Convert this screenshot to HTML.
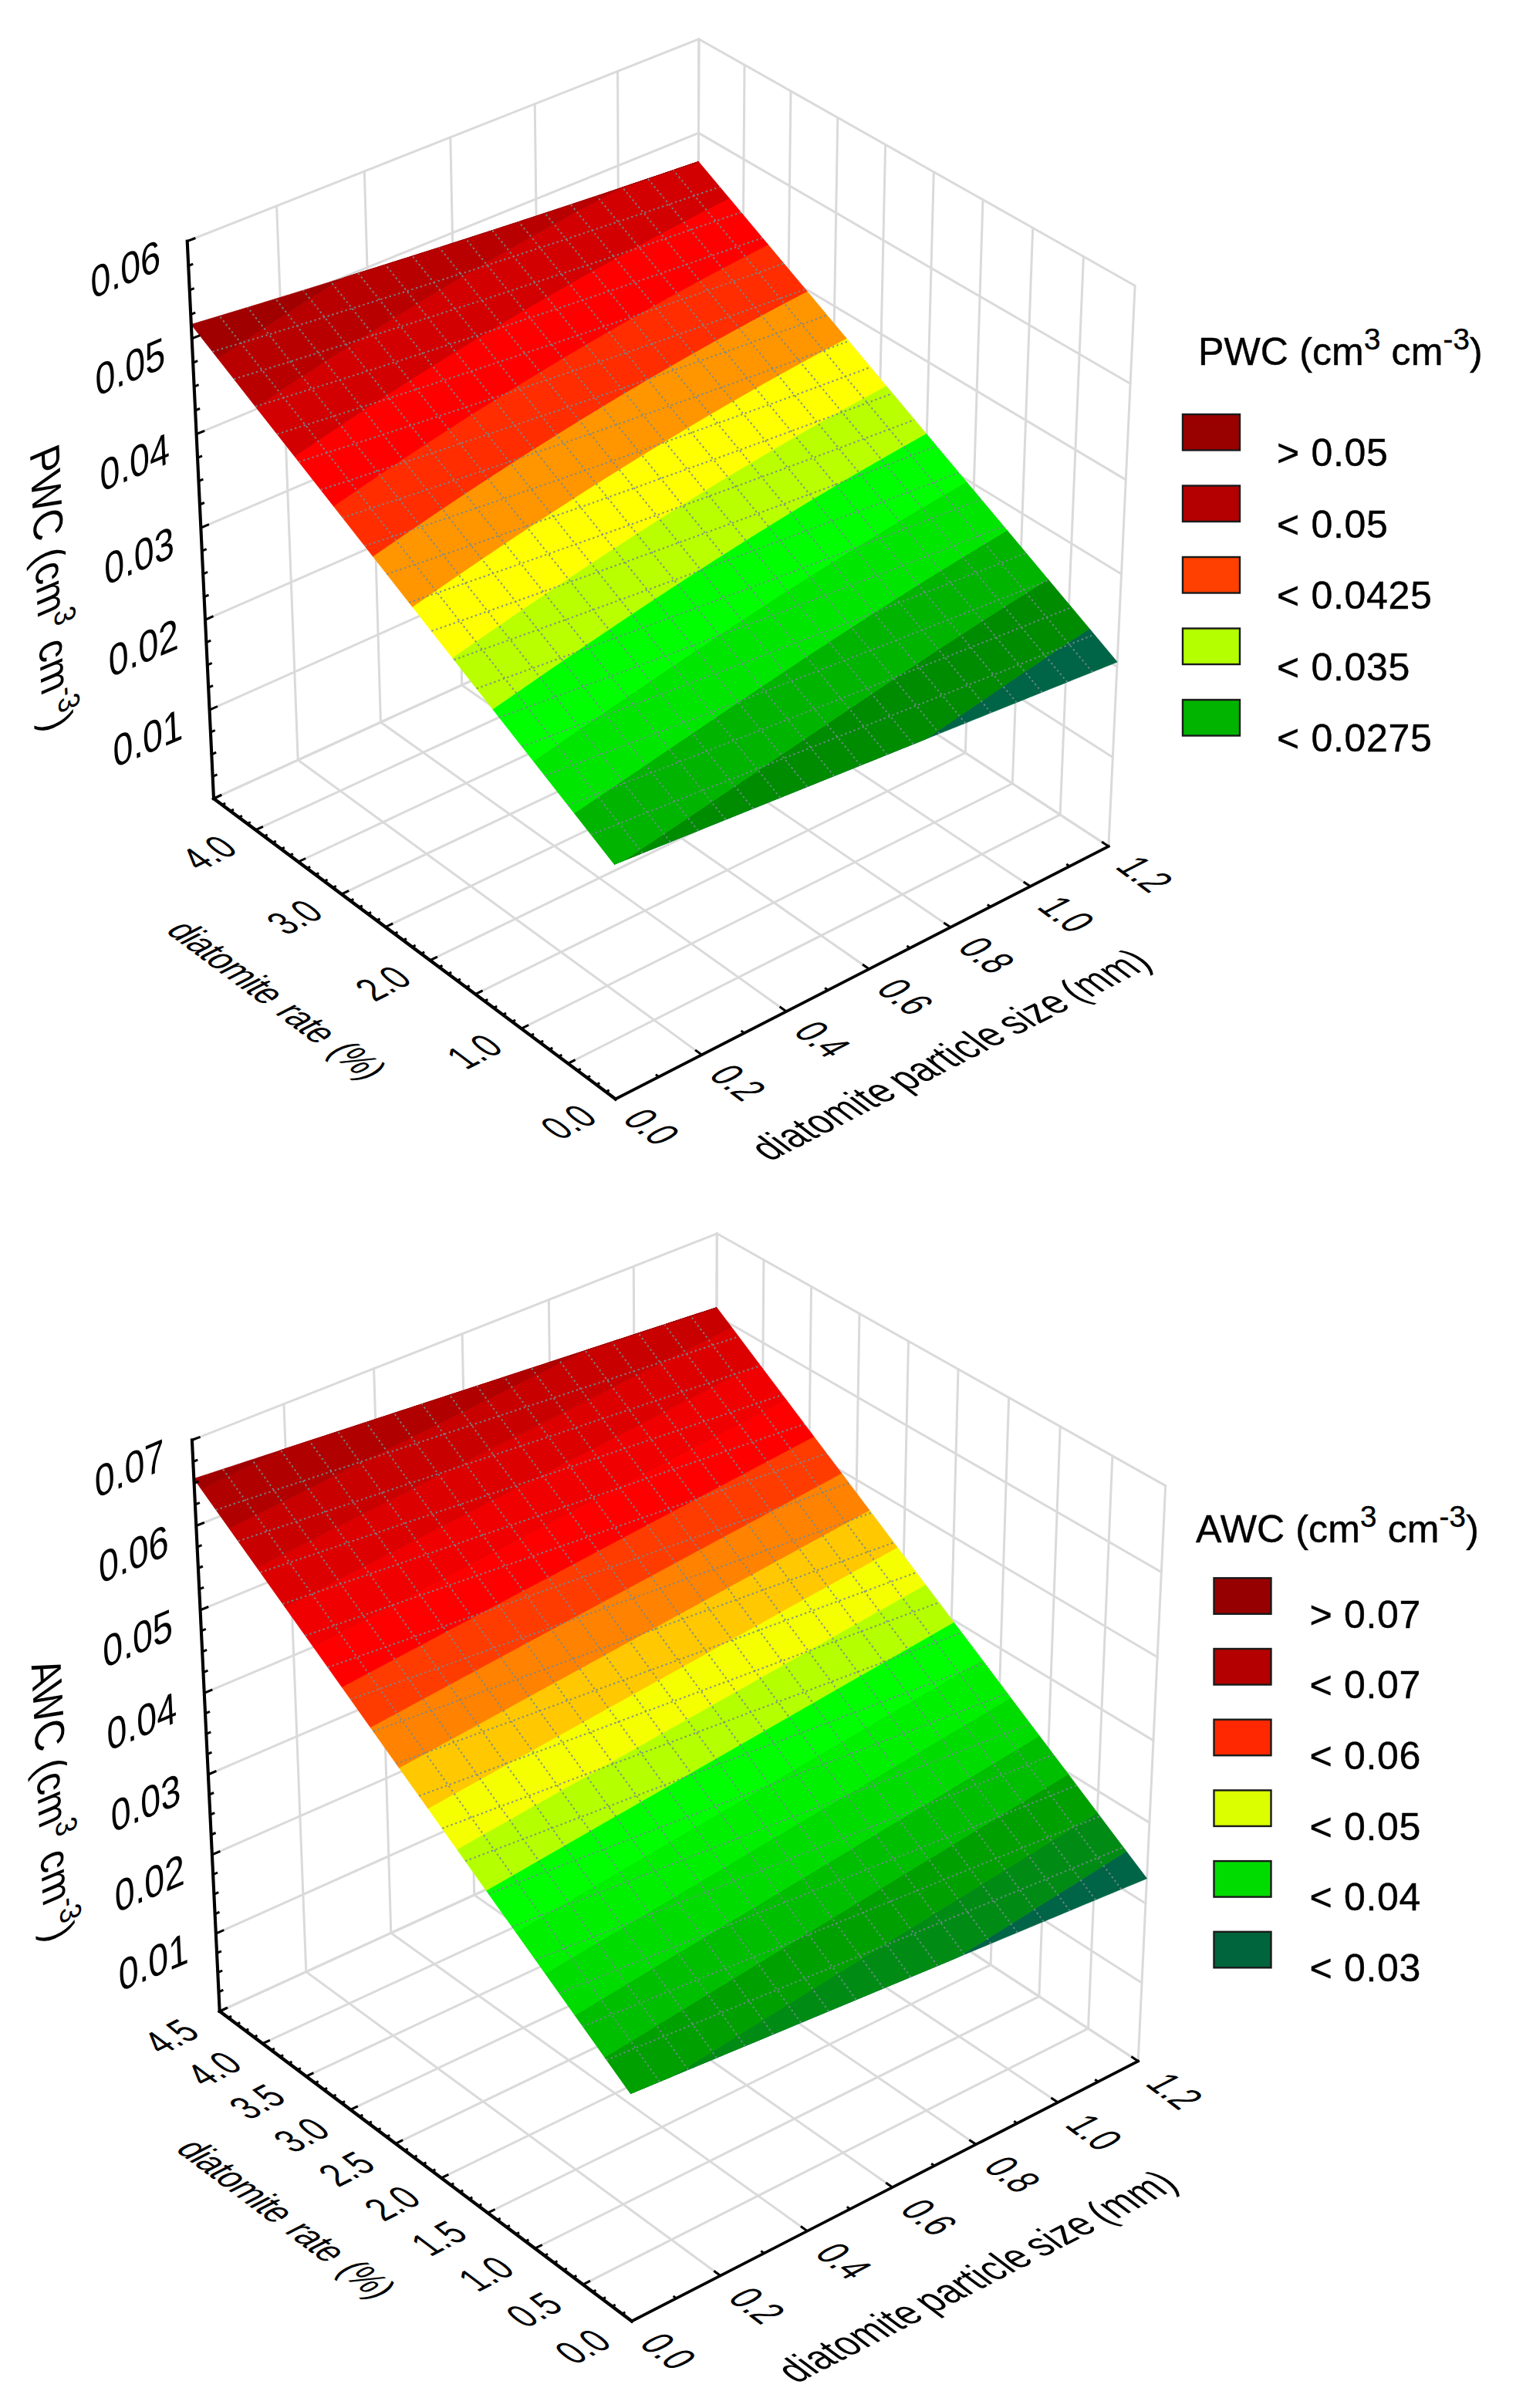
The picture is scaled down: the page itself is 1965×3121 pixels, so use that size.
<!DOCTYPE html>
<html><head><meta charset="utf-8"><title>Figure</title>
<style>html,body{margin:0;padding:0;background:#fff}svg{display:block}</style></head>
<body>
<svg width="1965" height="3121" viewBox="0 0 1965 3121" font-family="'Liberation Sans', sans-serif" fill="#000">
<g stroke-linecap="round">
<line x1="277" y1="1035" x2="242.7" y2="312.7" stroke="#dadada" stroke-width="3.0"/>
<line x1="797.8" y1="1424.4" x2="277" y2="1035" stroke="#dadada" stroke-width="3.0"/>
<line x1="386.2" y1="985" x2="358.6" y2="266.9" stroke="#dadada" stroke-width="3.0"/>
<line x1="909.6" y1="1367.1" x2="386.2" y2="985" stroke="#dadada" stroke-width="3.0"/>
<line x1="493.4" y1="936" x2="472.3" y2="222" stroke="#dadada" stroke-width="3.0"/>
<line x1="1019.2" y1="1310.9" x2="493.4" y2="936" stroke="#dadada" stroke-width="3.0"/>
<line x1="598.7" y1="887.9" x2="583.8" y2="178" stroke="#dadada" stroke-width="3.0"/>
<line x1="1126.6" y1="1255.9" x2="598.7" y2="887.9" stroke="#dadada" stroke-width="3.0"/>
<line x1="702.2" y1="840.6" x2="693.2" y2="134.7" stroke="#dadada" stroke-width="3.0"/>
<line x1="1232" y1="1201.8" x2="702.2" y2="840.6" stroke="#dadada" stroke-width="3.0"/>
<line x1="803.7" y1="794.2" x2="800.6" y2="92.3" stroke="#dadada" stroke-width="3.0"/>
<line x1="1335.4" y1="1148.8" x2="803.7" y2="794.2" stroke="#dadada" stroke-width="3.0"/>
<line x1="903.5" y1="748.6" x2="905.9" y2="50.7" stroke="#dadada" stroke-width="3.0"/>
<line x1="1436.9" y1="1096.9" x2="903.5" y2="748.6" stroke="#dadada" stroke-width="3.0"/>
<line x1="1436.9" y1="1096.9" x2="1471.1" y2="370.3" stroke="#dadada" stroke-width="3.0"/>
<line x1="797.8" y1="1424.4" x2="1436.9" y2="1096.9" stroke="#dadada" stroke-width="3.0"/>
<line x1="1374.1" y1="1055.9" x2="1404.4" y2="332.6" stroke="#dadada" stroke-width="3.0"/>
<line x1="736.3" y1="1378.4" x2="1374.1" y2="1055.9" stroke="#dadada" stroke-width="3.0"/>
<line x1="1312.3" y1="1015.5" x2="1338.7" y2="295.4" stroke="#dadada" stroke-width="3.0"/>
<line x1="675.8" y1="1333.1" x2="1312.3" y2="1015.5" stroke="#dadada" stroke-width="3.0"/>
<line x1="1251.3" y1="975.7" x2="1274" y2="258.9" stroke="#dadada" stroke-width="3.0"/>
<line x1="616.2" y1="1288.6" x2="1251.3" y2="975.7" stroke="#dadada" stroke-width="3.0"/>
<line x1="1191.3" y1="936.5" x2="1210.3" y2="222.8" stroke="#dadada" stroke-width="3.0"/>
<line x1="557.5" y1="1244.7" x2="1191.3" y2="936.5" stroke="#dadada" stroke-width="3.0"/>
<line x1="1132.1" y1="897.8" x2="1147.6" y2="187.4" stroke="#dadada" stroke-width="3.0"/>
<line x1="499.7" y1="1201.5" x2="1132.1" y2="897.8" stroke="#dadada" stroke-width="3.0"/>
<line x1="1073.7" y1="859.7" x2="1085.8" y2="152.4" stroke="#dadada" stroke-width="3.0"/>
<line x1="442.8" y1="1158.9" x2="1073.7" y2="859.7" stroke="#dadada" stroke-width="3.0"/>
<line x1="1016.2" y1="822.1" x2="1025" y2="118" stroke="#dadada" stroke-width="3.0"/>
<line x1="386.7" y1="1117" x2="1016.2" y2="822.1" stroke="#dadada" stroke-width="3.0"/>
<line x1="959.5" y1="785.1" x2="965" y2="84.1" stroke="#dadada" stroke-width="3.0"/>
<line x1="331.4" y1="1075.7" x2="959.5" y2="785.1" stroke="#dadada" stroke-width="3.0"/>
<line x1="903.5" y1="748.6" x2="905.9" y2="50.7" stroke="#dadada" stroke-width="3.0"/>
<line x1="277" y1="1035" x2="903.5" y2="748.6" stroke="#dadada" stroke-width="3.0"/>
<line x1="277" y1="1035" x2="903.5" y2="748.6" stroke="#dadada" stroke-width="3.0"/>
<line x1="903.5" y1="748.6" x2="1436.9" y2="1096.9" stroke="#dadada" stroke-width="3.0"/>
<line x1="271.5" y1="920.2" x2="903.9" y2="637.4" stroke="#dadada" stroke-width="3.0"/>
<line x1="903.9" y1="637.4" x2="1442.3" y2="981.5" stroke="#dadada" stroke-width="3.0"/>
<line x1="266" y1="803.3" x2="904.3" y2="524.2" stroke="#dadada" stroke-width="3.0"/>
<line x1="904.3" y1="524.2" x2="1447.8" y2="863.9" stroke="#dadada" stroke-width="3.0"/>
<line x1="260.3" y1="684.2" x2="904.7" y2="409.1" stroke="#dadada" stroke-width="3.0"/>
<line x1="904.7" y1="409.1" x2="1453.5" y2="744" stroke="#dadada" stroke-width="3.0"/>
<line x1="254.5" y1="562.7" x2="905.1" y2="291.8" stroke="#dadada" stroke-width="3.0"/>
<line x1="905.1" y1="291.8" x2="1459.3" y2="621.9" stroke="#dadada" stroke-width="3.0"/>
<line x1="248.7" y1="438.9" x2="905.5" y2="172.4" stroke="#dadada" stroke-width="3.0"/>
<line x1="905.5" y1="172.4" x2="1465.1" y2="497.3" stroke="#dadada" stroke-width="3.0"/>
<line x1="242.7" y1="312.7" x2="905.9" y2="50.7" stroke="#dadada" stroke-width="3.0"/>
<line x1="905.9" y1="50.7" x2="1471.1" y2="370.3" stroke="#dadada" stroke-width="3.0"/>
</g>
<g stroke-linejoin="round">
<polygon points="796.2,1120.2 802,1117.8 807.8,1115.5 813.6,1113.2 819.3,1110.9 825.1,1108.6 830.8,1106.2 836.6,1103.9 842.3,1101.6 848.1,1099.3 853.8,1097 859.5,1094.7 865.3,1092.4 871,1090.1 876.7,1087.8 882.4,1085.5 888.1,1083.2 893.8,1080.9 899.4,1078.7 905.1,1076.4 910.8,1074.1 916.4,1071.8 922.1,1069.5 927.7,1067.3 933.4,1065 939,1062.7 944.7,1060.5 950.3,1058.2 955.9,1055.9 961.5,1053.7 967.1,1051.4 972.7,1049.2 978.3,1046.9 983.9,1044.7 989.5,1042.4 995.1,1040.2 1000.6,1037.9 1006.2,1035.7 1011.8,1033.5 1017.3,1031.2 1022.9,1029 1028.4,1026.8 1034,1024.5 1039.5,1022.3 1045,1020.1 1050.5,1017.9 1056,1015.7 1061.5,1013.4 1067,1011.2 1072.5,1009 1078,1006.8 1083.5,1004.6 1089,1002.4 1094.5,1000.2 1099.9,998 1105.4,995.8 1110.8,993.6 1116.3,991.4 1121.7,989.2 1127.2,987.1 1132.6,984.9 1138,982.7 1143.4,980.5 1148.8,978.3 1154.2,976.2 1159.6,974 1165,971.8 1170.4,969.6 1175.8,967.5 1181.2,965.3 1186.6,963.2 1191.9,961 1197.3,958.8 1202.7,956.7 1208,954.5 1213.3,952.4 1218.7,950.2 1224,948.1 1229.3,946 1234.7,943.8 1240,941.7 1245.3,939.5 1250.6,937.4 1255.9,935.3 1261.2,933.1 1266.5,931 1271.8,928.9 1277,926.8 1282.3,924.6 1287.6,922.5 1292.8,920.4 1298.1,918.3 1303.3,916.2 1308.6,914.1 1313.8,912 1319.1,909.9 1324.3,907.8 1329.5,905.7 1334.7,903.6 1339.9,901.5 1345.1,899.4 1350.3,897.3 1355.5,895.2 1360.7,893.1 1365.9,891 1371.1,888.9 1376.3,886.9 1381.4,884.8 1386.6,882.7 1391.7,880.6 1396.9,878.6 1402,876.5 1407.2,874.4 1412.3,872.4 1417.5,870.3 1422.6,868.2 1427.7,866.2 1432.8,864.1 1437.9,862.1 1443,860 1448.1,858 1412,814.8 1407.6,817.7 1403.2,820.6 1398.8,823.5 1394.4,826.4 1390,829.3 1385.6,832.2 1381.2,835.1 1376.8,838.1 1372.4,841 1368,844 1363.5,846.9 1359.1,849.8 1354.7,852.8 1350.3,855.8 1345.8,858.7 1341.4,861.7 1337,864.7 1332.5,867.7 1328.1,870.7 1323.7,873.7 1319.2,876.7 1314.8,879.7 1310.3,882.7 1305.9,885.7 1301.4,888.7 1296.9,891.7 1292.5,894.8 1288,897.8 1283.5,900.9 1279.1,903.9 1274.6,907 1270.1,910 1265.6,913.1 1261.1,916.1 1256.6,919.2 1252.2,922.3 1247.7,925.4 1243.1,928.4 1238.6,931.5 1234.1,934.6 1229.6,937.7 1225.1,940.8 1220.6,943.9 1216,947 1211.5,950.2 1207,953.3 1202.4,956.4 1197.3,958.8 1191.9,961 1186.6,963.2 1181.2,965.3 1175.8,967.5 1170.4,969.6 1165,971.8 1159.6,974 1154.2,976.2 1148.8,978.3 1143.4,980.5 1138,982.7 1132.6,984.9 1127.2,987.1 1121.7,989.2 1116.3,991.4 1110.8,993.6 1105.4,995.8 1099.9,998 1094.5,1000.2 1089,1002.4 1083.5,1004.6 1078,1006.8 1072.5,1009 1067,1011.2 1061.5,1013.4 1056,1015.7 1050.5,1017.9 1045,1020.1 1039.5,1022.3 1034,1024.5 1028.4,1026.8 1022.9,1029 1017.3,1031.2 1011.8,1033.5 1006.2,1035.7 1000.6,1037.9 995.1,1040.2 989.5,1042.4 983.9,1044.7 978.3,1046.9 972.7,1049.2 967.1,1051.4 961.5,1053.7 955.9,1055.9 950.3,1058.2 944.7,1060.5 939,1062.7 933.4,1065 927.7,1067.3 922.1,1069.5 916.4,1071.8 910.8,1074.1 905.1,1076.4 899.4,1078.7 893.8,1080.9 888.1,1083.2 882.4,1085.5 876.7,1087.8 871,1090.1 865.3,1092.4 859.5,1094.7 853.8,1097 848.1,1099.3 842.3,1101.6 836.6,1103.9 830.8,1106.2 825.1,1108.6 819.3,1110.9 813.6,1113.2 807.8,1115.5 802,1117.8 796.2,1120.2" fill="#006446" stroke="#006446" stroke-width="0.8"/>
<polygon points="796.2,1120.2 802,1117.8 807.8,1115.5 813.6,1113.2 819.3,1110.9 825.1,1108.6 830.8,1106.2 836.6,1103.9 842.3,1101.6 848.1,1099.3 853.8,1097 859.5,1094.7 865.3,1092.4 871,1090.1 876.7,1087.8 882.4,1085.5 888.1,1083.2 893.8,1080.9 899.4,1078.7 905.1,1076.4 910.8,1074.1 916.4,1071.8 922.1,1069.5 927.7,1067.3 933.4,1065 939,1062.7 944.7,1060.5 950.3,1058.2 955.9,1055.9 961.5,1053.7 967.1,1051.4 972.7,1049.2 978.3,1046.9 983.9,1044.7 989.5,1042.4 995.1,1040.2 1000.6,1037.9 1006.2,1035.7 1011.8,1033.5 1017.3,1031.2 1022.9,1029 1028.4,1026.8 1034,1024.5 1039.5,1022.3 1045,1020.1 1050.5,1017.9 1056,1015.7 1061.5,1013.4 1067,1011.2 1072.5,1009 1078,1006.8 1083.5,1004.6 1089,1002.4 1094.5,1000.2 1099.9,998 1105.4,995.8 1110.8,993.6 1116.3,991.4 1121.7,989.2 1127.2,987.1 1132.6,984.9 1138,982.7 1143.4,980.5 1148.8,978.3 1154.2,976.2 1159.6,974 1165,971.8 1170.4,969.6 1175.8,967.5 1181.2,965.3 1186.6,963.2 1191.9,961 1197.3,958.8 1202.4,956.4 1207,953.3 1211.5,950.2 1216,947 1220.6,943.9 1225.1,940.8 1229.6,937.7 1234.1,934.6 1238.6,931.5 1243.1,928.4 1247.7,925.4 1252.2,922.3 1256.6,919.2 1261.1,916.1 1265.6,913.1 1270.1,910 1274.6,907 1279.1,903.9 1283.5,900.9 1288,897.8 1292.5,894.8 1296.9,891.7 1301.4,888.7 1305.9,885.7 1310.3,882.7 1314.8,879.7 1319.2,876.7 1323.7,873.7 1328.1,870.7 1332.5,867.7 1337,864.7 1341.4,861.7 1345.8,858.7 1350.3,855.8 1354.7,852.8 1359.1,849.8 1363.5,846.9 1368,844 1372.4,841 1376.8,838.1 1381.2,835.1 1385.6,832.2 1390,829.3 1394.4,826.4 1398.8,823.5 1403.2,820.6 1407.6,817.7 1412,814.8 1358.4,750.8 1354,753.6 1349.5,756.4 1345,759.2 1340.5,762 1336.1,764.8 1331.6,767.6 1327.1,770.5 1322.6,773.3 1318.1,776.1 1313.6,779 1309.1,781.8 1304.6,784.7 1300.2,787.5 1295.7,790.4 1291.2,793.3 1286.7,796.2 1282.2,799.1 1277.7,801.9 1273.2,804.8 1268.7,807.7 1264.1,810.7 1259.6,813.6 1255.1,816.5 1250.6,819.4 1246.1,822.4 1241.6,825.3 1237,828.2 1232.5,831.2 1228,834.1 1223.5,837.1 1218.9,840.1 1214.4,843.1 1209.9,846 1205.3,849 1200.8,852 1196.2,855 1191.7,858 1187.2,861 1182.6,864 1178,867 1173.5,870.1 1168.9,873.1 1164.4,876.1 1159.8,879.2 1155.2,882.2 1150.6,885.3 1146.1,888.3 1141.5,891.4 1136.9,894.5 1132.3,897.5 1127.7,900.6 1123.1,903.7 1118.5,906.8 1113.9,909.9 1109.3,913 1104.7,916.1 1100.1,919.2 1095.5,922.3 1090.9,925.4 1086.2,928.5 1081.6,931.6 1077,934.8 1072.3,937.9 1067.7,941 1063,944.2 1058.4,947.3 1053.7,950.5 1049,953.6 1044.4,956.8 1039.7,960 1035,963.1 1030.3,966.3 1025.6,969.5 1021,972.6 1016.3,975.8 1011.5,979 1006.8,982.2 1002.1,985.4 997.4,988.6 992.7,991.8 987.9,995 983.2,998.2 978.4,1001.4 973.7,1004.7 968.9,1007.9 964.2,1011.1 959.4,1014.3 954.6,1017.6 949.8,1020.8 945,1024 940.2,1027.3 935.4,1030.5 930.6,1033.8 925.8,1037 921,1040.3 916.2,1043.5 911.3,1046.8 906.5,1050 901.6,1053.3 896.8,1056.5 891.9,1059.8 887,1063.1 882.1,1066.3 877.2,1069.6 872.3,1072.9 867.4,1076.2 862.5,1079.5 857.6,1082.7 852.6,1086 847.7,1089.3 842.8,1092.6 837.8,1095.9 832.8,1099.2 827.9,1102.5 822.9,1105.7 817.9,1109 812.9,1112.3 807.8,1115.5 802,1117.8 796.2,1120.2" fill="#008c00" stroke="#008c00" stroke-width="0.8"/>
<polygon points="796.2,1120.2 802,1117.8 807.8,1115.5 812.9,1112.3 817.9,1109 822.9,1105.7 827.9,1102.5 832.8,1099.2 837.8,1095.9 842.8,1092.6 847.7,1089.3 852.6,1086 857.6,1082.7 862.5,1079.5 867.4,1076.2 872.3,1072.9 877.2,1069.6 882.1,1066.3 887,1063.1 891.9,1059.8 896.8,1056.5 901.6,1053.3 906.5,1050 911.3,1046.8 916.2,1043.5 921,1040.3 925.8,1037 930.6,1033.8 935.4,1030.5 940.2,1027.3 945,1024 949.8,1020.8 954.6,1017.6 959.4,1014.3 964.2,1011.1 968.9,1007.9 973.7,1004.7 978.4,1001.4 983.2,998.2 987.9,995 992.7,991.8 997.4,988.6 1002.1,985.4 1006.8,982.2 1011.5,979 1016.3,975.8 1021,972.6 1025.6,969.5 1030.3,966.3 1035,963.1 1039.7,960 1044.4,956.8 1049,953.6 1053.7,950.5 1058.4,947.3 1063,944.2 1067.7,941 1072.3,937.9 1077,934.8 1081.6,931.6 1086.2,928.5 1090.9,925.4 1095.5,922.3 1100.1,919.2 1104.7,916.1 1109.3,913 1113.9,909.9 1118.5,906.8 1123.1,903.7 1127.7,900.6 1132.3,897.5 1136.9,894.5 1141.5,891.4 1146.1,888.3 1150.6,885.3 1155.2,882.2 1159.8,879.2 1164.4,876.1 1168.9,873.1 1173.5,870.1 1178,867 1182.6,864 1187.2,861 1191.7,858 1196.2,855 1200.8,852 1205.3,849 1209.9,846 1214.4,843.1 1218.9,840.1 1223.5,837.1 1228,834.1 1232.5,831.2 1237,828.2 1241.6,825.3 1246.1,822.4 1250.6,819.4 1255.1,816.5 1259.6,813.6 1264.1,810.7 1268.7,807.7 1273.2,804.8 1277.7,801.9 1282.2,799.1 1286.7,796.2 1291.2,793.3 1295.7,790.4 1300.2,787.5 1304.6,784.7 1309.1,781.8 1313.6,779 1318.1,776.1 1322.6,773.3 1327.1,770.5 1331.6,767.6 1336.1,764.8 1340.5,762 1345,759.2 1349.5,756.4 1354,753.6 1358.4,750.8 1305.3,687.3 1300.8,690.1 1296.3,692.8 1291.7,695.5 1287.2,698.2 1282.6,700.9 1278.1,703.7 1273.5,706.4 1269,709.1 1264.5,711.9 1259.9,714.7 1255.4,717.4 1250.8,720.2 1246.3,723 1241.7,725.8 1237.2,728.6 1232.6,731.4 1228.1,734.2 1223.5,737 1218.9,739.8 1214.4,742.6 1209.8,745.5 1205.3,748.3 1200.7,751.1 1196.1,754 1191.6,756.9 1187,759.7 1182.5,762.6 1177.9,765.5 1173.3,768.3 1168.7,771.2 1164.2,774.1 1159.6,777 1155,779.9 1150.4,782.9 1145.9,785.8 1141.3,788.7 1136.7,791.6 1132.1,794.6 1127.5,797.5 1122.9,800.5 1118.3,803.4 1113.7,806.4 1109.2,809.4 1104.6,812.3 1100,815.3 1095.4,818.3 1090.7,821.3 1086.1,824.3 1081.5,827.3 1076.9,830.3 1072.3,833.3 1067.7,836.4 1063.1,839.4 1058.4,842.4 1053.8,845.5 1049.2,848.5 1044.6,851.6 1039.9,854.6 1035.3,857.7 1030.7,860.8 1026,863.9 1021.4,866.9 1016.7,870 1012.1,873.1 1007.4,876.2 1002.8,879.3 998.1,882.4 993.4,885.5 988.8,888.7 984.1,891.8 979.4,894.9 974.7,898.1 970,901.2 965.4,904.3 960.7,907.5 956,910.7 951.3,913.8 946.6,917 941.9,920.2 937.2,923.3 932.4,926.5 927.7,929.7 923,932.9 918.3,936.1 913.5,939.3 908.8,942.5 904,945.7 899.3,948.9 894.5,952.2 889.8,955.4 885,958.6 880.2,961.8 875.5,965.1 870.7,968.3 865.9,971.6 861.1,974.8 856.3,978.1 851.5,981.3 846.7,984.6 841.9,987.9 837.1,991.1 832.2,994.4 827.4,997.7 822.6,1001 817.7,1004.2 812.9,1007.5 808,1010.8 803.2,1014.1 798.3,1017.4 793.4,1020.7 788.5,1024 783.6,1027.3 778.8,1030.6 773.9,1034 768.9,1037.3 764,1040.6 759.1,1043.9 754.2,1047.3 749.2,1050.6 744.3,1053.9" fill="#00b400" stroke="#00b400" stroke-width="0.8"/>
<polygon points="744.3,1053.9 749.2,1050.6 754.2,1047.3 759.1,1043.9 764,1040.6 768.9,1037.3 773.9,1034 778.8,1030.6 783.6,1027.3 788.5,1024 793.4,1020.7 798.3,1017.4 803.2,1014.1 808,1010.8 812.9,1007.5 817.7,1004.2 822.6,1001 827.4,997.7 832.2,994.4 837.1,991.1 841.9,987.9 846.7,984.6 851.5,981.3 856.3,978.1 861.1,974.8 865.9,971.6 870.7,968.3 875.5,965.1 880.2,961.8 885,958.6 889.8,955.4 894.5,952.2 899.3,948.9 904,945.7 908.8,942.5 913.5,939.3 918.3,936.1 923,932.9 927.7,929.7 932.4,926.5 937.2,923.3 941.9,920.2 946.6,917 951.3,913.8 956,910.7 960.7,907.5 965.4,904.3 970,901.2 974.7,898.1 979.4,894.9 984.1,891.8 988.8,888.7 993.4,885.5 998.1,882.4 1002.8,879.3 1007.4,876.2 1012.1,873.1 1016.7,870 1021.4,866.9 1026,863.9 1030.7,860.8 1035.3,857.7 1039.9,854.6 1044.6,851.6 1049.2,848.5 1053.8,845.5 1058.4,842.4 1063.1,839.4 1067.7,836.4 1072.3,833.3 1076.9,830.3 1081.5,827.3 1086.1,824.3 1090.7,821.3 1095.4,818.3 1100,815.3 1104.6,812.3 1109.2,809.4 1113.7,806.4 1118.3,803.4 1122.9,800.5 1127.5,797.5 1132.1,794.6 1136.7,791.6 1141.3,788.7 1145.9,785.8 1150.4,782.9 1155,779.9 1159.6,777 1164.2,774.1 1168.7,771.2 1173.3,768.3 1177.9,765.5 1182.5,762.6 1187,759.7 1191.6,756.9 1196.1,754 1200.7,751.1 1205.3,748.3 1209.8,745.5 1214.4,742.6 1218.9,739.8 1223.5,737 1228.1,734.2 1232.6,731.4 1237.2,728.6 1241.7,725.8 1246.3,723 1250.8,720.2 1255.4,717.4 1259.9,714.7 1264.5,711.9 1269,709.1 1273.5,706.4 1278.1,703.7 1282.6,700.9 1287.2,698.2 1291.7,695.5 1296.3,692.8 1300.8,690.1 1305.3,687.3 1252.6,624.4 1248.1,627 1243.5,629.7 1238.9,632.3 1234.3,635 1229.7,637.6 1225.1,640.3 1220.5,642.9 1215.9,645.6 1211.3,648.3 1206.8,651 1202.2,653.7 1197.6,656.4 1193,659.1 1188.4,661.8 1183.8,664.5 1179.2,667.3 1174.6,670 1170,672.8 1165.4,675.5 1160.8,678.3 1156.2,681 1151.6,683.8 1147,686.6 1142.4,689.4 1137.8,692.2 1133.2,694.9 1128.6,697.8 1124,700.6 1119.4,703.4 1114.8,706.2 1110.2,709 1105.6,711.9 1101,714.7 1096.4,717.6 1091.8,720.4 1087.2,723.3 1082.6,726.2 1077.9,729.1 1073.3,731.9 1068.7,734.8 1064.1,737.7 1059.5,740.6 1054.9,743.5 1050.2,746.5 1045.6,749.4 1041,752.3 1036.4,755.3 1031.7,758.2 1027.1,761.2 1022.5,764.1 1017.8,767.1 1013.2,770.1 1008.6,773 1003.9,776 999.3,779 994.7,782 990,785 985.4,788 980.7,791 976.1,794.1 971.4,797.1 966.8,800.1 962.1,803.2 957.4,806.2 952.8,809.3 948.1,812.3 943.5,815.4 938.8,818.5 934.1,821.6 929.4,824.7 924.8,827.8 920.1,830.9 915.4,834 910.7,837.1 906,840.2 901.4,843.3 896.7,846.4 892,849.6 887.3,852.7 882.6,855.9 877.9,859 873.2,862.2 868.4,865.3 863.7,868.5 859,871.7 854.3,874.9 849.6,878.1 844.8,881.3 840.1,884.5 835.4,887.7 830.6,890.9 825.9,894.1 821.1,897.3 816.4,900.5 811.6,903.8 806.9,907 802.1,910.3 797.3,913.5 792.6,916.8 787.8,920 783,923.3 778.2,926.5 773.4,929.8 768.6,933.1 763.8,936.4 759,939.7 754.2,943 749.4,946.3 744.6,949.6 739.8,952.9 734.9,956.2 730.1,959.5 725.2,962.8 720.4,966.2 715.5,969.5 710.7,972.8 705.8,976.2 701,979.5 696.1,982.9 691.2,986.2" fill="#00e600" stroke="#00e600" stroke-width="0.8"/>
<polygon points="691.2,986.2 696.1,982.9 701,979.5 705.8,976.2 710.7,972.8 715.5,969.5 720.4,966.2 725.2,962.8 730.1,959.5 734.9,956.2 739.8,952.9 744.6,949.6 749.4,946.3 754.2,943 759,939.7 763.8,936.4 768.6,933.1 773.4,929.8 778.2,926.5 783,923.3 787.8,920 792.6,916.8 797.3,913.5 802.1,910.3 806.9,907 811.6,903.8 816.4,900.5 821.1,897.3 825.9,894.1 830.6,890.9 835.4,887.7 840.1,884.5 844.8,881.3 849.6,878.1 854.3,874.9 859,871.7 863.7,868.5 868.4,865.3 873.2,862.2 877.9,859 882.6,855.9 887.3,852.7 892,849.6 896.7,846.4 901.4,843.3 906,840.2 910.7,837.1 915.4,834 920.1,830.9 924.8,827.8 929.4,824.7 934.1,821.6 938.8,818.5 943.5,815.4 948.1,812.3 952.8,809.3 957.4,806.2 962.1,803.2 966.8,800.1 971.4,797.1 976.1,794.1 980.7,791 985.4,788 990,785 994.7,782 999.3,779 1003.9,776 1008.6,773 1013.2,770.1 1017.8,767.1 1022.5,764.1 1027.1,761.2 1031.7,758.2 1036.4,755.3 1041,752.3 1045.6,749.4 1050.2,746.5 1054.9,743.5 1059.5,740.6 1064.1,737.7 1068.7,734.8 1073.3,731.9 1077.9,729.1 1082.6,726.2 1087.2,723.3 1091.8,720.4 1096.4,717.6 1101,714.7 1105.6,711.9 1110.2,709 1114.8,706.2 1119.4,703.4 1124,700.6 1128.6,697.8 1133.2,694.9 1137.8,692.2 1142.4,689.4 1147,686.6 1151.6,683.8 1156.2,681 1160.8,678.3 1165.4,675.5 1170,672.8 1174.6,670 1179.2,667.3 1183.8,664.5 1188.4,661.8 1193,659.1 1197.6,656.4 1202.2,653.7 1206.8,651 1211.3,648.3 1215.9,645.6 1220.5,642.9 1225.1,640.3 1229.7,637.6 1234.3,635 1238.9,632.3 1243.5,629.7 1248.1,627 1252.6,624.4 1200.4,562 1195.8,564.5 1191.1,567.1 1186.5,569.7 1181.9,572.3 1177.3,574.9 1172.6,577.5 1168,580.1 1163.4,582.7 1158.8,585.3 1154.2,587.9 1149.5,590.6 1144.9,593.2 1140.3,595.9 1135.7,598.5 1131,601.2 1126.4,603.9 1121.8,606.5 1117.2,609.2 1112.5,611.9 1107.9,614.6 1103.3,617.3 1098.7,620 1094,622.7 1089.4,625.5 1084.8,628.2 1080.1,630.9 1075.5,633.7 1070.9,636.4 1066.3,639.2 1061.6,642 1057,644.8 1052.4,647.5 1047.7,650.3 1043.1,653.1 1038.5,655.9 1033.8,658.7 1029.2,661.6 1024.6,664.4 1019.9,667.2 1015.3,670.1 1010.7,672.9 1006,675.7 1001.4,678.6 996.7,681.5 992.1,684.4 987.5,687.2 982.8,690.1 978.2,693 973.5,695.9 968.9,698.8 964.2,701.7 959.6,704.7 954.9,707.6 950.3,710.5 945.6,713.5 941,716.4 936.3,719.4 931.7,722.4 927,725.3 922.4,728.3 917.7,731.3 913,734.3 908.4,737.3 903.7,740.3 899,743.3 894.4,746.3 889.7,749.3 885,752.4 880.4,755.4 875.7,758.5 871,761.5 866.3,764.6 861.7,767.7 857,770.7 852.3,773.8 847.6,776.9 842.9,780 838.2,783.1 833.5,786.2 828.8,789.3 824.1,792.4 819.4,795.6 814.7,798.7 810,801.8 805.3,805 800.6,808.1 795.9,811.3 791.2,814.5 786.5,817.6 781.8,820.8 777,824 772.3,827.2 767.6,830.4 762.8,833.6 758.1,836.8 753.4,840 748.6,843.3 743.9,846.5 739.1,849.7 734.4,853 729.6,856.2 724.9,859.5 720.1,862.7 715.3,866 710.6,869.3 705.8,872.6 701,875.8 696.3,879.1 691.5,882.4 686.7,885.7 681.9,889 677.1,892.4 672.3,895.7 667.5,899 662.7,902.3 657.9,905.7 653,909 648.2,912.3 643.4,915.7 638.6,919.1" fill="#00ff00" stroke="#00ff00" stroke-width="0.8"/>
<polygon points="638.6,919.1 643.4,915.7 648.2,912.3 653,909 657.9,905.7 662.7,902.3 667.5,899 672.3,895.7 677.1,892.4 681.9,889 686.7,885.7 691.5,882.4 696.3,879.1 701,875.8 705.8,872.6 710.6,869.3 715.3,866 720.1,862.7 724.9,859.5 729.6,856.2 734.4,853 739.1,849.7 743.9,846.5 748.6,843.3 753.4,840 758.1,836.8 762.8,833.6 767.6,830.4 772.3,827.2 777,824 781.8,820.8 786.5,817.6 791.2,814.5 795.9,811.3 800.6,808.1 805.3,805 810,801.8 814.7,798.7 819.4,795.6 824.1,792.4 828.8,789.3 833.5,786.2 838.2,783.1 842.9,780 847.6,776.9 852.3,773.8 857,770.7 861.7,767.7 866.3,764.6 871,761.5 875.7,758.5 880.4,755.4 885,752.4 889.7,749.3 894.4,746.3 899,743.3 903.7,740.3 908.4,737.3 913,734.3 917.7,731.3 922.4,728.3 927,725.3 931.7,722.4 936.3,719.4 941,716.4 945.6,713.5 950.3,710.5 954.9,707.6 959.6,704.7 964.2,701.7 968.9,698.8 973.5,695.9 978.2,693 982.8,690.1 987.5,687.2 992.1,684.4 996.7,681.5 1001.4,678.6 1006,675.7 1010.7,672.9 1015.3,670.1 1019.9,667.2 1024.6,664.4 1029.2,661.6 1033.8,658.7 1038.5,655.9 1043.1,653.1 1047.7,650.3 1052.4,647.5 1057,644.8 1061.6,642 1066.3,639.2 1070.9,636.4 1075.5,633.7 1080.1,630.9 1084.8,628.2 1089.4,625.5 1094,622.7 1098.7,620 1103.3,617.3 1107.9,614.6 1112.5,611.9 1117.2,609.2 1121.8,606.5 1126.4,603.9 1131,601.2 1135.7,598.5 1140.3,595.9 1144.9,593.2 1149.5,590.6 1154.2,587.9 1158.8,585.3 1163.4,582.7 1168,580.1 1172.6,577.5 1177.3,574.9 1181.9,572.3 1186.5,569.7 1191.1,567.1 1195.8,564.5 1200.4,562 1148.5,500 1143.9,502.5 1139.2,505.1 1134.6,507.6 1129.9,510.1 1125.3,512.7 1120.7,515.2 1116,517.8 1111.4,520.3 1106.7,522.9 1102.1,525.5 1097.4,528.1 1092.8,530.6 1088.1,533.2 1083.5,535.8 1078.8,538.5 1074.2,541.1 1069.5,543.7 1064.9,546.3 1060.3,549 1055.6,551.6 1051,554.3 1046.3,556.9 1041.7,559.6 1037,562.3 1032.4,565 1027.7,567.7 1023.1,570.4 1018.4,573.1 1013.8,575.8 1009.1,578.5 1004.5,581.2 999.8,583.9 995.2,586.7 990.5,589.4 985.9,592.2 981.2,595 976.6,597.7 971.9,600.5 967.3,603.3 962.6,606.1 958,608.9 953.3,611.7 948.7,614.5 944,617.3 939.4,620.1 934.7,623 930,625.8 925.4,628.7 920.7,631.5 916.1,634.4 911.4,637.2 906.8,640.1 902.1,643 897.4,645.9 892.8,648.8 888.1,651.7 883.4,654.6 878.8,657.5 874.1,660.5 869.5,663.4 864.8,666.3 860.1,669.3 855.4,672.3 850.8,675.2 846.1,678.2 841.4,681.2 836.8,684.2 832.1,687.1 827.4,690.1 822.7,693.2 818.1,696.2 813.4,699.2 808.7,702.2 804,705.3 799.3,708.3 794.6,711.4 790,714.4 785.3,717.5 780.6,720.5 775.9,723.6 771.2,726.7 766.5,729.8 761.8,732.9 757.1,736 752.4,739.1 747.7,742.3 743,745.4 738.3,748.5 733.6,751.7 728.9,754.8 724.2,758 719.4,761.1 714.7,764.3 710,767.5 705.3,770.7 700.6,773.9 695.8,777.1 691.1,780.3 686.4,783.5 681.6,786.7 676.9,789.9 672.2,793.2 667.4,796.4 662.7,799.6 657.9,802.9 653.2,806.2 648.4,809.4 643.7,812.7 638.9,816 634.2,819.3 629.4,822.6 624.6,825.9 619.9,829.2 615.1,832.5 610.3,835.8 605.5,839.1 600.8,842.4 596,845.8 591.2,849.1 586.4,852.5" fill="#b9ff00" stroke="#b9ff00" stroke-width="0.8"/>
<polygon points="586.4,852.5 591.2,849.1 596,845.8 600.8,842.4 605.5,839.1 610.3,835.8 615.1,832.5 619.9,829.2 624.6,825.9 629.4,822.6 634.2,819.3 638.9,816 643.7,812.7 648.4,809.4 653.2,806.2 657.9,802.9 662.7,799.6 667.4,796.4 672.2,793.2 676.9,789.9 681.6,786.7 686.4,783.5 691.1,780.3 695.8,777.1 700.6,773.9 705.3,770.7 710,767.5 714.7,764.3 719.4,761.1 724.2,758 728.9,754.8 733.6,751.7 738.3,748.5 743,745.4 747.7,742.3 752.4,739.1 757.1,736 761.8,732.9 766.5,729.8 771.2,726.7 775.9,723.6 780.6,720.5 785.3,717.5 790,714.4 794.6,711.4 799.3,708.3 804,705.3 808.7,702.2 813.4,699.2 818.1,696.2 822.7,693.2 827.4,690.1 832.1,687.1 836.8,684.2 841.4,681.2 846.1,678.2 850.8,675.2 855.4,672.3 860.1,669.3 864.8,666.3 869.5,663.4 874.1,660.5 878.8,657.5 883.4,654.6 888.1,651.7 892.8,648.8 897.4,645.9 902.1,643 906.8,640.1 911.4,637.2 916.1,634.4 920.7,631.5 925.4,628.7 930,625.8 934.7,623 939.4,620.1 944,617.3 948.7,614.5 953.3,611.7 958,608.9 962.6,606.1 967.3,603.3 971.9,600.5 976.6,597.7 981.2,595 985.9,592.2 990.5,589.4 995.2,586.7 999.8,583.9 1004.5,581.2 1009.1,578.5 1013.8,575.8 1018.4,573.1 1023.1,570.4 1027.7,567.7 1032.4,565 1037,562.3 1041.7,559.6 1046.3,556.9 1051,554.3 1055.6,551.6 1060.3,549 1064.9,546.3 1069.5,543.7 1074.2,541.1 1078.8,538.5 1083.5,535.8 1088.1,533.2 1092.8,530.6 1097.4,528.1 1102.1,525.5 1106.7,522.9 1111.4,520.3 1116,517.8 1120.7,515.2 1125.3,512.7 1129.9,510.1 1134.6,507.6 1139.2,505.1 1143.9,502.5 1148.5,500 1097.1,438.6 1092.4,441 1087.8,443.5 1083.1,446 1078.5,448.5 1073.8,451 1069.1,453.5 1064.5,456 1059.8,458.5 1055.1,461 1050.5,463.6 1045.8,466.1 1041.2,468.7 1036.5,471.2 1031.8,473.8 1027.2,476.3 1022.5,478.9 1017.9,481.5 1013.2,484.1 1008.5,486.7 1003.9,489.3 999.2,491.9 994.5,494.5 989.9,497.1 985.2,499.8 980.6,502.4 975.9,505 971.2,507.7 966.6,510.4 961.9,513 957.3,515.7 952.6,518.4 947.9,521.1 943.3,523.8 938.6,526.5 933.9,529.2 929.3,531.9 924.6,534.6 920,537.3 915.3,540.1 910.6,542.8 906,545.6 901.3,548.3 896.6,551.1 892,553.9 887.3,556.7 882.6,559.5 878,562.3 873.3,565.1 868.6,567.9 864,570.7 859.3,573.5 854.6,576.4 850,579.2 845.3,582 840.6,584.9 836,587.8 831.3,590.6 826.6,593.5 822,596.4 817.3,599.3 812.6,602.2 807.9,605.1 803.3,608 798.6,610.9 793.9,613.9 789.2,616.8 784.5,619.8 779.9,622.7 775.2,625.7 770.5,628.6 765.8,631.6 761.1,634.6 756.5,637.6 751.8,640.6 747.1,643.6 742.4,646.6 737.7,649.6 733,652.7 728.3,655.7 723.7,658.7 719,661.8 714.3,664.8 709.6,667.9 704.9,671 700.2,674.1 695.5,677.1 690.8,680.2 686.1,683.3 681.4,686.4 676.7,689.6 672,692.7 667.3,695.8 662.5,699 657.8,702.1 653.1,705.3 648.4,708.4 643.7,711.6 639,714.8 634.3,717.9 629.5,721.1 624.8,724.3 620.1,727.5 615.4,730.8 610.6,734 605.9,737.2 601.2,740.4 596.4,743.7 591.7,746.9 586.9,750.2 582.2,753.4 577.5,756.7 572.7,760 568,763.3 563.2,766.6 558.4,769.9 553.7,773.2 548.9,776.5 544.2,779.8 539.4,783.1 534.6,786.5" fill="#ffff00" stroke="#ffff00" stroke-width="0.8"/>
<polygon points="534.6,786.5 539.4,783.1 544.2,779.8 548.9,776.5 553.7,773.2 558.4,769.9 563.2,766.6 568,763.3 572.7,760 577.5,756.7 582.2,753.4 586.9,750.2 591.7,746.9 596.4,743.7 601.2,740.4 605.9,737.2 610.6,734 615.4,730.8 620.1,727.5 624.8,724.3 629.5,721.1 634.3,717.9 639,714.8 643.7,711.6 648.4,708.4 653.1,705.3 657.8,702.1 662.5,699 667.3,695.8 672,692.7 676.7,689.6 681.4,686.4 686.1,683.3 690.8,680.2 695.5,677.1 700.2,674.1 704.9,671 709.6,667.9 714.3,664.8 719,661.8 723.7,658.7 728.3,655.7 733,652.7 737.7,649.6 742.4,646.6 747.1,643.6 751.8,640.6 756.5,637.6 761.1,634.6 765.8,631.6 770.5,628.6 775.2,625.7 779.9,622.7 784.5,619.8 789.2,616.8 793.9,613.9 798.6,610.9 803.3,608 807.9,605.1 812.6,602.2 817.3,599.3 822,596.4 826.6,593.5 831.3,590.6 836,587.8 840.6,584.9 845.3,582 850,579.2 854.6,576.4 859.3,573.5 864,570.7 868.6,567.9 873.3,565.1 878,562.3 882.6,559.5 887.3,556.7 892,553.9 896.6,551.1 901.3,548.3 906,545.6 910.6,542.8 915.3,540.1 920,537.3 924.6,534.6 929.3,531.9 933.9,529.2 938.6,526.5 943.3,523.8 947.9,521.1 952.6,518.4 957.3,515.7 961.9,513 966.6,510.4 971.2,507.7 975.9,505 980.6,502.4 985.2,499.8 989.9,497.1 994.5,494.5 999.2,491.9 1003.9,489.3 1008.5,486.7 1013.2,484.1 1017.9,481.5 1022.5,478.9 1027.2,476.3 1031.8,473.8 1036.5,471.2 1041.2,468.7 1045.8,466.1 1050.5,463.6 1055.1,461 1059.8,458.5 1064.5,456 1069.1,453.5 1073.8,451 1078.5,448.5 1083.1,446 1087.8,443.5 1092.4,441 1097.1,438.6 1046.1,377.6 1041.4,380 1036.7,382.5 1032.1,384.9 1027.4,387.4 1022.7,389.8 1018.1,392.3 1013.4,394.8 1008.7,397.2 1004,399.7 999.4,402.2 994.7,404.7 990,407.2 985.4,409.7 980.7,412.3 976,414.8 971.3,417.3 966.7,419.9 962,422.4 957.3,425 952.7,427.5 948,430.1 943.3,432.7 938.7,435.3 934,437.8 929.3,440.4 924.6,443 920,445.7 915.3,448.3 910.6,450.9 906,453.5 901.3,456.2 896.6,458.8 892,461.5 887.3,464.1 882.6,466.8 877.9,469.5 873.3,472.2 868.6,474.9 863.9,477.6 859.3,480.3 854.6,483 849.9,485.7 845.2,488.4 840.6,491.2 835.9,493.9 831.2,496.7 826.5,499.4 821.9,502.2 817.2,504.9 812.5,507.7 807.9,510.5 803.2,513.3 798.5,516.1 793.8,518.9 789.2,521.7 784.5,524.6 779.8,527.4 775.1,530.2 770.4,533.1 765.8,535.9 761.1,538.8 756.4,541.6 751.7,544.5 747,547.4 742.4,550.3 737.7,553.2 733,556.1 728.3,559 723.6,561.9 719,564.9 714.3,567.8 709.6,570.7 704.9,573.7 700.2,576.7 695.5,579.6 690.8,582.6 686.1,585.6 681.5,588.6 676.8,591.6 672.1,594.6 667.4,597.6 662.7,600.6 658,603.6 653.3,606.7 648.6,609.7 643.9,612.8 639.2,615.8 634.5,618.9 629.8,622 625.1,625 620.4,628.1 615.7,631.2 611,634.3 606.3,637.4 601.6,640.6 596.8,643.7 592.1,646.8 587.4,650 582.7,653.1 578,656.3 573.3,659.4 568.6,662.6 563.8,665.8 559.1,669 554.4,672.2 549.7,675.4 544.9,678.6 540.2,681.8 535.5,685 530.7,688.3 526,691.5 521.3,694.7 516.5,698 511.8,701.3 507.1,704.5 502.3,707.8 497.6,711.1 492.8,714.4 488.1,717.7 483.3,721" fill="#ff9600" stroke="#ff9600" stroke-width="0.8"/>
<polygon points="483.3,721 488.1,717.7 492.8,714.4 497.6,711.1 502.3,707.8 507.1,704.5 511.8,701.3 516.5,698 521.3,694.7 526,691.5 530.7,688.3 535.5,685 540.2,681.8 544.9,678.6 549.7,675.4 554.4,672.2 559.1,669 563.8,665.8 568.6,662.6 573.3,659.4 578,656.3 582.7,653.1 587.4,650 592.1,646.8 596.8,643.7 601.6,640.6 606.3,637.4 611,634.3 615.7,631.2 620.4,628.1 625.1,625 629.8,622 634.5,618.9 639.2,615.8 643.9,612.8 648.6,609.7 653.3,606.7 658,603.6 662.7,600.6 667.4,597.6 672.1,594.6 676.8,591.6 681.5,588.6 686.1,585.6 690.8,582.6 695.5,579.6 700.2,576.7 704.9,573.7 709.6,570.7 714.3,567.8 719,564.9 723.6,561.9 728.3,559 733,556.1 737.7,553.2 742.4,550.3 747,547.4 751.7,544.5 756.4,541.6 761.1,538.8 765.8,535.9 770.4,533.1 775.1,530.2 779.8,527.4 784.5,524.6 789.2,521.7 793.8,518.9 798.5,516.1 803.2,513.3 807.9,510.5 812.5,507.7 817.2,504.9 821.9,502.2 826.5,499.4 831.2,496.7 835.9,493.9 840.6,491.2 845.2,488.4 849.9,485.7 854.6,483 859.3,480.3 863.9,477.6 868.6,474.9 873.3,472.2 877.9,469.5 882.6,466.8 887.3,464.1 892,461.5 896.6,458.8 901.3,456.2 906,453.5 910.6,450.9 915.3,448.3 920,445.7 924.6,443 929.3,440.4 934,437.8 938.7,435.3 943.3,432.7 948,430.1 952.7,427.5 957.3,425 962,422.4 966.7,419.9 971.3,417.3 976,414.8 980.7,412.3 985.4,409.7 990,407.2 994.7,404.7 999.4,402.2 1004,399.7 1008.7,397.2 1013.4,394.8 1018.1,392.3 1022.7,389.8 1027.4,387.4 1032.1,384.9 1036.7,382.5 1041.4,380 1046.1,377.6 995.5,317.1 990.8,319.5 986.1,321.9 981.4,324.4 976.8,326.8 972.1,329.2 967.4,331.6 962.7,334.1 958.1,336.5 953.4,338.9 948.7,341.4 944,343.9 939.4,346.3 934.7,348.8 930,351.3 925.3,353.8 920.6,356.3 916,358.8 911.3,361.3 906.6,363.8 901.9,366.3 897.3,368.9 892.6,371.4 887.9,374 883.2,376.5 878.6,379.1 873.9,381.6 869.2,384.2 864.5,386.8 859.9,389.4 855.2,392 850.5,394.6 845.8,397.2 841.2,399.8 836.5,402.4 831.8,405.1 827.1,407.7 822.5,410.4 817.8,413 813.1,415.7 808.4,418.3 803.8,421 799.1,423.7 794.4,426.4 789.7,429.1 785.1,431.8 780.4,434.5 775.7,437.2 771,439.9 766.3,442.7 761.7,445.4 757,448.2 752.3,450.9 747.6,453.7 742.9,456.4 738.3,459.2 733.6,462 728.9,464.8 724.2,467.6 719.5,470.4 714.8,473.2 710.2,476 705.5,478.9 700.8,481.7 696.1,484.5 691.4,487.4 686.7,490.3 682.1,493.1 677.4,496 672.7,498.9 668,501.8 663.3,504.7 658.6,507.6 653.9,510.5 649.2,513.4 644.5,516.3 639.9,519.3 635.2,522.2 630.5,525.2 625.8,528.1 621.1,531.1 616.4,534.1 611.7,537 607,540 602.3,543 597.6,546 592.9,549 588.2,552.1 583.5,555.1 578.8,558.1 574.1,561.2 569.4,564.2 564.7,567.3 560,570.3 555.3,573.4 550.6,576.5 545.8,579.6 541.1,582.7 536.4,585.8 531.7,588.9 527,592 522.3,595.2 517.6,598.3 512.8,601.4 508.1,604.6 503.4,607.7 498.7,610.9 494,614.1 489.2,617.3 484.5,620.5 479.8,623.7 475.1,626.9 470.3,630.1 465.6,633.3 460.9,636.5 456.1,639.8 451.4,643 446.7,646.3 441.9,649.5 437.2,652.8 432.4,656.1" fill="#ff2d00" stroke="#ff2d00" stroke-width="0.8"/>
<polygon points="432.4,656.1 437.2,652.8 441.9,649.5 446.7,646.3 451.4,643 456.1,639.8 460.9,636.5 465.6,633.3 470.3,630.1 475.1,626.9 479.8,623.7 484.5,620.5 489.2,617.3 494,614.1 498.7,610.9 503.4,607.7 508.1,604.6 512.8,601.4 517.6,598.3 522.3,595.2 527,592 531.7,588.9 536.4,585.8 541.1,582.7 545.8,579.6 550.6,576.5 555.3,573.4 560,570.3 564.7,567.3 569.4,564.2 574.1,561.2 578.8,558.1 583.5,555.1 588.2,552.1 592.9,549 597.6,546 602.3,543 607,540 611.7,537 616.4,534.1 621.1,531.1 625.8,528.1 630.5,525.2 635.2,522.2 639.9,519.3 644.5,516.3 649.2,513.4 653.9,510.5 658.6,507.6 663.3,504.7 668,501.8 672.7,498.9 677.4,496 682.1,493.1 686.7,490.3 691.4,487.4 696.1,484.5 700.8,481.7 705.5,478.9 710.2,476 714.8,473.2 719.5,470.4 724.2,467.6 728.9,464.8 733.6,462 738.3,459.2 742.9,456.4 747.6,453.7 752.3,450.9 757,448.2 761.7,445.4 766.3,442.7 771,439.9 775.7,437.2 780.4,434.5 785.1,431.8 789.7,429.1 794.4,426.4 799.1,423.7 803.8,421 808.4,418.3 813.1,415.7 817.8,413 822.5,410.4 827.1,407.7 831.8,405.1 836.5,402.4 841.2,399.8 845.8,397.2 850.5,394.6 855.2,392 859.9,389.4 864.5,386.8 869.2,384.2 873.9,381.6 878.6,379.1 883.2,376.5 887.9,374 892.6,371.4 897.3,368.9 901.9,366.3 906.6,363.8 911.3,361.3 916,358.8 920.6,356.3 925.3,353.8 930,351.3 934.7,348.8 939.4,346.3 944,343.9 948.7,341.4 953.4,338.9 958.1,336.5 962.7,334.1 967.4,331.6 972.1,329.2 976.8,326.8 981.4,324.4 986.1,321.9 990.8,319.5 995.5,317.1 945.3,257.1 940.6,259.5 935.9,261.9 931.2,264.3 926.5,266.6 921.9,269 917.2,271.4 912.5,273.8 907.8,276.2 903.1,278.7 898.5,281.1 893.8,283.5 889.1,286 884.4,288.4 879.8,290.8 875.1,293.3 870.4,295.8 865.7,298.2 861,300.7 856.4,303.2 851.7,305.7 847,308.2 842.3,310.7 837.7,313.2 833,315.7 828.3,318.3 823.6,320.8 819,323.3 814.3,325.9 809.6,328.4 804.9,331 800.2,333.6 795.6,336.1 790.9,338.7 786.2,341.3 781.5,343.9 776.8,346.5 772.2,349.1 767.5,351.7 762.8,354.4 758.1,357 753.4,359.6 748.8,362.3 744.1,364.9 739.4,367.6 734.7,370.3 730,372.9 725.4,375.6 720.7,378.3 716,381 711.3,383.7 706.6,386.4 701.9,389.1 697.3,391.9 692.6,394.6 687.9,397.3 683.2,400.1 678.5,402.8 673.8,405.6 669.2,408.4 664.5,411.1 659.8,413.9 655.1,416.7 650.4,419.5 645.7,422.3 641,425.1 636.3,427.9 631.7,430.8 627,433.6 622.3,436.5 617.6,439.3 612.9,442.2 608.2,445 603.5,447.9 598.8,450.8 594.1,453.7 589.4,456.6 584.7,459.5 580,462.4 575.3,465.3 570.6,468.2 565.9,471.2 561.2,474.1 556.5,477.1 551.8,480 547.1,483 542.4,486 537.7,488.9 533,491.9 528.3,494.9 523.6,497.9 518.9,500.9 514.2,504 509.5,507 504.8,510 500.1,513.1 495.4,516.1 490.7,519.2 485.9,522.2 481.2,525.3 476.5,528.4 471.8,531.5 467.1,534.6 462.4,537.7 457.6,540.8 452.9,543.9 448.2,547.1 443.5,550.2 438.8,553.3 434,556.5 429.3,559.7 424.6,562.8 419.8,566 415.1,569.2 410.4,572.4 405.7,575.6 400.9,578.8 396.2,582 391.4,585.2 386.7,588.5 382,591.7" fill="#ff0000" stroke="#ff0000" stroke-width="0.8"/>
<polygon points="382,591.7 386.7,588.5 391.4,585.2 396.2,582 400.9,578.8 405.7,575.6 410.4,572.4 415.1,569.2 419.8,566 424.6,562.8 429.3,559.7 434,556.5 438.8,553.3 443.5,550.2 448.2,547.1 452.9,543.9 457.6,540.8 462.4,537.7 467.1,534.6 471.8,531.5 476.5,528.4 481.2,525.3 485.9,522.2 490.7,519.2 495.4,516.1 500.1,513.1 504.8,510 509.5,507 514.2,504 518.9,500.9 523.6,497.9 528.3,494.9 533,491.9 537.7,488.9 542.4,486 547.1,483 551.8,480 556.5,477.1 561.2,474.1 565.9,471.2 570.6,468.2 575.3,465.3 580,462.4 584.7,459.5 589.4,456.6 594.1,453.7 598.8,450.8 603.5,447.9 608.2,445 612.9,442.2 617.6,439.3 622.3,436.5 627,433.6 631.7,430.8 636.3,427.9 641,425.1 645.7,422.3 650.4,419.5 655.1,416.7 659.8,413.9 664.5,411.1 669.2,408.4 673.8,405.6 678.5,402.8 683.2,400.1 687.9,397.3 692.6,394.6 697.3,391.9 701.9,389.1 706.6,386.4 711.3,383.7 716,381 720.7,378.3 725.4,375.6 730,372.9 734.7,370.3 739.4,367.6 744.1,364.9 748.8,362.3 753.4,359.6 758.1,357 762.8,354.4 767.5,351.7 772.2,349.1 776.8,346.5 781.5,343.9 786.2,341.3 790.9,338.7 795.6,336.1 800.2,333.6 804.9,331 809.6,328.4 814.3,325.9 819,323.3 823.6,320.8 828.3,318.3 833,315.7 837.7,313.2 842.3,310.7 847,308.2 851.7,305.7 856.4,303.2 861,300.7 865.7,298.2 870.4,295.8 875.1,293.3 879.8,290.8 884.4,288.4 889.1,286 893.8,283.5 898.5,281.1 903.1,278.7 907.8,276.2 912.5,273.8 917.2,271.4 921.9,269 926.5,266.6 931.2,264.3 935.9,261.9 940.6,259.5 945.3,257.1 905.4,209.5 900.2,211.3 895,213 889.9,214.8 884.7,216.6 879.5,218.3 874.3,220.1 869.2,221.9 864,223.6 858.8,225.4 853.6,227.2 848.4,228.9 843.1,230.7 837.9,232.4 832.7,234.2 827.5,236 822.2,237.7 817,239.5 811.7,241.3 806.5,243.1 801.9,245.5 797.2,248 792.5,250.5 787.8,253 783.2,255.5 778.5,257.9 773.8,260.4 769.1,263 764.4,265.5 759.8,268 755.1,270.5 750.4,273.1 745.7,275.6 741,278.1 736.4,280.7 731.7,283.3 727,285.8 722.3,288.4 717.6,291 713,293.6 708.3,296.2 703.6,298.8 698.9,301.4 694.2,304 689.5,306.6 684.9,309.3 680.2,311.9 675.5,314.6 670.8,317.2 666.1,319.9 661.4,322.5 656.8,325.2 652.1,327.9 647.4,330.6 642.7,333.3 638,336 633.3,338.7 628.6,341.4 624,344.1 619.3,346.9 614.6,349.6 609.9,352.4 605.2,355.1 600.5,357.9 595.8,360.6 591.1,363.4 586.4,366.2 581.7,369 577,371.8 572.3,374.6 567.7,377.4 563,380.2 558.3,383.1 553.6,385.9 548.9,388.7 544.2,391.6 539.5,394.5 534.8,397.3 530.1,400.2 525.4,403.1 520.7,406 516,408.9 511.3,411.8 506.6,414.7 501.9,417.6 497.2,420.5 492.5,423.5 487.8,426.4 483,429.3 478.3,432.3 473.6,435.3 468.9,438.2 464.2,441.2 459.5,444.2 454.8,447.2 450.1,450.2 445.4,453.2 440.6,456.2 435.9,459.3 431.2,462.3 426.5,465.3 421.8,468.4 417.1,471.5 412.3,474.5 407.6,477.6 402.9,480.7 398.2,483.8 393.4,486.9 388.7,490 384,493.1 379.3,496.2 374.5,499.3 369.8,502.5 365.1,505.6 360.3,508.8 355.6,511.9 350.9,515.1 346.1,518.3 341.4,521.5 336.7,524.7 331.9,527.9" fill="#d20000" stroke="#d20000" stroke-width="0.8"/>
<polygon points="331.9,527.9 336.7,524.7 341.4,521.5 346.1,518.3 350.9,515.1 355.6,511.9 360.3,508.8 365.1,505.6 369.8,502.5 374.5,499.3 379.3,496.2 384,493.1 388.7,490 393.4,486.9 398.2,483.8 402.9,480.7 407.6,477.6 412.3,474.5 417.1,471.5 421.8,468.4 426.5,465.3 431.2,462.3 435.9,459.3 440.6,456.2 445.4,453.2 450.1,450.2 454.8,447.2 459.5,444.2 464.2,441.2 468.9,438.2 473.6,435.3 478.3,432.3 483,429.3 487.8,426.4 492.5,423.5 497.2,420.5 501.9,417.6 506.6,414.7 511.3,411.8 516,408.9 520.7,406 525.4,403.1 530.1,400.2 534.8,397.3 539.5,394.5 544.2,391.6 548.9,388.7 553.6,385.9 558.3,383.1 563,380.2 567.7,377.4 572.3,374.6 577,371.8 581.7,369 586.4,366.2 591.1,363.4 595.8,360.6 600.5,357.9 605.2,355.1 609.9,352.4 614.6,349.6 619.3,346.9 624,344.1 628.6,341.4 633.3,338.7 638,336 642.7,333.3 647.4,330.6 652.1,327.9 656.8,325.2 661.4,322.5 666.1,319.9 670.8,317.2 675.5,314.6 680.2,311.9 684.9,309.3 689.5,306.6 694.2,304 698.9,301.4 703.6,298.8 708.3,296.2 713,293.6 717.6,291 722.3,288.4 727,285.8 731.7,283.3 736.4,280.7 741,278.1 745.7,275.6 750.4,273.1 755.1,270.5 759.8,268 764.4,265.5 769.1,263 773.8,260.4 778.5,257.9 783.2,255.5 787.8,253 792.5,250.5 797.2,248 801.9,245.5 806.5,243.1 811.7,241.3 817,239.5 822.2,237.7 827.5,236 832.7,234.2 837.9,232.4 843.1,230.7 848.4,228.9 853.6,227.2 858.8,225.4 864,223.6 869.2,221.9 874.3,220.1 879.5,218.3 884.7,216.6 889.9,214.8 895,213 900.2,211.3 905.4,209.5 900.2,211.3 895,213 889.9,214.8 884.7,216.6 879.5,218.3 874.3,220.1 869.2,221.9 864,223.6 858.8,225.4 853.6,227.2 848.4,228.9 843.1,230.7 837.9,232.4 832.7,234.2 827.5,236 822.2,237.7 817,239.5 811.7,241.3 806.5,243 801.2,244.8 796,246.6 790.7,248.3 785.5,250.1 780.2,251.9 774.9,253.6 769.6,255.4 764.3,257.1 759,258.9 753.7,260.7 748.4,262.4 743.1,264.2 737.8,266 732.5,267.7 727.1,269.5 721.8,271.2 716.5,273 711.1,274.8 705.8,276.5 700.4,278.3 695.1,280 689.7,281.8 684.3,283.6 678.9,285.3 673.6,287.1 668.2,288.9 662.8,290.6 657.4,292.4 652,294.1 646.6,295.9 641.1,297.7 635.7,299.4 630.3,301.2 624.9,302.9 619.4,304.7 614,306.4 608.5,308.2 603.1,310 597.6,311.7 592.2,313.5 586.7,315.2 581.2,317 575.7,318.8 570.3,320.5 564.8,322.3 559.3,324 553.8,325.8 548.2,327.5 542.7,329.3 537.2,331.1 531.7,332.8 526.2,334.6 520.6,336.3 515.1,338.1 509.5,339.8 504,341.6 498.4,343.4 492.8,345.1 487.3,346.9 481.7,348.6 476.1,350.4 470.5,352.1 464.9,353.9 459.3,355.7 453.7,357.4 448.1,359.2 442.9,361.5 438.2,364.4 433.5,367.3 428.8,370.2 424.1,373.2 419.4,376.1 414.7,379 410,382 405.2,384.9 400.5,387.9 395.8,390.9 391.1,393.9 386.4,396.8 381.6,399.8 376.9,402.8 372.2,405.9 367.5,408.9 362.8,411.9 358,414.9 353.3,418 348.6,421 343.9,424.1 339.1,427.1 334.4,430.2 329.7,433.3 324.9,436.4 320.2,439.5 315.5,442.6 310.7,445.7 306,448.8 301.3,452 296.5,455.1 291.8,458.2 287,461.4 282.3,464.6" fill="#b90000" stroke="#b90000" stroke-width="0.8"/>
<polygon points="282.3,464.6 287,461.4 291.8,458.2 296.5,455.1 301.3,452 306,448.8 310.7,445.7 315.5,442.6 320.2,439.5 324.9,436.4 329.7,433.3 334.4,430.2 339.1,427.1 343.9,424.1 348.6,421 353.3,418 358,414.9 362.8,411.9 367.5,408.9 372.2,405.9 376.9,402.8 381.6,399.8 386.4,396.8 391.1,393.9 395.8,390.9 400.5,387.9 405.2,384.9 410,382 414.7,379 419.4,376.1 424.1,373.2 428.8,370.2 433.5,367.3 438.2,364.4 442.9,361.5 448.1,359.2 453.7,357.4 459.3,355.7 464.9,353.9 470.5,352.1 476.1,350.4 481.7,348.6 487.3,346.9 492.8,345.1 498.4,343.4 504,341.6 509.5,339.8 515.1,338.1 520.6,336.3 526.2,334.6 531.7,332.8 537.2,331.1 542.7,329.3 548.2,327.5 553.8,325.8 559.3,324 564.8,322.3 570.3,320.5 575.7,318.8 581.2,317 586.7,315.2 592.2,313.5 597.6,311.7 603.1,310 608.5,308.2 614,306.4 619.4,304.7 624.9,302.9 630.3,301.2 635.7,299.4 641.1,297.7 646.6,295.9 652,294.1 657.4,292.4 662.8,290.6 668.2,288.9 673.6,287.1 678.9,285.3 684.3,283.6 689.7,281.8 695.1,280 700.4,278.3 705.8,276.5 711.1,274.8 716.5,273 721.8,271.2 727.1,269.5 732.5,267.7 737.8,266 743.1,264.2 748.4,262.4 753.7,260.7 759,258.9 764.3,257.1 769.6,255.4 774.9,253.6 780.2,251.9 785.5,250.1 790.7,248.3 796,246.6 801.2,244.8 806.5,243 811.7,241.3 817,239.5 822.2,237.7 827.5,236 832.7,234.2 837.9,232.4 843.1,230.7 848.4,228.9 853.6,227.2 858.8,225.4 864,223.6 869.2,221.9 874.3,220.1 879.5,218.3 884.7,216.6 889.9,214.8 895,213 900.2,211.3 905.4,209.5 900.2,211.3 895,213 889.9,214.8 884.7,216.6 879.5,218.3 874.3,220.1 869.2,221.9 864,223.6 858.8,225.4 853.6,227.2 848.4,228.9 843.1,230.7 837.9,232.4 832.7,234.2 827.5,236 822.2,237.7 817,239.5 811.7,241.3 806.5,243 801.2,244.8 796,246.6 790.7,248.3 785.5,250.1 780.2,251.9 774.9,253.6 769.6,255.4 764.3,257.1 759,258.9 753.7,260.7 748.4,262.4 743.1,264.2 737.8,266 732.5,267.7 727.1,269.5 721.8,271.2 716.5,273 711.1,274.8 705.8,276.5 700.4,278.3 695.1,280 689.7,281.8 684.3,283.6 678.9,285.3 673.6,287.1 668.2,288.9 662.8,290.6 657.4,292.4 652,294.1 646.6,295.9 641.1,297.7 635.7,299.4 630.3,301.2 624.9,302.9 619.4,304.7 614,306.4 608.5,308.2 603.1,310 597.6,311.7 592.2,313.5 586.7,315.2 581.2,317 575.7,318.8 570.3,320.5 564.8,322.3 559.3,324 553.8,325.8 548.2,327.5 542.7,329.3 537.2,331.1 531.7,332.8 526.2,334.6 520.6,336.3 515.1,338.1 509.5,339.8 504,341.6 498.4,343.4 492.8,345.1 487.3,346.9 481.7,348.6 476.1,350.4 470.5,352.1 464.9,353.9 459.3,355.7 453.7,357.4 448.1,359.2 442.5,360.9 436.8,362.7 431.2,364.4 425.6,366.2 419.9,367.9 414.3,369.7 408.6,371.4 403,373.2 397.3,375 391.6,376.7 385.9,378.5 380.3,380.2 374.6,382 368.9,383.7 363.2,385.5 357.5,387.2 351.7,389 346,390.7 340.3,392.5 334.6,394.3 328.8,396 323.1,397.8 317.3,399.5 311.6,401.3 305.8,403 300,404.8 294.2,406.5 288.5,408.3 282.7,410 276.9,411.8 271.1,413.5 265.3,415.3 259.4,417 253.6,418.8 247.8,420.5" fill="#a00000" stroke="#a00000" stroke-width="0.8"/>
</g>
<g stroke="#768a92" stroke-width="2" stroke-dasharray="2.4 3.6" fill="none" opacity="0.9">
<path d="M832.7,1105.5 L802.6,1067.4 L772.6,1029.4 L742.8,991.6 L713.1,953.9 L683.6,916.5 L654.2,879.2 L625,842 L595.9,805.1 L566.9,768.3 L538,731.7 L509.3,695.2 L480.8,658.9 L452.3,622.8 L424,586.8 L395.9,551 L367.8,515.4 L339.9,479.9 L312.2,444.6 L284.5,409.5"/>
<path d="M766.1,1081.7 L802.6,1067.4 L838.8,1053.1 L874.7,1038.8 L910.5,1024.7 L945.9,1010.7 L981.2,996.7 L1016.2,982.8 L1050.9,969 L1085.5,955.3 L1119.8,941.7 L1153.8,928.1 L1187.7,914.6 L1221.3,901.2 L1254.7,887.9 L1287.8,874.7 L1320.8,861.5 L1353.5,848.4 L1386.1,835.4 L1418.4,822.4"/>
<path d="M868.9,1090.9 L838.8,1053.1 L808.8,1015.3 L779,977.7 L749.4,940.3 L719.9,903.1 L690.5,866 L661.3,829.1 L632.2,792.3 L603.2,755.7 L574.4,719.2 L545.7,682.9 L517.2,646.8 L488.7,610.8 L460.5,575 L432.3,539.4 L404.3,503.9 L376.4,468.6 L348.6,433.4 L320.9,398.4"/>
<path d="M736.1,1043.5 L772.6,1029.4 L808.8,1015.3 L844.8,1001.3 L880.6,987.4 L916.1,973.6 L951.3,959.8 L986.3,946.1 L1021.1,932.5 L1055.6,918.9 L1090,905.5 L1124,892 L1157.9,878.7 L1191.5,865.4 L1225,852.2 L1258.2,839 L1291.1,826 L1323.9,812.9 L1356.5,800 L1388.8,787.1"/>
<path d="M904.8,1076.5 L874.7,1038.8 L844.8,1001.3 L815,964 L785.4,926.8 L755.9,889.7 L726.6,852.8 L697.3,816.1 L668.3,779.5 L639.3,743.1 L610.5,706.8 L581.8,670.7 L553.3,634.7 L524.9,598.9 L496.6,563.3 L468.5,527.8 L440.4,492.4 L412.5,457.2 L384.8,422.2 L357.2,387.3"/>
<path d="M706.3,1005.5 L742.8,991.6 L779,977.7 L815,964 L850.8,950.3 L886.3,936.6 L921.6,923.1 L956.6,909.6 L991.4,896.1 L1026,882.7 L1060.3,869.4 L1094.4,856.1 L1128.3,842.9 L1161.9,829.7 L1195.4,816.6 L1228.6,803.5 L1261.6,790.6 L1294.4,777.6 L1327,764.7 L1359.3,751.9"/>
<path d="M940.5,1062.1 L910.5,1024.7 L880.6,987.4 L850.8,950.3 L821.2,913.3 L791.7,876.4 L762.4,839.7 L733.2,803.2 L704.1,766.8 L675.2,730.5 L646.4,694.4 L617.7,658.4 L589.2,622.6 L560.8,587 L532.5,551.5 L504.4,516.1 L476.4,480.9 L448.5,445.9 L420.7,411 L393.1,376.3"/>
<path d="M676.6,967.6 L713.1,953.9 L749.4,940.3 L785.4,926.8 L821.2,913.3 L856.7,899.8 L892,886.5 L927,873.1 L961.8,859.8 L996.4,846.6 L1030.8,833.4 L1064.9,820.3 L1098.8,807.2 L1132.5,794.1 L1165.9,781.1 L1199.2,768.2 L1232.2,755.3 L1265,742.4 L1297.6,729.6 L1330,716.8"/>
<path d="M976,1047.9 L945.9,1010.7 L916.1,973.6 L886.3,936.6 L856.7,899.8 L827.2,863.2 L797.9,826.7 L768.7,790.3 L739.7,754 L710.8,718 L682,682 L653.3,646.2 L624.8,610.5 L596.4,575 L568.2,539.7 L540.1,504.5 L512.1,469.4 L484.2,434.5 L456.5,399.8 L428.8,365.2"/>
<path d="M647.1,929.9 L683.6,916.5 L719.9,903.1 L755.9,889.7 L791.7,876.4 L827.2,863.2 L862.5,850 L897.6,836.8 L932.4,823.7 L967,810.6 L1001.4,797.6 L1035.5,784.6 L1069.5,771.6 L1103.2,758.7 L1136.6,745.8 L1169.9,733 L1202.9,720.1 L1235.8,707.4 L1268.4,694.7 L1300.8,682"/>
<path d="M1011.2,1033.7 L981.2,996.7 L951.3,959.8 L921.6,923.1 L892,886.5 L862.5,850 L833.2,813.6 L804.1,777.4 L775,741.3 L746.1,705.4 L717.4,669.6 L688.7,634 L660.2,598.5 L631.9,563.1 L603.6,527.9 L575.5,492.8 L547.5,457.9 L519.7,423.2 L491.9,388.5 L464.3,354.1"/>
<path d="M617.7,892.4 L654.2,879.2 L690.5,866 L726.6,852.8 L762.4,839.7 L797.9,826.7 L833.2,813.6 L868.3,800.6 L903.2,787.7 L937.8,774.7 L972.2,761.8 L1006.3,749 L1040.3,736.1 L1074,723.4 L1107.5,710.6 L1140.7,697.9 L1173.8,685.2 L1206.7,672.5 L1239.3,659.8 L1271.8,647.2"/>
<path d="M1046.2,1019.6 L1016.2,982.8 L986.3,946.1 L956.6,909.6 L927,873.1 L897.6,836.8 L868.3,800.6 L839.2,764.6 L810.1,728.7 L781.3,692.9 L752.5,657.3 L723.9,621.8 L695.4,586.4 L667,551.2 L638.8,516.1 L610.7,481.2 L582.7,446.4 L554.9,411.8 L527.2,377.3 L499.6,343"/>
<path d="M588.4,855.1 L625,842 L661.3,829.1 L697.3,816.1 L733.2,803.2 L768.7,790.3 L804.1,777.4 L839.2,764.6 L874,751.8 L908.6,739 L943.1,726.2 L977.2,713.5 L1011.2,700.8 L1044.9,688.2 L1078.4,675.5 L1111.7,662.9 L1144.8,650.3 L1177.7,637.7 L1210.4,625.2 L1242.8,612.7"/>
<path d="M1080.9,1005.7 L1050.9,969 L1021.1,932.5 L991.4,896.1 L961.8,859.8 L932.4,823.7 L903.2,787.7 L874,751.8 L845,716 L816.1,680.4 L787.4,644.9 L758.8,609.6 L730.3,574.3 L702,539.3 L673.8,504.3 L645.7,469.6 L617.7,434.9 L589.9,400.4 L562.2,366.1 L534.6,331.9"/>
<path d="M559.3,817.9 L595.9,805.1 L632.2,792.3 L668.3,779.5 L704.1,766.8 L739.7,754 L775,741.3 L810.1,728.7 L845,716 L879.7,703.4 L914.1,690.8 L948.3,678.2 L982.2,665.6 L1016,653.1 L1049.5,640.6 L1082.8,628.1 L1115.9,615.6 L1148.8,603.1 L1181.5,590.7 L1214,578.2"/>
<path d="M1115.4,991.8 L1085.5,955.3 L1055.6,918.9 L1026,882.7 L996.4,846.6 L967,810.6 L937.8,774.7 L908.6,739 L879.7,703.4 L850.8,667.9 L822.1,632.6 L793.5,597.4 L765,562.3 L736.7,527.4 L708.5,492.6 L680.4,457.9 L652.5,423.4 L624.7,389.1 L597,354.9 L569.4,320.8"/>
<path d="M530.3,780.9 L566.9,768.3 L603.2,755.7 L639.3,743.1 L675.2,730.5 L710.8,718 L746.1,705.4 L781.3,692.9 L816.1,680.4 L850.8,667.9 L885.2,655.4 L919.4,643 L953.4,630.6 L987.2,618.2 L1020.8,605.8 L1054.1,593.4 L1087.2,581 L1120.1,568.6 L1152.8,556.3 L1185.3,544"/>
<path d="M1149.7,978 L1119.8,941.7 L1090,905.5 L1060.3,869.4 L1030.8,833.4 L1001.4,797.6 L972.2,761.8 L943.1,726.2 L914.1,690.8 L885.2,655.4 L856.5,620.2 L828,585.2 L799.5,550.2 L771.2,515.5 L743,480.8 L714.9,446.3 L687,411.9 L659.2,377.7 L631.5,343.6 L604,309.7"/>
<path d="M501.4,744.1 L538,731.7 L574.4,719.2 L610.5,706.8 L646.4,694.4 L682,682 L717.4,669.6 L752.5,657.3 L787.4,644.9 L822.1,632.6 L856.5,620.2 L890.8,607.9 L924.8,595.6 L958.5,583.3 L992.1,571.1 L1025.5,558.8 L1058.6,546.6 L1091.5,534.3 L1124.3,522.1 L1156.8,509.9"/>
<path d="M1183.7,964.3 L1153.8,928.1 L1124,892 L1094.4,856.1 L1064.9,820.3 L1035.5,784.6 L1006.3,749 L977.2,713.5 L948.3,678.2 L919.4,643 L890.8,607.9 L862.2,573 L833.8,538.2 L805.5,503.6 L777.3,469 L749.2,434.7 L721.3,400.4 L693.5,366.3 L665.8,332.4 L638.3,298.6"/>
<path d="M472.7,707.5 L509.3,695.2 L545.7,682.9 L581.8,670.7 L617.7,658.4 L653.3,646.2 L688.7,634 L723.9,621.8 L758.8,609.6 L793.5,597.4 L828,585.2 L862.2,573 L896.2,560.8 L930,548.7 L963.6,536.5 L997,524.4 L1030.1,512.3 L1063.1,500.1 L1095.8,488 L1128.3,475.9"/>
<path d="M1217.6,950.7 L1187.7,914.6 L1157.9,878.7 L1128.3,842.9 L1098.8,807.2 L1069.5,771.6 L1040.3,736.1 L1011.2,700.8 L982.2,665.6 L953.4,630.6 L924.8,595.6 L896.2,560.8 L867.8,526.2 L839.5,491.6 L811.4,457.3 L783.3,423 L755.4,388.9 L727.6,354.9 L700,321.1 L672.4,287.5"/>
<path d="M444.2,671 L480.8,658.9 L517.2,646.8 L553.3,634.7 L589.2,622.6 L624.8,610.5 L660.2,598.5 L695.4,586.4 L730.3,574.3 L765,562.3 L799.5,550.2 L833.8,538.2 L867.8,526.2 L901.6,514.1 L935.2,502.1 L968.6,490.1 L1001.8,478.1 L1034.7,466.1 L1067.5,454.1 L1100,442.1"/>
<path d="M1251.2,937.2 L1221.3,901.2 L1191.5,865.4 L1161.9,829.7 L1132.5,794.1 L1103.2,758.7 L1074,723.4 L1044.9,688.2 L1016,653.1 L987.2,618.2 L958.5,583.3 L930,548.7 L901.6,514.1 L873.3,479.8 L845.2,445.5 L817.2,411.4 L789.3,377.4 L761.5,343.6 L733.9,309.9 L706.3,276.3"/>
<path d="M415.7,634.8 L452.3,622.8 L488.7,610.8 L524.9,598.9 L560.8,587 L596.4,575 L631.9,563.1 L667,551.2 L702,539.3 L736.7,527.4 L771.2,515.5 L805.5,503.6 L839.5,491.6 L873.3,479.8 L907,467.9 L940.4,456 L973.5,444.1 L1006.5,432.2 L1039.3,420.3 L1071.9,408.4"/>
<path d="M1284.5,923.8 L1254.7,887.9 L1225,852.2 L1195.4,816.6 L1165.9,781.1 L1136.6,745.8 L1107.5,710.6 L1078.4,675.5 L1049.5,640.6 L1020.8,605.8 L992.1,571.1 L963.6,536.5 L935.2,502.1 L907,467.9 L878.8,433.7 L850.8,399.7 L822.9,365.9 L795.2,332.2 L767.5,298.6 L740,265.2"/>
<path d="M387.4,598.6 L424,586.8 L460.5,575 L496.6,563.3 L532.5,551.5 L568.2,539.7 L603.6,527.9 L638.8,516.1 L673.8,504.3 L708.5,492.6 L743,480.8 L777.3,469 L811.4,457.3 L845.2,445.5 L878.8,433.7 L912.2,422 L945.4,410.2 L978.4,398.4 L1011.2,386.7 L1043.8,374.9"/>
<path d="M1317.7,910.4 L1287.8,874.7 L1258.2,839 L1228.6,803.5 L1199.2,768.2 L1169.9,733 L1140.7,697.9 L1111.7,662.9 L1082.8,628.1 L1054.1,593.4 L1025.5,558.8 L997,524.4 L968.6,490.1 L940.4,456 L912.2,422 L884.2,388.1 L856.4,354.4 L828.6,320.8 L801,287.4 L773.5,254.1"/>
<path d="M359.2,562.7 L395.9,551 L432.3,539.4 L468.5,527.8 L504.4,516.1 L540.1,504.5 L575.5,492.8 L610.7,481.2 L645.7,469.6 L680.4,457.9 L714.9,446.3 L749.2,434.7 L783.3,423 L817.2,411.4 L850.8,399.7 L884.2,388.1 L917.5,376.5 L950.5,364.8 L983.3,353.2 L1015.9,341.5"/>
<path d="M1350.6,897.2 L1320.8,861.5 L1291.1,826 L1261.6,790.6 L1232.2,755.3 L1202.9,720.1 L1173.8,685.2 L1144.8,650.3 L1115.9,615.6 L1087.2,581 L1058.6,546.6 L1030.1,512.3 L1001.8,478.1 L973.5,444.1 L945.4,410.2 L917.5,376.5 L889.6,342.9 L861.9,309.4 L834.3,276.1 L806.8,242.9"/>
<path d="M331.2,526.9 L367.8,515.4 L404.3,503.9 L440.4,492.4 L476.4,480.9 L512.1,469.4 L547.5,457.9 L582.7,446.4 L617.7,434.9 L652.5,423.4 L687,411.9 L721.3,400.4 L755.4,388.9 L789.3,377.4 L822.9,365.9 L856.4,354.4 L889.6,342.9 L922.6,331.3 L955.5,319.8 L988.1,308.3"/>
<path d="M1383.3,884 L1353.5,848.4 L1323.9,812.9 L1294.4,777.6 L1265,742.4 L1235.8,707.4 L1206.7,672.5 L1177.7,637.7 L1148.8,603.1 L1120.1,568.6 L1091.5,534.3 L1063.1,500.1 L1034.7,466.1 L1006.5,432.2 L978.4,398.4 L950.5,364.8 L922.6,331.3 L894.9,298 L867.3,264.8 L839.8,231.8"/>
<path d="M303.2,491.3 L339.9,479.9 L376.4,468.6 L412.5,457.2 L448.5,445.9 L484.2,434.5 L519.7,423.2 L554.9,411.8 L589.9,400.4 L624.7,389.1 L659.2,377.7 L693.5,366.3 L727.6,354.9 L761.5,343.6 L795.2,332.2 L828.6,320.8 L861.9,309.4 L894.9,298 L927.7,286.6 L960.4,275.2"/>
<path d="M1415.8,870.9 L1386.1,835.4 L1356.5,800 L1327,764.7 L1297.6,729.6 L1268.4,694.7 L1239.3,659.8 L1210.4,625.2 L1181.5,590.7 L1152.8,556.3 L1124.3,522.1 L1095.8,488 L1067.5,454.1 L1039.3,420.3 L1011.2,386.7 L983.3,353.2 L955.5,319.8 L927.7,286.6 L900.2,253.6 L872.7,220.6"/>
<path d="M275.5,455.8 L312.2,444.6 L348.6,433.4 L384.8,422.2 L420.7,411 L456.5,399.8 L491.9,388.5 L527.2,377.3 L562.2,366.1 L597,354.9 L631.5,343.6 L665.8,332.4 L700,321.1 L733.9,309.9 L767.5,298.6 L801,287.4 L834.3,276.1 L867.3,264.8 L900.2,253.6 L932.8,242.3"/>
</g>
<g stroke="#000" stroke-linecap="square" fill="none">
<path d="M277,1035 L242.7,312.7" stroke-width="4.1"/>
<path d="M277,1035 L797.8,1424.4" stroke-width="4.3"/>
<path d="M797.8,1424.4 L1436.9,1096.9" stroke-width="3.7"/>
</g>
<g stroke="#000" stroke-width="3" stroke-linecap="butt" fill="none">
<path d="M277,1035 L287.4,1030.2"/>
<path d="M275.6,1006.5 L281.5,1003.8"/>
<path d="M274.3,977.9 L280.2,975.2"/>
<path d="M272.9,949.1 L278.8,946.5"/>
<path d="M271.5,920.2 L282,915.5"/>
<path d="M270.1,891.2 L276.1,888.6"/>
<path d="M268.8,862 L274.7,859.4"/>
<path d="M267.4,832.7 L273.3,830.1"/>
<path d="M266,803.3 L276.5,798.7"/>
<path d="M264.6,773.7 L270.5,771.1"/>
<path d="M263.2,744 L269.1,741.4"/>
<path d="M261.7,714.2 L267.7,711.6"/>
<path d="M260.3,684.2 L270.9,679.6"/>
<path d="M258.9,654 L264.9,651.5"/>
<path d="M257.4,623.7 L263.4,621.2"/>
<path d="M256,593.3 L262,590.8"/>
<path d="M254.5,562.7 L265.2,558.3"/>
<path d="M253.1,532 L259.1,529.5"/>
<path d="M251.6,501.1 L257.6,498.7"/>
<path d="M250.2,470.1 L256.2,467.7"/>
<path d="M248.7,438.9 L259.3,434.6"/>
<path d="M247.2,407.6 L253.2,405.2"/>
<path d="M245.7,376.1 L251.7,373.7"/>
<path d="M244.2,344.5 L250.2,342.1"/>
<path d="M242.7,312.7 L253.4,308.5"/>
<path d="M797.8,1424.4 L807.2,1419.6"/>
<path d="M785.4,1415.1 L789.7,1412.9"/>
<path d="M773.1,1405.9 L777.4,1403.7"/>
<path d="M760.8,1396.7 L765.1,1394.5"/>
<path d="M748.5,1387.5 L752.8,1385.4"/>
<path d="M736.3,1378.4 L745.7,1373.7"/>
<path d="M724.1,1369.3 L728.4,1367.1"/>
<path d="M712,1360.2 L716.3,1358.1"/>
<path d="M699.9,1351.2 L704.2,1349"/>
<path d="M687.8,1342.1 L692.1,1340"/>
<path d="M675.8,1333.1 L685.2,1328.5"/>
<path d="M663.8,1324.2 L668.1,1322"/>
<path d="M651.8,1315.2 L656.1,1313.1"/>
<path d="M639.9,1306.3 L644.2,1304.2"/>
<path d="M628,1297.4 L632.3,1295.3"/>
<path d="M616.2,1288.6 L625.6,1283.9"/>
<path d="M604.4,1279.8 L608.7,1277.6"/>
<path d="M592.6,1271 L596.9,1268.8"/>
<path d="M580.9,1262.2 L585.2,1260.1"/>
<path d="M569.2,1253.4 L573.5,1251.3"/>
<path d="M557.5,1244.7 L566.9,1240.1"/>
<path d="M545.9,1236 L550.2,1233.9"/>
<path d="M534.3,1227.3 L538.6,1225.2"/>
<path d="M522.7,1218.7 L527,1216.6"/>
<path d="M511.2,1210.1 L515.5,1208"/>
<path d="M499.7,1201.5 L509.2,1196.9"/>
<path d="M488.2,1192.9 L492.6,1190.9"/>
<path d="M476.8,1184.4 L481.1,1182.3"/>
<path d="M465.4,1175.9 L469.8,1173.8"/>
<path d="M454.1,1167.4 L458.4,1165.3"/>
<path d="M442.8,1158.9 L452.2,1154.4"/>
<path d="M431.5,1150.5 L435.8,1148.4"/>
<path d="M420.2,1142.1 L424.6,1140"/>
<path d="M409,1133.7 L413.3,1131.6"/>
<path d="M397.8,1125.3 L402.2,1123.3"/>
<path d="M386.7,1117 L396.2,1112.5"/>
<path d="M375.5,1108.7 L379.9,1106.7"/>
<path d="M364.5,1100.4 L368.8,1098.4"/>
<path d="M353.4,1092.1 L357.8,1090.1"/>
<path d="M342.4,1083.9 L346.7,1081.9"/>
<path d="M331.4,1075.7 L340.9,1071.3"/>
<path d="M320.5,1067.5 L324.8,1065.5"/>
<path d="M309.5,1059.3 L313.9,1057.3"/>
<path d="M298.6,1051.2 L303,1049.2"/>
<path d="M287.8,1043.1 L292.2,1041.1"/>
<path d="M277,1035 L286.5,1030.6"/>
<path d="M797.8,1424.4 L789.4,1418.1"/>
<path d="M854,1395.6 L849.9,1392.6"/>
<path d="M909.6,1367.1 L901.1,1360.9"/>
<path d="M964.6,1338.9 L960.6,1335.9"/>
<path d="M1019.2,1310.9 L1010.6,1304.8"/>
<path d="M1073.1,1283.3 L1069.1,1280.4"/>
<path d="M1126.6,1255.9 L1118,1249.9"/>
<path d="M1179.6,1228.7 L1175.4,1225.9"/>
<path d="M1232,1201.8 L1223.3,1195.9"/>
<path d="M1284,1175.2 L1279.8,1172.4"/>
<path d="M1335.4,1148.8 L1326.7,1143"/>
<path d="M1386.4,1122.7 L1382.2,1120"/>
<path d="M1436.9,1096.9 L1428.1,1091.1"/>
</g>
<g fill="#000">
<text transform="matrix(0.8921 -0.3809 0.0522 1.0988 192.5 976.2)" font-size="52" text-anchor="middle">0.01</text>
<text transform="matrix(0.8921 -0.3809 0.0522 1.0988 186.9 859.3)" font-size="52" text-anchor="middle">0.02</text>
<text transform="matrix(0.8921 -0.3809 0.0522 1.0988 181.3 740.1)" font-size="52" text-anchor="middle">0.03</text>
<text transform="matrix(0.8921 -0.3809 0.0522 1.0988 175.5 618.7)" font-size="52" text-anchor="middle">0.04</text>
<text transform="matrix(0.8921 -0.3809 0.0522 1.0988 169.6 494.9)" font-size="52" text-anchor="middle">0.05</text>
<text transform="matrix(0.8921 -0.3809 0.0522 1.0988 163.7 368.7)" font-size="52" text-anchor="middle">0.06</text>
<text transform="matrix(0.0425 0.8960 -0.9657 0.4123 47.6 770.3)" font-size="56" text-anchor="middle">PWC (cm<tspan dy="-22" font-size="40">3</tspan><tspan dy="22"> cm</tspan><tspan dy="-22" font-size="40">-3</tspan><tspan dy="22">)</tspan></text>
<text transform="matrix(0.7119 -0.3649 0.8250 0.6167 285.3 1116.7)" font-size="52" text-anchor="middle">4.0</text>
<text transform="matrix(0.7119 -0.3649 0.8250 0.6167 396.6 1199.9)" font-size="52" text-anchor="middle">3.0</text>
<text transform="matrix(0.7119 -0.3649 0.8250 0.6167 511.4 1285.7)" font-size="52" text-anchor="middle">2.0</text>
<text transform="matrix(0.7119 -0.3649 0.8250 0.6167 629.6 1374.1)" font-size="52" text-anchor="middle">1.0</text>
<text transform="matrix(0.7119 -0.3649 0.8250 0.6167 751.7 1465.3)" font-size="52" text-anchor="middle">0.0</text>
<text transform="matrix(0.5967 0.4461 -0.8187 0.4196 342.9 1303.9)" font-size="56" text-anchor="middle" letter-spacing="-1.3" word-spacing="8">diatomite rate (%)</text>
<text transform="matrix(0.6407 0.4790 -0.9344 0.4789 827.9 1469.1)" font-size="52" text-anchor="middle">0.0</text>
<text transform="matrix(0.6407 0.4790 -0.9344 0.4789 939.7 1411.8)" font-size="52" text-anchor="middle">0.2</text>
<text transform="matrix(0.6407 0.4790 -0.9344 0.4789 1049.3 1355.6)" font-size="52" text-anchor="middle">0.4</text>
<text transform="matrix(0.6407 0.4790 -0.9344 0.4789 1156.7 1300.6)" font-size="52" text-anchor="middle">0.6</text>
<text transform="matrix(0.6407 0.4790 -0.9344 0.4789 1262.1 1246.6)" font-size="52" text-anchor="middle">0.8</text>
<text transform="matrix(0.6407 0.4790 -0.9344 0.4789 1365.5 1193.6)" font-size="52" text-anchor="middle">1.0</text>
<text transform="matrix(0.6407 0.4790 -0.9344 0.4789 1467 1141.6)" font-size="52" text-anchor="middle">1.2</text>
<text transform="matrix(0.7404 -0.3795 0.8009 0.5988 1246.6 1378.5)" font-size="56" text-anchor="middle" word-spacing="-4">diatomite particle size (mm)</text>
</g>
<g stroke-linecap="round">
<line x1="284.7" y1="2606.8" x2="248.9" y2="1866.5" stroke="#dadada" stroke-width="3.0"/>
<line x1="818.9" y1="3008.5" x2="284.7" y2="2606.8" stroke="#dadada" stroke-width="3.0"/>
<line x1="396.8" y1="2555.6" x2="367.9" y2="1819.7" stroke="#dadada" stroke-width="3.0"/>
<line x1="933.8" y1="2949.5" x2="396.8" y2="2555.6" stroke="#dadada" stroke-width="3.0"/>
<line x1="506.8" y1="2505.3" x2="484.6" y2="1773.8" stroke="#dadada" stroke-width="3.0"/>
<line x1="1046.4" y1="2891.6" x2="506.8" y2="2505.3" stroke="#dadada" stroke-width="3.0"/>
<line x1="614.7" y1="2456" x2="599.1" y2="1728.8" stroke="#dadada" stroke-width="3.0"/>
<line x1="1156.8" y1="2834.9" x2="614.7" y2="2456" stroke="#dadada" stroke-width="3.0"/>
<line x1="720.7" y1="2407.6" x2="711.3" y2="1684.6" stroke="#dadada" stroke-width="3.0"/>
<line x1="1265" y1="2779.3" x2="720.7" y2="2407.6" stroke="#dadada" stroke-width="3.0"/>
<line x1="824.8" y1="2360" x2="821.3" y2="1641.3" stroke="#dadada" stroke-width="3.0"/>
<line x1="1371.1" y1="2724.8" x2="824.8" y2="2360" stroke="#dadada" stroke-width="3.0"/>
<line x1="927" y1="2313.3" x2="929.3" y2="1598.8" stroke="#dadada" stroke-width="3.0"/>
<line x1="1475.2" y1="2671.4" x2="927" y2="2313.3" stroke="#dadada" stroke-width="3.0"/>
<line x1="1475.2" y1="2671.4" x2="1510.7" y2="1925.6" stroke="#dadada" stroke-width="3.0"/>
<line x1="818.9" y1="3008.5" x2="1475.2" y2="2671.4" stroke="#dadada" stroke-width="3.0"/>
<line x1="1410.5" y1="2629.1" x2="1441.9" y2="1886.9" stroke="#dadada" stroke-width="3.0"/>
<line x1="755.6" y1="2961" x2="1410.5" y2="2629.1" stroke="#dadada" stroke-width="3.0"/>
<line x1="1346.9" y1="2587.6" x2="1374.2" y2="1848.8" stroke="#dadada" stroke-width="3.0"/>
<line x1="693.4" y1="2914.2" x2="1346.9" y2="2587.6" stroke="#dadada" stroke-width="3.0"/>
<line x1="1284.1" y1="2546.6" x2="1307.6" y2="1811.4" stroke="#dadada" stroke-width="3.0"/>
<line x1="632.2" y1="2868.2" x2="1284.1" y2="2546.6" stroke="#dadada" stroke-width="3.0"/>
<line x1="1222.4" y1="2506.3" x2="1242" y2="1774.6" stroke="#dadada" stroke-width="3.0"/>
<line x1="572" y1="2822.9" x2="1222.4" y2="2506.3" stroke="#dadada" stroke-width="3.0"/>
<line x1="1161.5" y1="2466.5" x2="1177.5" y2="1738.3" stroke="#dadada" stroke-width="3.0"/>
<line x1="512.7" y1="2778.3" x2="1161.5" y2="2466.5" stroke="#dadada" stroke-width="3.0"/>
<line x1="1101.6" y1="2427.4" x2="1114" y2="1702.6" stroke="#dadada" stroke-width="3.0"/>
<line x1="454.3" y1="2734.4" x2="1101.6" y2="2427.4" stroke="#dadada" stroke-width="3.0"/>
<line x1="1042.5" y1="2388.8" x2="1051.5" y2="1667.5" stroke="#dadada" stroke-width="3.0"/>
<line x1="396.9" y1="2691.2" x2="1042.5" y2="2388.8" stroke="#dadada" stroke-width="3.0"/>
<line x1="984.3" y1="2350.8" x2="989.9" y2="1632.9" stroke="#dadada" stroke-width="3.0"/>
<line x1="340.3" y1="2648.7" x2="984.3" y2="2350.8" stroke="#dadada" stroke-width="3.0"/>
<line x1="927" y1="2313.3" x2="929.3" y2="1598.8" stroke="#dadada" stroke-width="3.0"/>
<line x1="284.7" y1="2606.8" x2="927" y2="2313.3" stroke="#dadada" stroke-width="3.0"/>
<line x1="284.7" y1="2606.8" x2="927" y2="2313.3" stroke="#dadada" stroke-width="3.0"/>
<line x1="927" y1="2313.3" x2="1475.2" y2="2671.4" stroke="#dadada" stroke-width="3.0"/>
<line x1="279.8" y1="2506.2" x2="927.3" y2="2215.9" stroke="#dadada" stroke-width="3.0"/>
<line x1="927.3" y1="2215.9" x2="1480" y2="2570.1" stroke="#dadada" stroke-width="3.0"/>
<line x1="274.9" y1="2403.9" x2="927.6" y2="2117.1" stroke="#dadada" stroke-width="3.0"/>
<line x1="927.6" y1="2117.1" x2="1484.9" y2="2467.1" stroke="#dadada" stroke-width="3.0"/>
<line x1="269.8" y1="2300" x2="928" y2="2016.6" stroke="#dadada" stroke-width="3.0"/>
<line x1="928" y1="2016.6" x2="1489.9" y2="2362.4" stroke="#dadada" stroke-width="3.0"/>
<line x1="264.7" y1="2194.3" x2="928.3" y2="1914.6" stroke="#dadada" stroke-width="3.0"/>
<line x1="928.3" y1="1914.6" x2="1495" y2="2255.9" stroke="#dadada" stroke-width="3.0"/>
<line x1="259.5" y1="2086.9" x2="928.6" y2="1811" stroke="#dadada" stroke-width="3.0"/>
<line x1="928.6" y1="1811" x2="1500.2" y2="2147.7" stroke="#dadada" stroke-width="3.0"/>
<line x1="254.2" y1="1977.6" x2="929" y2="1705.8" stroke="#dadada" stroke-width="3.0"/>
<line x1="929" y1="1705.8" x2="1505.4" y2="2037.6" stroke="#dadada" stroke-width="3.0"/>
<line x1="248.9" y1="1866.5" x2="929.3" y2="1598.8" stroke="#dadada" stroke-width="3.0"/>
<line x1="929.3" y1="1598.8" x2="1510.7" y2="1925.6" stroke="#dadada" stroke-width="3.0"/>
</g>
<g stroke-linejoin="round">
<polygon points="817.2,2713.5 823.2,2711 829.1,2708.5 835,2706.1 841,2703.6 846.9,2701.1 852.8,2698.7 858.7,2696.2 864.6,2693.8 870.5,2691.3 876.4,2688.8 882.3,2686.4 888.1,2683.9 894,2681.5 899.9,2679.1 905.7,2676.6 911.6,2674.2 917.4,2671.8 923.3,2669.3 929.1,2666.9 934.9,2664.5 940.7,2662 946.5,2659.6 952.3,2657.2 958.1,2654.8 963.9,2652.4 969.7,2650 975.5,2647.6 981.3,2645.2 987,2642.8 992.8,2640.4 998.5,2638 1004.3,2635.6 1010,2633.2 1015.8,2630.8 1021.5,2628.4 1027.2,2626 1032.9,2623.6 1038.6,2621.3 1044.3,2618.9 1050,2616.5 1055.7,2614.1 1061.4,2611.8 1067.1,2609.4 1072.8,2607 1078.4,2604.7 1084.1,2602.3 1089.7,2600 1095.4,2597.6 1101,2595.3 1106.7,2592.9 1112.3,2590.6 1117.9,2588.2 1123.5,2585.9 1129.1,2583.6 1134.7,2581.2 1140.3,2578.9 1145.9,2576.6 1151.5,2574.2 1157.1,2571.9 1162.7,2569.6 1168.2,2567.3 1173.8,2565 1179.4,2562.6 1184.9,2560.3 1190.5,2558 1196,2555.7 1201.5,2553.4 1207.1,2551.1 1212.6,2548.8 1218.1,2546.5 1223.6,2544.2 1229.1,2541.9 1234.6,2539.6 1240.1,2537.3 1245.6,2535.1 1251.1,2532.8 1256.5,2530.5 1262,2528.2 1267.5,2525.9 1272.9,2523.7 1278.4,2521.4 1283.8,2519.1 1289.2,2516.9 1294.7,2514.6 1300.1,2512.3 1305.5,2510.1 1310.9,2507.8 1316.4,2505.6 1321.8,2503.3 1327.2,2501.1 1332.5,2498.8 1337.9,2496.6 1343.3,2494.3 1348.7,2492.1 1354.1,2489.9 1359.4,2487.6 1364.8,2485.4 1370.1,2483.2 1375.5,2480.9 1380.8,2478.7 1386.2,2476.5 1391.5,2474.3 1396.8,2472.1 1402.1,2469.8 1407.4,2467.6 1412.7,2465.4 1418.1,2463.2 1423.3,2461 1428.6,2458.8 1433.9,2456.6 1439.2,2454.4 1444.5,2452.2 1449.7,2450 1455,2447.8 1460.3,2445.6 1465.5,2443.4 1470.8,2441.3 1476,2439.1 1481.2,2436.9 1486.5,2434.7 1459.9,2399.5 1455.3,2402.4 1450.6,2405.3 1445.9,2408.2 1441.3,2411.2 1436.6,2414.1 1431.9,2417.1 1427.2,2420 1422.5,2423 1417.8,2425.9 1413.1,2428.9 1408.4,2431.8 1403.7,2434.8 1399,2437.8 1394.3,2440.7 1389.5,2443.7 1384.8,2446.7 1380.1,2449.7 1375.3,2452.6 1370.6,2455.6 1365.8,2458.6 1361.1,2461.6 1356.3,2464.6 1351.5,2467.6 1346.7,2470.6 1342,2473.6 1337.2,2476.6 1332.4,2479.7 1327.6,2482.7 1322.8,2485.7 1318,2488.7 1313.2,2491.8 1308.3,2494.8 1303.5,2497.8 1298.7,2500.9 1293.9,2503.9 1289,2507 1284.2,2510 1279.3,2513.1 1274.5,2516.1 1269.6,2519.2 1264.7,2522.2 1259.8,2525.3 1255,2528.4 1250.1,2531.5 1245.2,2534.5 1240.1,2537.3 1234.6,2539.6 1229.1,2541.9 1223.6,2544.2 1218.1,2546.5 1212.6,2548.8 1207.1,2551.1 1201.5,2553.4 1196,2555.7 1190.5,2558 1184.9,2560.3 1179.4,2562.6 1173.8,2565 1168.2,2567.3 1162.7,2569.6 1157.1,2571.9 1151.5,2574.2 1145.9,2576.6 1140.3,2578.9 1134.7,2581.2 1129.1,2583.6 1123.5,2585.9 1117.9,2588.2 1112.3,2590.6 1106.7,2592.9 1101,2595.3 1095.4,2597.6 1089.7,2600 1084.1,2602.3 1078.4,2604.7 1072.8,2607 1067.1,2609.4 1061.4,2611.8 1055.7,2614.1 1050,2616.5 1044.3,2618.9 1038.6,2621.3 1032.9,2623.6 1027.2,2626 1021.5,2628.4 1015.8,2630.8 1010,2633.2 1004.3,2635.6 998.5,2638 992.8,2640.4 987,2642.8 981.3,2645.2 975.5,2647.6 969.7,2650 963.9,2652.4 958.1,2654.8 952.3,2657.2 946.5,2659.6 940.7,2662 934.9,2664.5 929.1,2666.9 923.3,2669.3 917.4,2671.8 911.6,2674.2 905.7,2676.6 899.9,2679.1 894,2681.5 888.1,2683.9 882.3,2686.4 876.4,2688.8 870.5,2691.3 864.6,2693.8 858.7,2696.2 852.8,2698.7 846.9,2701.1 841,2703.6 835,2706.1 829.1,2708.5 823.2,2711 817.2,2713.5" fill="#006446" stroke="#006446" stroke-width="0.8"/>
<polygon points="817.2,2713.5 823.2,2711 829.1,2708.5 835,2706.1 841,2703.6 846.9,2701.1 852.8,2698.7 858.7,2696.2 864.6,2693.8 870.5,2691.3 876.4,2688.8 882.3,2686.4 888.1,2683.9 894,2681.5 899.9,2679.1 905.7,2676.6 911.6,2674.2 917.4,2671.8 923.3,2669.3 929.1,2666.9 934.9,2664.5 940.7,2662 946.5,2659.6 952.3,2657.2 958.1,2654.8 963.9,2652.4 969.7,2650 975.5,2647.6 981.3,2645.2 987,2642.8 992.8,2640.4 998.5,2638 1004.3,2635.6 1010,2633.2 1015.8,2630.8 1021.5,2628.4 1027.2,2626 1032.9,2623.6 1038.6,2621.3 1044.3,2618.9 1050,2616.5 1055.7,2614.1 1061.4,2611.8 1067.1,2609.4 1072.8,2607 1078.4,2604.7 1084.1,2602.3 1089.7,2600 1095.4,2597.6 1101,2595.3 1106.7,2592.9 1112.3,2590.6 1117.9,2588.2 1123.5,2585.9 1129.1,2583.6 1134.7,2581.2 1140.3,2578.9 1145.9,2576.6 1151.5,2574.2 1157.1,2571.9 1162.7,2569.6 1168.2,2567.3 1173.8,2565 1179.4,2562.6 1184.9,2560.3 1190.5,2558 1196,2555.7 1201.5,2553.4 1207.1,2551.1 1212.6,2548.8 1218.1,2546.5 1223.6,2544.2 1229.1,2541.9 1234.6,2539.6 1240.1,2537.3 1245.2,2534.5 1250.1,2531.5 1255,2528.4 1259.8,2525.3 1264.7,2522.2 1269.6,2519.2 1274.5,2516.1 1279.3,2513.1 1284.2,2510 1289,2507 1293.9,2503.9 1298.7,2500.9 1303.5,2497.8 1308.3,2494.8 1313.2,2491.8 1318,2488.7 1322.8,2485.7 1327.6,2482.7 1332.4,2479.7 1337.2,2476.6 1342,2473.6 1346.7,2470.6 1351.5,2467.6 1356.3,2464.6 1361.1,2461.6 1365.8,2458.6 1370.6,2455.6 1375.3,2452.6 1380.1,2449.7 1384.8,2446.7 1389.5,2443.7 1394.3,2440.7 1399,2437.8 1403.7,2434.8 1408.4,2431.8 1413.1,2428.9 1417.8,2425.9 1422.5,2423 1427.2,2420 1431.9,2417.1 1436.6,2414.1 1441.3,2411.2 1445.9,2408.2 1450.6,2405.3 1455.3,2402.4 1459.9,2399.5 1422.1,2349.3 1417.5,2352.2 1412.8,2355.1 1408.1,2358 1403.4,2360.9 1398.8,2363.8 1394.1,2366.7 1389.4,2369.6 1384.7,2372.5 1380,2375.4 1375.2,2378.4 1370.5,2381.3 1365.8,2384.2 1361.1,2387.1 1356.3,2390.1 1351.6,2393 1346.8,2395.9 1342.1,2398.9 1337.3,2401.8 1332.6,2404.8 1327.8,2407.7 1323,2410.7 1318.3,2413.6 1313.5,2416.6 1308.7,2419.6 1303.9,2422.5 1299.1,2425.5 1294.3,2428.5 1289.5,2431.5 1284.7,2434.4 1279.9,2437.4 1275,2440.4 1270.2,2443.4 1265.4,2446.4 1260.5,2449.4 1255.7,2452.4 1250.8,2455.4 1246,2458.4 1241.1,2461.4 1236.2,2464.5 1231.4,2467.5 1226.5,2470.5 1221.6,2473.5 1216.7,2476.6 1211.8,2479.6 1206.9,2482.6 1202,2485.7 1197.1,2488.7 1192.2,2491.8 1187.2,2494.8 1182.3,2497.9 1177.4,2500.9 1172.4,2504 1167.5,2507.1 1162.5,2510.1 1157.6,2513.2 1152.6,2516.3 1147.6,2519.4 1142.7,2522.5 1137.7,2525.6 1132.7,2528.7 1127.7,2531.7 1122.7,2534.8 1117.7,2538 1112.7,2541.1 1107.7,2544.2 1102.7,2547.3 1097.6,2550.4 1092.6,2553.5 1087.6,2556.7 1082.5,2559.8 1077.5,2562.9 1072.4,2566.1 1067.3,2569.2 1062.3,2572.3 1057.2,2575.5 1052.1,2578.6 1047,2581.8 1042,2585 1036.9,2588.1 1031.8,2591.3 1026.6,2594.5 1021.5,2597.6 1016.4,2600.8 1011.3,2604 1006.2,2607.2 1001,2610.4 995.9,2613.6 990.7,2616.8 985.6,2620 980.4,2623.2 975.2,2626.4 970.1,2629.6 964.9,2632.8 959.7,2636 954.5,2639.3 949.3,2642.5 944.1,2645.7 938.9,2649 933.7,2652.2 928.4,2655.5 923.2,2658.7 918,2662 912.7,2665.2 907.5,2668.5 902.2,2671.7 897,2675 891.7,2678.3 886.4,2681.6 881.2,2684.8 875.9,2688.1 870.5,2691.3 864.6,2693.8 858.7,2696.2 852.8,2698.7 846.9,2701.1 841,2703.6 835,2706.1 829.1,2708.5 823.2,2711 817.2,2713.5" fill="#008c14" stroke="#008c14" stroke-width="0.8"/>
<polygon points="817.2,2713.5 823.2,2711 829.1,2708.5 835,2706.1 841,2703.6 846.9,2701.1 852.8,2698.7 858.7,2696.2 864.6,2693.8 870.5,2691.3 875.9,2688.1 881.2,2684.8 886.4,2681.6 891.7,2678.3 897,2675 902.2,2671.7 907.5,2668.5 912.7,2665.2 918,2662 923.2,2658.7 928.4,2655.5 933.7,2652.2 938.9,2649 944.1,2645.7 949.3,2642.5 954.5,2639.3 959.7,2636 964.9,2632.8 970.1,2629.6 975.2,2626.4 980.4,2623.2 985.6,2620 990.7,2616.8 995.9,2613.6 1001,2610.4 1006.2,2607.2 1011.3,2604 1016.4,2600.8 1021.5,2597.6 1026.6,2594.5 1031.8,2591.3 1036.9,2588.1 1042,2585 1047,2581.8 1052.1,2578.6 1057.2,2575.5 1062.3,2572.3 1067.3,2569.2 1072.4,2566.1 1077.5,2562.9 1082.5,2559.8 1087.6,2556.7 1092.6,2553.5 1097.6,2550.4 1102.7,2547.3 1107.7,2544.2 1112.7,2541.1 1117.7,2538 1122.7,2534.8 1127.7,2531.7 1132.7,2528.7 1137.7,2525.6 1142.7,2522.5 1147.6,2519.4 1152.6,2516.3 1157.6,2513.2 1162.5,2510.1 1167.5,2507.1 1172.4,2504 1177.4,2500.9 1182.3,2497.9 1187.2,2494.8 1192.2,2491.8 1197.1,2488.7 1202,2485.7 1206.9,2482.6 1211.8,2479.6 1216.7,2476.6 1221.6,2473.5 1226.5,2470.5 1231.4,2467.5 1236.2,2464.5 1241.1,2461.4 1246,2458.4 1250.8,2455.4 1255.7,2452.4 1260.5,2449.4 1265.4,2446.4 1270.2,2443.4 1275,2440.4 1279.9,2437.4 1284.7,2434.4 1289.5,2431.5 1294.3,2428.5 1299.1,2425.5 1303.9,2422.5 1308.7,2419.6 1313.5,2416.6 1318.3,2413.6 1323,2410.7 1327.8,2407.7 1332.6,2404.8 1337.3,2401.8 1342.1,2398.9 1346.8,2395.9 1351.6,2393 1356.3,2390.1 1361.1,2387.1 1365.8,2384.2 1370.5,2381.3 1375.2,2378.4 1380,2375.4 1384.7,2372.5 1389.4,2369.6 1394.1,2366.7 1398.8,2363.8 1403.4,2360.9 1408.1,2358 1412.8,2355.1 1417.5,2352.2 1422.1,2349.3 1384.6,2299.4 1379.9,2302.3 1375.2,2305.1 1370.5,2308 1365.8,2310.9 1361.1,2313.7 1356.4,2316.6 1351.7,2319.5 1347,2322.3 1342.3,2325.2 1337.5,2328.1 1332.8,2331 1328.1,2333.9 1323.3,2336.8 1318.6,2339.6 1313.8,2342.5 1309.1,2345.4 1304.3,2348.3 1299.6,2351.3 1294.8,2354.2 1290,2357.1 1285.2,2360 1280.4,2362.9 1275.6,2365.8 1270.8,2368.8 1266,2371.7 1261.2,2374.6 1256.4,2377.6 1251.6,2380.5 1246.8,2383.4 1241.9,2386.4 1237.1,2389.3 1232.3,2392.3 1227.4,2395.3 1222.6,2398.2 1217.7,2401.2 1212.8,2404.1 1208,2407.1 1203.1,2410.1 1198.2,2413.1 1193.3,2416 1188.4,2419 1183.5,2422 1178.6,2425 1173.7,2428 1168.8,2431 1163.9,2434 1159,2437 1154,2440 1149.1,2443 1144.2,2446.1 1139.2,2449.1 1134.3,2452.1 1129.3,2455.1 1124.3,2458.2 1119.4,2461.2 1114.4,2464.2 1109.4,2467.3 1104.4,2470.3 1099.4,2473.4 1094.4,2476.4 1089.4,2479.5 1084.4,2482.5 1079.4,2485.6 1074.4,2488.7 1069.4,2491.7 1064.3,2494.8 1059.3,2497.9 1054.3,2501 1049.2,2504.1 1044.1,2507.1 1039.1,2510.2 1034,2513.3 1028.9,2516.4 1023.9,2519.5 1018.8,2522.6 1013.7,2525.7 1008.6,2528.9 1003.5,2532 998.4,2535.1 993.3,2538.2 988.2,2541.4 983,2544.5 977.9,2547.6 972.8,2550.8 967.6,2553.9 962.5,2557.1 957.3,2560.2 952.1,2563.4 947,2566.5 941.8,2569.7 936.6,2572.9 931.4,2576 926.3,2579.2 921.1,2582.4 915.9,2585.6 910.6,2588.7 905.4,2591.9 900.2,2595.1 895,2598.3 889.7,2601.5 884.5,2604.7 879.3,2607.9 874,2611.2 868.7,2614.4 863.5,2617.6 858.2,2620.8 852.9,2624 847.6,2627.3 842.4,2630.5 837.1,2633.8 831.8,2637 826.5,2640.3 821.1,2643.5 815.8,2646.8 810.5,2650 805.2,2653.3 799.8,2656.6 794.5,2659.8 789.1,2663.1 783.8,2666.4" fill="#00a000" stroke="#00a000" stroke-width="0.8"/>
<polygon points="783.8,2666.4 789.1,2663.1 794.5,2659.8 799.8,2656.6 805.2,2653.3 810.5,2650 815.8,2646.8 821.1,2643.5 826.5,2640.3 831.8,2637 837.1,2633.8 842.4,2630.5 847.6,2627.3 852.9,2624 858.2,2620.8 863.5,2617.6 868.7,2614.4 874,2611.2 879.3,2607.9 884.5,2604.7 889.7,2601.5 895,2598.3 900.2,2595.1 905.4,2591.9 910.6,2588.7 915.9,2585.6 921.1,2582.4 926.3,2579.2 931.4,2576 936.6,2572.9 941.8,2569.7 947,2566.5 952.1,2563.4 957.3,2560.2 962.5,2557.1 967.6,2553.9 972.8,2550.8 977.9,2547.6 983,2544.5 988.2,2541.4 993.3,2538.2 998.4,2535.1 1003.5,2532 1008.6,2528.9 1013.7,2525.7 1018.8,2522.6 1023.9,2519.5 1028.9,2516.4 1034,2513.3 1039.1,2510.2 1044.1,2507.1 1049.2,2504.1 1054.3,2501 1059.3,2497.9 1064.3,2494.8 1069.4,2491.7 1074.4,2488.7 1079.4,2485.6 1084.4,2482.5 1089.4,2479.5 1094.4,2476.4 1099.4,2473.4 1104.4,2470.3 1109.4,2467.3 1114.4,2464.2 1119.4,2461.2 1124.3,2458.2 1129.3,2455.1 1134.3,2452.1 1139.2,2449.1 1144.2,2446.1 1149.1,2443 1154,2440 1159,2437 1163.9,2434 1168.8,2431 1173.7,2428 1178.6,2425 1183.5,2422 1188.4,2419 1193.3,2416 1198.2,2413.1 1203.1,2410.1 1208,2407.1 1212.8,2404.1 1217.7,2401.2 1222.6,2398.2 1227.4,2395.3 1232.3,2392.3 1237.1,2389.3 1241.9,2386.4 1246.8,2383.4 1251.6,2380.5 1256.4,2377.6 1261.2,2374.6 1266,2371.7 1270.8,2368.8 1275.6,2365.8 1280.4,2362.9 1285.2,2360 1290,2357.1 1294.8,2354.2 1299.6,2351.3 1304.3,2348.3 1309.1,2345.4 1313.8,2342.5 1318.6,2339.6 1323.3,2336.8 1328.1,2333.9 1332.8,2331 1337.5,2328.1 1342.3,2325.2 1347,2322.3 1351.7,2319.5 1356.4,2316.6 1361.1,2313.7 1365.8,2310.9 1370.5,2308 1375.2,2305.1 1379.9,2302.3 1384.6,2299.4 1347.2,2249.8 1342.5,2252.6 1337.8,2255.5 1333.1,2258.3 1328.4,2261.1 1323.7,2263.9 1319,2266.7 1314.2,2269.6 1309.5,2272.4 1304.8,2275.3 1300.1,2278.1 1295.3,2280.9 1290.6,2283.8 1285.8,2286.6 1281.1,2289.5 1276.3,2292.4 1271.5,2295.2 1266.8,2298.1 1262,2301 1257.2,2303.8 1252.4,2306.7 1247.6,2309.6 1242.8,2312.5 1238,2315.3 1233.2,2318.2 1228.4,2321.1 1223.6,2324 1218.7,2326.9 1213.9,2329.8 1209.1,2332.7 1204.2,2335.6 1199.4,2338.5 1194.5,2341.5 1189.7,2344.4 1184.8,2347.3 1179.9,2350.2 1175.1,2353.1 1170.2,2356.1 1165.3,2359 1160.4,2362 1155.5,2364.9 1150.6,2367.8 1145.7,2370.8 1140.8,2373.7 1135.9,2376.7 1130.9,2379.7 1126,2382.6 1121.1,2385.6 1116.1,2388.6 1111.2,2391.5 1106.2,2394.5 1101.3,2397.5 1096.3,2400.5 1091.3,2403.5 1086.4,2406.4 1081.4,2409.4 1076.4,2412.4 1071.4,2415.4 1066.4,2418.4 1061.4,2421.5 1056.4,2424.5 1051.4,2427.5 1046.4,2430.5 1041.3,2433.5 1036.3,2436.5 1031.3,2439.6 1026.2,2442.6 1021.2,2445.6 1016.1,2448.7 1011.1,2451.7 1006,2454.8 1000.9,2457.8 995.8,2460.9 990.8,2463.9 985.7,2467 980.6,2470.1 975.5,2473.1 970.4,2476.2 965.2,2479.3 960.1,2482.4 955,2485.5 949.9,2488.5 944.7,2491.6 939.6,2494.7 934.4,2497.8 929.3,2500.9 924.1,2504 919,2507.1 913.8,2510.3 908.6,2513.4 903.4,2516.5 898.2,2519.6 893,2522.7 887.8,2525.9 882.6,2529 877.4,2532.2 872.2,2535.3 867,2538.4 861.7,2541.6 856.5,2544.7 851.3,2547.9 846,2551.1 840.7,2554.2 835.5,2557.4 830.2,2560.6 824.9,2563.8 819.7,2566.9 814.4,2570.1 809.1,2573.3 803.8,2576.5 798.5,2579.7 793.2,2582.9 787.8,2586.1 782.5,2589.3 777.2,2592.5 771.8,2595.7 766.5,2599 761.2,2602.2 755.8,2605.4 750.4,2608.6 745.1,2611.9" fill="#00be00" stroke="#00be00" stroke-width="0.8"/>
<polygon points="745.1,2611.9 750.4,2608.6 755.8,2605.4 761.2,2602.2 766.5,2599 771.8,2595.7 777.2,2592.5 782.5,2589.3 787.8,2586.1 793.2,2582.9 798.5,2579.7 803.8,2576.5 809.1,2573.3 814.4,2570.1 819.7,2566.9 824.9,2563.8 830.2,2560.6 835.5,2557.4 840.7,2554.2 846,2551.1 851.3,2547.9 856.5,2544.7 861.7,2541.6 867,2538.4 872.2,2535.3 877.4,2532.2 882.6,2529 887.8,2525.9 893,2522.7 898.2,2519.6 903.4,2516.5 908.6,2513.4 913.8,2510.3 919,2507.1 924.1,2504 929.3,2500.9 934.4,2497.8 939.6,2494.7 944.7,2491.6 949.9,2488.5 955,2485.5 960.1,2482.4 965.2,2479.3 970.4,2476.2 975.5,2473.1 980.6,2470.1 985.7,2467 990.8,2463.9 995.8,2460.9 1000.9,2457.8 1006,2454.8 1011.1,2451.7 1016.1,2448.7 1021.2,2445.6 1026.2,2442.6 1031.3,2439.6 1036.3,2436.5 1041.3,2433.5 1046.4,2430.5 1051.4,2427.5 1056.4,2424.5 1061.4,2421.5 1066.4,2418.4 1071.4,2415.4 1076.4,2412.4 1081.4,2409.4 1086.4,2406.4 1091.3,2403.5 1096.3,2400.5 1101.3,2397.5 1106.2,2394.5 1111.2,2391.5 1116.1,2388.6 1121.1,2385.6 1126,2382.6 1130.9,2379.7 1135.9,2376.7 1140.8,2373.7 1145.7,2370.8 1150.6,2367.8 1155.5,2364.9 1160.4,2362 1165.3,2359 1170.2,2356.1 1175.1,2353.1 1179.9,2350.2 1184.8,2347.3 1189.7,2344.4 1194.5,2341.5 1199.4,2338.5 1204.2,2335.6 1209.1,2332.7 1213.9,2329.8 1218.7,2326.9 1223.6,2324 1228.4,2321.1 1233.2,2318.2 1238,2315.3 1242.8,2312.5 1247.6,2309.6 1252.4,2306.7 1257.2,2303.8 1262,2301 1266.8,2298.1 1271.5,2295.2 1276.3,2292.4 1281.1,2289.5 1285.8,2286.6 1290.6,2283.8 1295.3,2280.9 1300.1,2278.1 1304.8,2275.3 1309.5,2272.4 1314.2,2269.6 1319,2266.7 1323.7,2263.9 1328.4,2261.1 1333.1,2258.3 1337.8,2255.5 1342.5,2252.6 1347.2,2249.8 1310,2200.5 1305.3,2203.2 1300.6,2206 1295.9,2208.8 1291.2,2211.6 1286.4,2214.4 1281.7,2217.2 1277,2220 1272.2,2222.8 1267.5,2225.6 1262.8,2228.4 1258,2231.2 1253.2,2234 1248.5,2236.8 1243.7,2239.6 1238.9,2242.4 1234.2,2245.3 1229.4,2248.1 1224.6,2250.9 1219.8,2253.7 1215,2256.6 1210.2,2259.4 1205.4,2262.3 1200.6,2265.1 1195.7,2268 1190.9,2270.8 1186.1,2273.7 1181.2,2276.5 1176.4,2279.4 1171.6,2282.3 1166.7,2285.1 1161.8,2288 1157,2290.9 1152.1,2293.8 1147.2,2296.6 1142.4,2299.5 1137.5,2302.4 1132.6,2305.3 1127.7,2308.2 1122.8,2311.1 1117.9,2314 1113,2316.9 1108,2319.8 1103.1,2322.7 1098.2,2325.7 1093.2,2328.6 1088.3,2331.5 1083.4,2334.4 1078.4,2337.4 1073.5,2340.3 1068.5,2343.2 1063.5,2346.2 1058.5,2349.1 1053.6,2352.1 1048.6,2355 1043.6,2358 1038.6,2360.9 1033.6,2363.9 1028.6,2366.8 1023.6,2369.8 1018.5,2372.8 1013.5,2375.8 1008.5,2378.7 1003.5,2381.7 998.4,2384.7 993.4,2387.7 988.3,2390.7 983.2,2393.7 978.2,2396.7 973.1,2399.7 968,2402.7 963,2405.7 957.9,2408.7 952.8,2411.7 947.7,2414.8 942.6,2417.8 937.4,2420.8 932.3,2423.8 927.2,2426.9 922.1,2429.9 916.9,2433 911.8,2436 906.7,2439.1 901.5,2442.1 896.3,2445.2 891.2,2448.2 886,2451.3 880.8,2454.4 875.6,2457.4 870.5,2460.5 865.3,2463.6 860.1,2466.7 854.9,2469.8 849.6,2472.8 844.4,2475.9 839.2,2479 834,2482.1 828.7,2485.2 823.5,2488.3 818.2,2491.5 813,2494.6 807.7,2497.7 802.5,2500.8 797.2,2503.9 791.9,2507.1 786.6,2510.2 781.3,2513.4 776,2516.5 770.7,2519.6 765.4,2522.8 760.1,2525.9 754.8,2529.1 749.4,2532.3 744.1,2535.4 738.8,2538.6 733.4,2541.8 728.1,2544.9 722.7,2548.1 717.3,2551.3 712,2554.5 706.6,2557.7" fill="#00dc00" stroke="#00dc00" stroke-width="0.8"/>
<polygon points="706.6,2557.7 712,2554.5 717.3,2551.3 722.7,2548.1 728.1,2544.9 733.4,2541.8 738.8,2538.6 744.1,2535.4 749.4,2532.3 754.8,2529.1 760.1,2525.9 765.4,2522.8 770.7,2519.6 776,2516.5 781.3,2513.4 786.6,2510.2 791.9,2507.1 797.2,2503.9 802.5,2500.8 807.7,2497.7 813,2494.6 818.2,2491.5 823.5,2488.3 828.7,2485.2 834,2482.1 839.2,2479 844.4,2475.9 849.6,2472.8 854.9,2469.8 860.1,2466.7 865.3,2463.6 870.5,2460.5 875.6,2457.4 880.8,2454.4 886,2451.3 891.2,2448.2 896.3,2445.2 901.5,2442.1 906.7,2439.1 911.8,2436 916.9,2433 922.1,2429.9 927.2,2426.9 932.3,2423.8 937.4,2420.8 942.6,2417.8 947.7,2414.8 952.8,2411.7 957.9,2408.7 963,2405.7 968,2402.7 973.1,2399.7 978.2,2396.7 983.2,2393.7 988.3,2390.7 993.4,2387.7 998.4,2384.7 1003.5,2381.7 1008.5,2378.7 1013.5,2375.8 1018.5,2372.8 1023.6,2369.8 1028.6,2366.8 1033.6,2363.9 1038.6,2360.9 1043.6,2358 1048.6,2355 1053.6,2352.1 1058.5,2349.1 1063.5,2346.2 1068.5,2343.2 1073.5,2340.3 1078.4,2337.4 1083.4,2334.4 1088.3,2331.5 1093.2,2328.6 1098.2,2325.7 1103.1,2322.7 1108,2319.8 1113,2316.9 1117.9,2314 1122.8,2311.1 1127.7,2308.2 1132.6,2305.3 1137.5,2302.4 1142.4,2299.5 1147.2,2296.6 1152.1,2293.8 1157,2290.9 1161.8,2288 1166.7,2285.1 1171.6,2282.3 1176.4,2279.4 1181.2,2276.5 1186.1,2273.7 1190.9,2270.8 1195.7,2268 1200.6,2265.1 1205.4,2262.3 1210.2,2259.4 1215,2256.6 1219.8,2253.7 1224.6,2250.9 1229.4,2248.1 1234.2,2245.3 1238.9,2242.4 1243.7,2239.6 1248.5,2236.8 1253.2,2234 1258,2231.2 1262.8,2228.4 1267.5,2225.6 1272.2,2222.8 1277,2220 1281.7,2217.2 1286.4,2214.4 1291.2,2211.6 1295.9,2208.8 1300.6,2206 1305.3,2203.2 1310,2200.5 1273,2151.3 1268.3,2154.1 1263.6,2156.8 1258.8,2159.6 1254.1,2162.3 1249.4,2165.1 1244.6,2167.8 1239.9,2170.6 1235.2,2173.3 1230.4,2176.1 1225.6,2178.9 1220.9,2181.7 1216.1,2184.4 1211.3,2187.2 1206.6,2190 1201.8,2192.8 1197,2195.6 1192.2,2198.3 1187.4,2201.1 1182.6,2203.9 1177.8,2206.7 1173,2209.5 1168.1,2212.3 1163.3,2215.1 1158.5,2218 1153.6,2220.8 1148.8,2223.6 1144,2226.4 1139.1,2229.2 1134.2,2232.1 1129.4,2234.9 1124.5,2237.7 1119.6,2240.6 1114.8,2243.4 1109.9,2246.3 1105,2249.1 1100.1,2252 1095.2,2254.8 1090.3,2257.7 1085.4,2260.5 1080.4,2263.4 1075.5,2266.3 1070.6,2269.1 1065.7,2272 1060.7,2274.9 1055.8,2277.8 1050.8,2280.7 1045.9,2283.5 1040.9,2286.4 1035.9,2289.3 1030.9,2292.2 1026,2295.1 1021,2298 1016,2300.9 1011,2303.8 1006,2306.8 1001,2309.7 996,2312.6 991,2315.5 985.9,2318.5 980.9,2321.4 975.9,2324.3 970.8,2327.3 965.8,2330.2 960.7,2333.2 955.7,2336.1 950.6,2339.1 945.5,2342 940.5,2345 935.4,2347.9 930.3,2350.9 925.2,2353.9 920.1,2356.8 915,2359.8 909.9,2362.8 904.8,2365.8 899.6,2368.8 894.5,2371.8 889.4,2374.8 884.2,2377.8 879.1,2380.8 873.9,2383.8 868.8,2386.8 863.6,2389.8 858.4,2392.8 853.3,2395.8 848.1,2398.8 842.9,2401.9 837.7,2404.9 832.5,2407.9 827.3,2411 822.1,2414 816.9,2417.1 811.7,2420.1 806.4,2423.2 801.2,2426.2 795.9,2429.3 790.7,2432.3 785.4,2435.4 780.2,2438.5 774.9,2441.5 769.6,2444.6 764.4,2447.7 759.1,2450.8 753.8,2453.9 748.5,2457 743.2,2460.1 737.9,2463.2 732.6,2466.3 727.3,2469.4 721.9,2472.5 716.6,2475.6 711.2,2478.7 705.9,2481.8 700.6,2485 695.2,2488.1 689.8,2491.2 684.5,2494.4 679.1,2497.5 673.7,2500.6 668.3,2503.8" fill="#00f000" stroke="#00f000" stroke-width="0.8"/>
<polygon points="668.3,2503.8 673.7,2500.6 679.1,2497.5 684.5,2494.4 689.8,2491.2 695.2,2488.1 700.6,2485 705.9,2481.8 711.2,2478.7 716.6,2475.6 721.9,2472.5 727.3,2469.4 732.6,2466.3 737.9,2463.2 743.2,2460.1 748.5,2457 753.8,2453.9 759.1,2450.8 764.4,2447.7 769.6,2444.6 774.9,2441.5 780.2,2438.5 785.4,2435.4 790.7,2432.3 795.9,2429.3 801.2,2426.2 806.4,2423.2 811.7,2420.1 816.9,2417.1 822.1,2414 827.3,2411 832.5,2407.9 837.7,2404.9 842.9,2401.9 848.1,2398.8 853.3,2395.8 858.4,2392.8 863.6,2389.8 868.8,2386.8 873.9,2383.8 879.1,2380.8 884.2,2377.8 889.4,2374.8 894.5,2371.8 899.6,2368.8 904.8,2365.8 909.9,2362.8 915,2359.8 920.1,2356.8 925.2,2353.9 930.3,2350.9 935.4,2347.9 940.5,2345 945.5,2342 950.6,2339.1 955.7,2336.1 960.7,2333.2 965.8,2330.2 970.8,2327.3 975.9,2324.3 980.9,2321.4 985.9,2318.5 991,2315.5 996,2312.6 1001,2309.7 1006,2306.8 1011,2303.8 1016,2300.9 1021,2298 1026,2295.1 1030.9,2292.2 1035.9,2289.3 1040.9,2286.4 1045.9,2283.5 1050.8,2280.7 1055.8,2277.8 1060.7,2274.9 1065.7,2272 1070.6,2269.1 1075.5,2266.3 1080.4,2263.4 1085.4,2260.5 1090.3,2257.7 1095.2,2254.8 1100.1,2252 1105,2249.1 1109.9,2246.3 1114.8,2243.4 1119.6,2240.6 1124.5,2237.7 1129.4,2234.9 1134.2,2232.1 1139.1,2229.2 1144,2226.4 1148.8,2223.6 1153.6,2220.8 1158.5,2218 1163.3,2215.1 1168.1,2212.3 1173,2209.5 1177.8,2206.7 1182.6,2203.9 1187.4,2201.1 1192.2,2198.3 1197,2195.6 1201.8,2192.8 1206.6,2190 1211.3,2187.2 1216.1,2184.4 1220.9,2181.7 1225.6,2178.9 1230.4,2176.1 1235.2,2173.3 1239.9,2170.6 1244.6,2167.8 1249.4,2165.1 1254.1,2162.3 1258.8,2159.6 1263.6,2156.8 1268.3,2154.1 1273,2151.3 1236.2,2102.5 1231.5,2105.2 1226.7,2107.9 1222,2110.6 1217.3,2113.3 1212.5,2116 1207.8,2118.8 1203,2121.5 1198.3,2124.2 1193.5,2126.9 1188.7,2129.7 1184,2132.4 1179.2,2135.1 1174.4,2137.9 1169.6,2140.6 1164.8,2143.4 1160,2146.1 1155.2,2148.9 1150.4,2151.6 1145.6,2154.4 1140.8,2157.1 1135.9,2159.9 1131.1,2162.7 1126.3,2165.4 1121.4,2168.2 1116.6,2171 1111.7,2173.8 1106.9,2176.6 1102,2179.3 1097.1,2182.1 1092.2,2184.9 1087.4,2187.7 1082.5,2190.5 1077.6,2193.3 1072.7,2196.1 1067.8,2198.9 1062.9,2201.8 1058,2204.6 1053.1,2207.4 1048.1,2210.2 1043.2,2213 1038.3,2215.9 1033.3,2218.7 1028.4,2221.5 1023.4,2224.4 1018.5,2227.2 1013.5,2230.1 1008.5,2232.9 1003.6,2235.8 998.6,2238.6 993.6,2241.5 988.6,2244.4 983.6,2247.2 978.6,2250.1 973.6,2253 968.6,2255.8 963.6,2258.7 958.6,2261.6 953.5,2264.5 948.5,2267.4 943.5,2270.3 938.4,2273.2 933.4,2276.1 928.3,2279 923.2,2281.9 918.2,2284.8 913.1,2287.7 908,2290.6 902.9,2293.5 897.8,2296.4 892.7,2299.4 887.6,2302.3 882.5,2305.2 877.4,2308.2 872.3,2311.1 867.2,2314.1 862,2317 856.9,2320 851.7,2322.9 846.6,2325.9 841.4,2328.8 836.3,2331.8 831.1,2334.8 825.9,2337.7 820.8,2340.7 815.6,2343.7 810.4,2346.7 805.2,2349.7 800,2352.6 794.8,2355.6 789.5,2358.6 784.3,2361.6 779.1,2364.6 773.9,2367.6 768.6,2370.7 763.4,2373.7 758.1,2376.7 752.9,2379.7 747.6,2382.7 742.3,2385.8 737.1,2388.8 731.8,2391.8 726.5,2394.9 721.2,2397.9 715.9,2401 710.6,2404 705.3,2407.1 700,2410.1 694.6,2413.2 689.3,2416.2 684,2419.3 678.6,2422.4 673.3,2425.5 667.9,2428.5 662.6,2431.6 657.2,2434.7 651.8,2437.8 646.4,2440.9 641,2444 635.6,2447.1 630.2,2450.2" fill="#00ff00" stroke="#00ff00" stroke-width="0.8"/>
<polygon points="630.2,2450.2 635.6,2447.1 641,2444 646.4,2440.9 651.8,2437.8 657.2,2434.7 662.6,2431.6 667.9,2428.5 673.3,2425.5 678.6,2422.4 684,2419.3 689.3,2416.2 694.6,2413.2 700,2410.1 705.3,2407.1 710.6,2404 715.9,2401 721.2,2397.9 726.5,2394.9 731.8,2391.8 737.1,2388.8 742.3,2385.8 747.6,2382.7 752.9,2379.7 758.1,2376.7 763.4,2373.7 768.6,2370.7 773.9,2367.6 779.1,2364.6 784.3,2361.6 789.5,2358.6 794.8,2355.6 800,2352.6 805.2,2349.7 810.4,2346.7 815.6,2343.7 820.8,2340.7 825.9,2337.7 831.1,2334.8 836.3,2331.8 841.4,2328.8 846.6,2325.9 851.7,2322.9 856.9,2320 862,2317 867.2,2314.1 872.3,2311.1 877.4,2308.2 882.5,2305.2 887.6,2302.3 892.7,2299.4 897.8,2296.4 902.9,2293.5 908,2290.6 913.1,2287.7 918.2,2284.8 923.2,2281.9 928.3,2279 933.4,2276.1 938.4,2273.2 943.5,2270.3 948.5,2267.4 953.5,2264.5 958.6,2261.6 963.6,2258.7 968.6,2255.8 973.6,2253 978.6,2250.1 983.6,2247.2 988.6,2244.4 993.6,2241.5 998.6,2238.6 1003.6,2235.8 1008.5,2232.9 1013.5,2230.1 1018.5,2227.2 1023.4,2224.4 1028.4,2221.5 1033.3,2218.7 1038.3,2215.9 1043.2,2213 1048.1,2210.2 1053.1,2207.4 1058,2204.6 1062.9,2201.8 1067.8,2198.9 1072.7,2196.1 1077.6,2193.3 1082.5,2190.5 1087.4,2187.7 1092.2,2184.9 1097.1,2182.1 1102,2179.3 1106.9,2176.6 1111.7,2173.8 1116.6,2171 1121.4,2168.2 1126.3,2165.4 1131.1,2162.7 1135.9,2159.9 1140.8,2157.1 1145.6,2154.4 1150.4,2151.6 1155.2,2148.9 1160,2146.1 1164.8,2143.4 1169.6,2140.6 1174.4,2137.9 1179.2,2135.1 1184,2132.4 1188.7,2129.7 1193.5,2126.9 1198.3,2124.2 1203,2121.5 1207.8,2118.8 1212.5,2116 1217.3,2113.3 1222,2110.6 1226.7,2107.9 1231.5,2105.2 1236.2,2102.5 1199.6,2053.9 1194.8,2056.5 1190.1,2059.2 1185.3,2061.9 1180.6,2064.6 1175.8,2067.2 1171.1,2069.9 1166.3,2072.6 1161.6,2075.3 1156.8,2078 1152,2080.7 1147.2,2083.4 1142.4,2086.1 1137.6,2088.8 1132.8,2091.5 1128,2094.2 1123.2,2096.9 1118.4,2099.6 1113.6,2102.4 1108.8,2105.1 1103.9,2107.8 1099.1,2110.5 1094.2,2113.3 1089.4,2116 1084.5,2118.7 1079.7,2121.5 1074.8,2124.2 1070,2127 1065.1,2129.7 1060.2,2132.5 1055.3,2135.2 1050.4,2138 1045.5,2140.7 1040.6,2143.5 1035.7,2146.3 1030.8,2149.1 1025.9,2151.8 1021,2154.6 1016,2157.4 1011.1,2160.2 1006.2,2163 1001.2,2165.8 996.3,2168.5 991.3,2171.3 986.4,2174.1 981.4,2177 976.4,2179.8 971.4,2182.6 966.5,2185.4 961.5,2188.2 956.5,2191 951.5,2193.8 946.5,2196.7 941.5,2199.5 936.4,2202.3 931.4,2205.2 926.4,2208 921.3,2210.9 916.3,2213.7 911.3,2216.6 906.2,2219.4 901.2,2222.3 896.1,2225.1 891,2228 886,2230.9 880.9,2233.7 875.8,2236.6 870.7,2239.5 865.6,2242.4 860.5,2245.2 855.4,2248.1 850.3,2251 845.2,2253.9 840,2256.8 834.9,2259.7 829.8,2262.6 824.6,2265.5 819.5,2268.4 814.3,2271.3 809.2,2274.3 804,2277.2 798.8,2280.1 793.6,2283 788.5,2286 783.3,2288.9 778.1,2291.8 772.9,2294.8 767.7,2297.7 762.4,2300.7 757.2,2303.6 752,2306.6 746.8,2309.5 741.5,2312.5 736.3,2315.5 731,2318.4 725.8,2321.4 720.5,2324.4 715.3,2327.4 710,2330.4 704.7,2333.3 699.4,2336.3 694.1,2339.3 688.8,2342.3 683.5,2345.3 678.2,2348.3 672.9,2351.3 667.6,2354.4 662.2,2357.4 656.9,2360.4 651.6,2363.4 646.2,2366.4 640.9,2369.5 635.5,2372.5 630.1,2375.5 624.8,2378.6 619.4,2381.6 614,2384.7 608.6,2387.7 603.2,2390.8 597.8,2393.8 592.4,2396.9" fill="#b4ff00" stroke="#b4ff00" stroke-width="0.8"/>
<polygon points="592.4,2396.9 597.8,2393.8 603.2,2390.8 608.6,2387.7 614,2384.7 619.4,2381.6 624.8,2378.6 630.1,2375.5 635.5,2372.5 640.9,2369.5 646.2,2366.4 651.6,2363.4 656.9,2360.4 662.2,2357.4 667.6,2354.4 672.9,2351.3 678.2,2348.3 683.5,2345.3 688.8,2342.3 694.1,2339.3 699.4,2336.3 704.7,2333.3 710,2330.4 715.3,2327.4 720.5,2324.4 725.8,2321.4 731,2318.4 736.3,2315.5 741.5,2312.5 746.8,2309.5 752,2306.6 757.2,2303.6 762.4,2300.7 767.7,2297.7 772.9,2294.8 778.1,2291.8 783.3,2288.9 788.5,2286 793.6,2283 798.8,2280.1 804,2277.2 809.2,2274.3 814.3,2271.3 819.5,2268.4 824.6,2265.5 829.8,2262.6 834.9,2259.7 840,2256.8 845.2,2253.9 850.3,2251 855.4,2248.1 860.5,2245.2 865.6,2242.4 870.7,2239.5 875.8,2236.6 880.9,2233.7 886,2230.9 891,2228 896.1,2225.1 901.2,2222.3 906.2,2219.4 911.3,2216.6 916.3,2213.7 921.3,2210.9 926.4,2208 931.4,2205.2 936.4,2202.3 941.5,2199.5 946.5,2196.7 951.5,2193.8 956.5,2191 961.5,2188.2 966.5,2185.4 971.4,2182.6 976.4,2179.8 981.4,2177 986.4,2174.1 991.3,2171.3 996.3,2168.5 1001.2,2165.8 1006.2,2163 1011.1,2160.2 1016,2157.4 1021,2154.6 1025.9,2151.8 1030.8,2149.1 1035.7,2146.3 1040.6,2143.5 1045.5,2140.7 1050.4,2138 1055.3,2135.2 1060.2,2132.5 1065.1,2129.7 1070,2127 1074.8,2124.2 1079.7,2121.5 1084.5,2118.7 1089.4,2116 1094.2,2113.3 1099.1,2110.5 1103.9,2107.8 1108.8,2105.1 1113.6,2102.4 1118.4,2099.6 1123.2,2096.9 1128,2094.2 1132.8,2091.5 1137.6,2088.8 1142.4,2086.1 1147.2,2083.4 1152,2080.7 1156.8,2078 1161.6,2075.3 1166.3,2072.6 1171.1,2069.9 1175.8,2067.2 1180.6,2064.6 1185.3,2061.9 1190.1,2059.2 1194.8,2056.5 1199.6,2053.9 1163.1,2005.5 1158.4,2008.1 1153.6,2010.8 1148.9,2013.4 1144.1,2016.1 1139.4,2018.7 1134.6,2021.3 1129.8,2024 1125,2026.6 1120.3,2029.3 1115.5,2032 1110.7,2034.6 1105.9,2037.3 1101.1,2040 1096.3,2042.6 1091.4,2045.3 1086.6,2048 1081.8,2050.7 1077,2053.3 1072.1,2056 1067.3,2058.7 1062.4,2061.4 1057.6,2064.1 1052.7,2066.8 1047.9,2069.5 1043,2072.2 1038.1,2074.9 1033.2,2077.6 1028.4,2080.3 1023.5,2083.1 1018.6,2085.8 1013.7,2088.5 1008.8,2091.2 1003.9,2094 998.9,2096.7 994,2099.4 989.1,2102.2 984.2,2104.9 979.2,2107.6 974.3,2110.4 969.3,2113.1 964.4,2115.9 959.4,2118.7 954.4,2121.4 949.5,2124.2 944.5,2126.9 939.5,2129.7 934.5,2132.5 929.5,2135.3 924.5,2138 919.5,2140.8 914.5,2143.6 909.5,2146.4 904.5,2149.2 899.4,2152 894.4,2154.8 889.4,2157.6 884.3,2160.4 879.3,2163.2 874.2,2166 869.2,2168.8 864.1,2171.6 859,2174.5 854,2177.3 848.9,2180.1 843.8,2183 838.7,2185.8 833.6,2188.6 828.5,2191.5 823.4,2194.3 818.2,2197.2 813.1,2200 808,2202.9 802.9,2205.7 797.7,2208.6 792.6,2211.4 787.4,2214.3 782.3,2217.2 777.1,2220.1 771.9,2222.9 766.7,2225.8 761.6,2228.7 756.4,2231.6 751.2,2234.5 746,2237.4 740.8,2240.3 735.6,2243.2 730.3,2246.1 725.1,2249 719.9,2251.9 714.7,2254.8 709.4,2257.7 704.2,2260.7 698.9,2263.6 693.7,2266.5 688.4,2269.4 683.1,2272.4 677.8,2275.3 672.6,2278.3 667.3,2281.2 662,2284.2 656.7,2287.1 651.4,2290.1 646,2293 640.7,2296 635.4,2299 630.1,2301.9 624.7,2304.9 619.4,2307.9 614,2310.9 608.7,2313.9 603.3,2316.8 597.9,2319.8 592.6,2322.8 587.2,2325.8 581.8,2328.8 576.4,2331.8 571,2334.9 565.6,2337.9 560.2,2340.9 554.8,2343.9" fill="#f5ff00" stroke="#f5ff00" stroke-width="0.8"/>
<polygon points="554.8,2343.9 560.2,2340.9 565.6,2337.9 571,2334.9 576.4,2331.8 581.8,2328.8 587.2,2325.8 592.6,2322.8 597.9,2319.8 603.3,2316.8 608.7,2313.9 614,2310.9 619.4,2307.9 624.7,2304.9 630.1,2301.9 635.4,2299 640.7,2296 646,2293 651.4,2290.1 656.7,2287.1 662,2284.2 667.3,2281.2 672.6,2278.3 677.8,2275.3 683.1,2272.4 688.4,2269.4 693.7,2266.5 698.9,2263.6 704.2,2260.7 709.4,2257.7 714.7,2254.8 719.9,2251.9 725.1,2249 730.3,2246.1 735.6,2243.2 740.8,2240.3 746,2237.4 751.2,2234.5 756.4,2231.6 761.6,2228.7 766.7,2225.8 771.9,2222.9 777.1,2220.1 782.3,2217.2 787.4,2214.3 792.6,2211.4 797.7,2208.6 802.9,2205.7 808,2202.9 813.1,2200 818.2,2197.2 823.4,2194.3 828.5,2191.5 833.6,2188.6 838.7,2185.8 843.8,2183 848.9,2180.1 854,2177.3 859,2174.5 864.1,2171.6 869.2,2168.8 874.2,2166 879.3,2163.2 884.3,2160.4 889.4,2157.6 894.4,2154.8 899.4,2152 904.5,2149.2 909.5,2146.4 914.5,2143.6 919.5,2140.8 924.5,2138 929.5,2135.3 934.5,2132.5 939.5,2129.7 944.5,2126.9 949.5,2124.2 954.4,2121.4 959.4,2118.7 964.4,2115.9 969.3,2113.1 974.3,2110.4 979.2,2107.6 984.2,2104.9 989.1,2102.2 994,2099.4 998.9,2096.7 1003.9,2094 1008.8,2091.2 1013.7,2088.5 1018.6,2085.8 1023.5,2083.1 1028.4,2080.3 1033.2,2077.6 1038.1,2074.9 1043,2072.2 1047.9,2069.5 1052.7,2066.8 1057.6,2064.1 1062.4,2061.4 1067.3,2058.7 1072.1,2056 1077,2053.3 1081.8,2050.7 1086.6,2048 1091.4,2045.3 1096.3,2042.6 1101.1,2040 1105.9,2037.3 1110.7,2034.6 1115.5,2032 1120.3,2029.3 1125,2026.6 1129.8,2024 1134.6,2021.3 1139.4,2018.7 1144.1,2016.1 1148.9,2013.4 1153.6,2010.8 1158.4,2008.1 1163.1,2005.5 1126.9,1957.4 1122.1,1960 1117.4,1962.6 1112.6,1965.2 1107.8,1967.8 1103.1,1970.4 1098.3,1973 1093.5,1975.6 1088.7,1978.2 1083.9,1980.9 1079.1,1983.5 1074.3,1986.1 1069.5,1988.7 1064.7,1991.4 1059.9,1994 1055,1996.7 1050.2,1999.3 1045.4,2001.9 1040.5,2004.6 1035.7,2007.2 1030.8,2009.9 1026,2012.5 1021.1,2015.2 1016.2,2017.9 1011.4,2020.5 1006.5,2023.2 1001.6,2025.9 996.7,2028.5 991.8,2031.2 986.9,2033.9 982,2036.6 977.1,2039.3 972.2,2042 967.3,2044.6 962.3,2047.3 957.4,2050 952.5,2052.7 947.5,2055.4 942.6,2058.2 937.6,2060.9 932.7,2063.6 927.7,2066.3 922.7,2069 917.8,2071.7 912.8,2074.5 907.8,2077.2 902.8,2079.9 897.8,2082.7 892.8,2085.4 887.8,2088.1 882.8,2090.9 877.8,2093.6 872.7,2096.4 867.7,2099.1 862.7,2101.9 857.6,2104.7 852.6,2107.4 847.5,2110.2 842.5,2113 837.4,2115.7 832.3,2118.5 827.2,2121.3 822.2,2124.1 817.1,2126.9 812,2129.6 806.9,2132.4 801.8,2135.2 796.7,2138 791.5,2140.8 786.4,2143.6 781.3,2146.5 776.2,2149.3 771,2152.1 765.9,2154.9 760.7,2157.7 755.6,2160.6 750.4,2163.4 745.2,2166.2 740.1,2169 734.9,2171.9 729.7,2174.7 724.5,2177.6 719.3,2180.4 714.1,2183.3 708.9,2186.1 703.7,2189 698.5,2191.8 693.2,2194.7 688,2197.6 682.8,2200.5 677.5,2203.3 672.3,2206.2 667,2209.1 661.7,2212 656.5,2214.9 651.2,2217.8 645.9,2220.7 640.6,2223.6 635.3,2226.5 630,2229.4 624.7,2232.3 619.4,2235.2 614.1,2238.1 608.8,2241 603.4,2243.9 598.1,2246.9 592.8,2249.8 587.4,2252.7 582.1,2255.7 576.7,2258.6 571.3,2261.6 566,2264.5 560.6,2267.5 555.2,2270.4 549.8,2273.4 544.4,2276.3 539,2279.3 533.6,2282.3 528.2,2285.2 522.8,2288.2 517.3,2291.2" fill="#ffc800" stroke="#ffc800" stroke-width="0.8"/>
<polygon points="517.3,2291.2 522.8,2288.2 528.2,2285.2 533.6,2282.3 539,2279.3 544.4,2276.3 549.8,2273.4 555.2,2270.4 560.6,2267.5 566,2264.5 571.3,2261.6 576.7,2258.6 582.1,2255.7 587.4,2252.7 592.8,2249.8 598.1,2246.9 603.4,2243.9 608.8,2241 614.1,2238.1 619.4,2235.2 624.7,2232.3 630,2229.4 635.3,2226.5 640.6,2223.6 645.9,2220.7 651.2,2217.8 656.5,2214.9 661.7,2212 667,2209.1 672.3,2206.2 677.5,2203.3 682.8,2200.5 688,2197.6 693.2,2194.7 698.5,2191.8 703.7,2189 708.9,2186.1 714.1,2183.3 719.3,2180.4 724.5,2177.6 729.7,2174.7 734.9,2171.9 740.1,2169 745.2,2166.2 750.4,2163.4 755.6,2160.6 760.7,2157.7 765.9,2154.9 771,2152.1 776.2,2149.3 781.3,2146.5 786.4,2143.6 791.5,2140.8 796.7,2138 801.8,2135.2 806.9,2132.4 812,2129.6 817.1,2126.9 822.2,2124.1 827.2,2121.3 832.3,2118.5 837.4,2115.7 842.5,2113 847.5,2110.2 852.6,2107.4 857.6,2104.7 862.7,2101.9 867.7,2099.1 872.7,2096.4 877.8,2093.6 882.8,2090.9 887.8,2088.1 892.8,2085.4 897.8,2082.7 902.8,2079.9 907.8,2077.2 912.8,2074.5 917.8,2071.7 922.7,2069 927.7,2066.3 932.7,2063.6 937.6,2060.9 942.6,2058.2 947.5,2055.4 952.5,2052.7 957.4,2050 962.3,2047.3 967.3,2044.6 972.2,2042 977.1,2039.3 982,2036.6 986.9,2033.9 991.8,2031.2 996.7,2028.5 1001.6,2025.9 1006.5,2023.2 1011.4,2020.5 1016.2,2017.9 1021.1,2015.2 1026,2012.5 1030.8,2009.9 1035.7,2007.2 1040.5,2004.6 1045.4,2001.9 1050.2,1999.3 1055,1996.7 1059.9,1994 1064.7,1991.4 1069.5,1988.7 1074.3,1986.1 1079.1,1983.5 1083.9,1980.9 1088.7,1978.2 1093.5,1975.6 1098.3,1973 1103.1,1970.4 1107.8,1967.8 1112.6,1965.2 1117.4,1962.6 1122.1,1960 1126.9,1957.4 1090.8,1909.5 1086,1912.1 1081.3,1914.6 1076.5,1917.2 1071.7,1919.8 1066.9,1922.4 1062.2,1924.9 1057.4,1927.5 1052.6,1930.1 1047.8,1932.7 1042.9,1935.3 1038.1,1937.9 1033.3,1940.5 1028.5,1943.1 1023.7,1945.6 1018.8,1948.3 1014,1950.9 1009.1,1953.5 1004.3,1956.1 999.4,1958.7 994.6,1961.3 989.7,1963.9 984.8,1966.6 980,1969.2 975.1,1971.8 970.2,1974.4 965.3,1977.1 960.4,1979.7 955.5,1982.4 950.6,1985 945.7,1987.6 940.7,1990.3 935.8,1992.9 930.9,1995.6 925.9,1998.3 921,2000.9 916.1,2003.6 911.1,2006.3 906.1,2008.9 901.2,2011.6 896.2,2014.3 891.2,2017 886.3,2019.6 881.3,2022.3 876.3,2025 871.3,2027.7 866.3,2030.4 861.3,2033.1 856.3,2035.8 851.2,2038.5 846.2,2041.2 841.2,2043.9 836.1,2046.6 831.1,2049.4 826.1,2052.1 821,2054.8 815.9,2057.5 810.9,2060.3 805.8,2063 800.7,2065.7 795.7,2068.5 790.6,2071.2 785.5,2073.9 780.4,2076.7 775.3,2079.4 770.2,2082.2 765.1,2085 759.9,2087.7 754.8,2090.5 749.7,2093.3 744.5,2096 739.4,2098.8 734.2,2101.6 729.1,2104.4 723.9,2107.1 718.8,2109.9 713.6,2112.7 708.4,2115.5 703.2,2118.3 698,2121.1 692.8,2123.9 687.6,2126.7 682.4,2129.5 677.2,2132.3 672,2135.2 666.8,2138 661.6,2140.8 656.3,2143.6 651.1,2146.5 645.8,2149.3 640.6,2152.1 635.3,2155 630,2157.8 624.8,2160.6 619.5,2163.5 614.2,2166.4 608.9,2169.2 603.6,2172.1 598.3,2174.9 593,2177.8 587.7,2180.7 582.4,2183.5 577,2186.4 571.7,2189.3 566.4,2192.2 561,2195.1 555.7,2198 550.3,2200.8 545,2203.7 539.6,2206.6 534.2,2209.5 528.8,2212.5 523.4,2215.4 518,2218.3 512.6,2221.2 507.2,2224.1 501.8,2227 496.4,2230 491,2232.9 485.5,2235.8 480.1,2238.8" fill="#ff8200" stroke="#ff8200" stroke-width="0.8"/>
<polygon points="480.1,2238.8 485.5,2235.8 491,2232.9 496.4,2230 501.8,2227 507.2,2224.1 512.6,2221.2 518,2218.3 523.4,2215.4 528.8,2212.5 534.2,2209.5 539.6,2206.6 545,2203.7 550.3,2200.8 555.7,2198 561,2195.1 566.4,2192.2 571.7,2189.3 577,2186.4 582.4,2183.5 587.7,2180.7 593,2177.8 598.3,2174.9 603.6,2172.1 608.9,2169.2 614.2,2166.4 619.5,2163.5 624.8,2160.6 630,2157.8 635.3,2155 640.6,2152.1 645.8,2149.3 651.1,2146.5 656.3,2143.6 661.6,2140.8 666.8,2138 672,2135.2 677.2,2132.3 682.4,2129.5 687.6,2126.7 692.8,2123.9 698,2121.1 703.2,2118.3 708.4,2115.5 713.6,2112.7 718.8,2109.9 723.9,2107.1 729.1,2104.4 734.2,2101.6 739.4,2098.8 744.5,2096 749.7,2093.3 754.8,2090.5 759.9,2087.7 765.1,2085 770.2,2082.2 775.3,2079.4 780.4,2076.7 785.5,2073.9 790.6,2071.2 795.7,2068.5 800.7,2065.7 805.8,2063 810.9,2060.3 815.9,2057.5 821,2054.8 826.1,2052.1 831.1,2049.4 836.1,2046.6 841.2,2043.9 846.2,2041.2 851.2,2038.5 856.3,2035.8 861.3,2033.1 866.3,2030.4 871.3,2027.7 876.3,2025 881.3,2022.3 886.3,2019.6 891.2,2017 896.2,2014.3 901.2,2011.6 906.1,2008.9 911.1,2006.3 916.1,2003.6 921,2000.9 925.9,1998.3 930.9,1995.6 935.8,1992.9 940.7,1990.3 945.7,1987.6 950.6,1985 955.5,1982.4 960.4,1979.7 965.3,1977.1 970.2,1974.4 975.1,1971.8 980,1969.2 984.8,1966.6 989.7,1963.9 994.6,1961.3 999.4,1958.7 1004.3,1956.1 1009.1,1953.5 1014,1950.9 1018.8,1948.3 1023.7,1945.6 1028.5,1943.1 1033.3,1940.5 1038.1,1937.9 1042.9,1935.3 1047.8,1932.7 1052.6,1930.1 1057.4,1927.5 1062.2,1924.9 1066.9,1922.4 1071.7,1919.8 1076.5,1917.2 1081.3,1914.6 1086,1912.1 1090.8,1909.5 1054.9,1861.9 1050.2,1864.4 1045.4,1866.9 1040.6,1869.5 1035.8,1872 1031,1874.6 1026.2,1877.1 1021.4,1879.6 1016.6,1882.2 1011.8,1884.7 1007,1887.3 1002.1,1889.8 997.3,1892.4 992.5,1895 987.6,1897.5 982.8,1900.1 977.9,1902.7 973.1,1905.2 968.2,1907.8 963.4,1910.4 958.5,1913 953.6,1915.6 948.7,1918.1 943.8,1920.7 939,1923.3 934.1,1925.9 929.1,1928.5 924.2,1931.1 919.3,1933.7 914.4,1936.3 909.5,1939 904.6,1941.6 899.6,1944.2 894.7,1946.8 889.7,1949.4 884.8,1952.1 879.8,1954.7 874.9,1957.3 869.9,1959.9 864.9,1962.6 859.9,1965.2 855,1967.9 850,1970.5 845,1973.2 840,1975.8 835,1978.5 829.9,1981.1 824.9,1983.8 819.9,1986.5 814.9,1989.1 809.8,1991.8 804.8,1994.5 799.8,1997.1 794.7,1999.8 789.7,2002.5 784.6,2005.2 779.5,2007.9 774.5,2010.6 769.4,2013.3 764.3,2016 759.2,2018.7 754.1,2021.4 749,2024.1 743.9,2026.8 738.8,2029.5 733.7,2032.2 728.5,2034.9 723.4,2037.7 718.3,2040.4 713.1,2043.1 708,2045.9 702.8,2048.6 697.7,2051.3 692.5,2054.1 687.3,2056.8 682.2,2059.6 677,2062.3 671.8,2065.1 666.6,2067.8 661.4,2070.6 656.2,2073.4 651,2076.1 645.8,2078.9 640.5,2081.7 635.3,2084.5 630.1,2087.2 624.8,2090 619.6,2092.8 614.3,2095.6 609.1,2098.4 603.8,2101.2 598.6,2104 593.3,2106.8 588,2109.6 582.7,2112.4 577.4,2115.2 572.1,2118 566.8,2120.9 561.5,2123.7 556.2,2126.5 550.9,2129.3 545.5,2132.2 540.2,2135 534.8,2137.8 529.5,2140.7 524.1,2143.5 518.8,2146.4 513.4,2149.2 508,2152.1 502.7,2155 497.3,2157.8 491.9,2160.7 486.5,2163.6 481.1,2166.4 475.7,2169.3 470.3,2172.2 464.8,2175.1 459.4,2178 454,2180.9 448.5,2183.7 443.1,2186.6" fill="#ff3c00" stroke="#ff3c00" stroke-width="0.8"/>
<polygon points="443.1,2186.6 448.5,2183.7 454,2180.9 459.4,2178 464.8,2175.1 470.3,2172.2 475.7,2169.3 481.1,2166.4 486.5,2163.6 491.9,2160.7 497.3,2157.8 502.7,2155 508,2152.1 513.4,2149.2 518.8,2146.4 524.1,2143.5 529.5,2140.7 534.8,2137.8 540.2,2135 545.5,2132.2 550.9,2129.3 556.2,2126.5 561.5,2123.7 566.8,2120.9 572.1,2118 577.4,2115.2 582.7,2112.4 588,2109.6 593.3,2106.8 598.6,2104 603.8,2101.2 609.1,2098.4 614.3,2095.6 619.6,2092.8 624.8,2090 630.1,2087.2 635.3,2084.5 640.5,2081.7 645.8,2078.9 651,2076.1 656.2,2073.4 661.4,2070.6 666.6,2067.8 671.8,2065.1 677,2062.3 682.2,2059.6 687.3,2056.8 692.5,2054.1 697.7,2051.3 702.8,2048.6 708,2045.9 713.1,2043.1 718.3,2040.4 723.4,2037.7 728.5,2034.9 733.7,2032.2 738.8,2029.5 743.9,2026.8 749,2024.1 754.1,2021.4 759.2,2018.7 764.3,2016 769.4,2013.3 774.5,2010.6 779.5,2007.9 784.6,2005.2 789.7,2002.5 794.7,1999.8 799.8,1997.1 804.8,1994.5 809.8,1991.8 814.9,1989.1 819.9,1986.5 824.9,1983.8 829.9,1981.1 835,1978.5 840,1975.8 845,1973.2 850,1970.5 855,1967.9 859.9,1965.2 864.9,1962.6 869.9,1959.9 874.9,1957.3 879.8,1954.7 884.8,1952.1 889.7,1949.4 894.7,1946.8 899.6,1944.2 904.6,1941.6 909.5,1939 914.4,1936.3 919.3,1933.7 924.2,1931.1 929.1,1928.5 934.1,1925.9 939,1923.3 943.8,1920.7 948.7,1918.1 953.6,1915.6 958.5,1913 963.4,1910.4 968.2,1907.8 973.1,1905.2 977.9,1902.7 982.8,1900.1 987.6,1897.5 992.5,1895 997.3,1892.4 1002.1,1889.8 1007,1887.3 1011.8,1884.7 1016.6,1882.2 1021.4,1879.6 1026.2,1877.1 1031,1874.6 1035.8,1872 1040.6,1869.5 1045.4,1866.9 1050.2,1864.4 1054.9,1861.9 1019.2,1814.5 1014.4,1817 1009.7,1819.5 1004.9,1822 1000.1,1824.5 995.3,1827 990.5,1829.5 985.6,1832 980.8,1834.5 976,1837 971.2,1839.6 966.3,1842.1 961.5,1844.6 956.7,1847.1 951.8,1849.7 946.9,1852.2 942.1,1854.7 937.2,1857.3 932.4,1859.8 927.5,1862.3 922.6,1864.9 917.7,1867.4 912.8,1870 907.9,1872.6 903,1875.1 898.1,1877.7 893.2,1880.2 888.3,1882.8 883.4,1885.4 878.4,1887.9 873.5,1890.5 868.6,1893.1 863.6,1895.7 858.7,1898.3 853.7,1900.8 848.7,1903.4 843.8,1906 838.8,1908.6 833.8,1911.2 828.8,1913.8 823.9,1916.4 818.9,1919 813.9,1921.6 808.9,1924.3 803.8,1926.9 798.8,1929.5 793.8,1932.1 788.8,1934.7 783.7,1937.4 778.7,1940 773.7,1942.6 768.6,1945.3 763.6,1947.9 758.5,1950.6 753.4,1953.2 748.4,1955.9 743.3,1958.5 738.2,1961.2 733.1,1963.8 728,1966.5 722.9,1969.1 717.8,1971.8 712.7,1974.5 707.6,1977.2 702.5,1979.8 697.3,1982.5 692.2,1985.2 687.1,1987.9 681.9,1990.6 676.8,1993.3 671.6,1996 666.5,1998.7 661.3,2001.4 656.1,2004.1 650.9,2006.8 645.8,2009.5 640.6,2012.2 635.4,2014.9 630.2,2017.6 625,2020.4 619.7,2023.1 614.5,2025.8 609.3,2028.5 604.1,2031.3 598.8,2034 593.6,2036.8 588.3,2039.5 583.1,2042.3 577.8,2045 572.5,2047.8 567.3,2050.5 562,2053.3 556.7,2056 551.4,2058.8 546.1,2061.6 540.8,2064.4 535.5,2067.1 530.2,2069.9 524.9,2072.7 519.5,2075.5 514.2,2078.3 508.9,2081.1 503.5,2083.9 498.2,2086.7 492.8,2089.5 487.5,2092.3 482.1,2095.1 476.7,2097.9 471.3,2100.7 465.9,2103.5 460.5,2106.4 455.1,2109.2 449.7,2112 444.3,2114.9 438.9,2117.7 433.5,2120.5 428.1,2123.4 422.6,2126.2 417.2,2129.1 411.7,2131.9 406.3,2134.8" fill="#ff0000" stroke="#ff0000" stroke-width="0.8"/>
<polygon points="406.3,2134.8 411.7,2131.9 417.2,2129.1 422.6,2126.2 428.1,2123.4 433.5,2120.5 438.9,2117.7 444.3,2114.9 449.7,2112 455.1,2109.2 460.5,2106.4 465.9,2103.5 471.3,2100.7 476.7,2097.9 482.1,2095.1 487.5,2092.3 492.8,2089.5 498.2,2086.7 503.5,2083.9 508.9,2081.1 514.2,2078.3 519.5,2075.5 524.9,2072.7 530.2,2069.9 535.5,2067.1 540.8,2064.4 546.1,2061.6 551.4,2058.8 556.7,2056 562,2053.3 567.3,2050.5 572.5,2047.8 577.8,2045 583.1,2042.3 588.3,2039.5 593.6,2036.8 598.8,2034 604.1,2031.3 609.3,2028.5 614.5,2025.8 619.7,2023.1 625,2020.4 630.2,2017.6 635.4,2014.9 640.6,2012.2 645.8,2009.5 650.9,2006.8 656.1,2004.1 661.3,2001.4 666.5,1998.7 671.6,1996 676.8,1993.3 681.9,1990.6 687.1,1987.9 692.2,1985.2 697.3,1982.5 702.5,1979.8 707.6,1977.2 712.7,1974.5 717.8,1971.8 722.9,1969.1 728,1966.5 733.1,1963.8 738.2,1961.2 743.3,1958.5 748.4,1955.9 753.4,1953.2 758.5,1950.6 763.6,1947.9 768.6,1945.3 773.7,1942.6 778.7,1940 783.7,1937.4 788.8,1934.7 793.8,1932.1 798.8,1929.5 803.8,1926.9 808.9,1924.3 813.9,1921.6 818.9,1919 823.9,1916.4 828.8,1913.8 833.8,1911.2 838.8,1908.6 843.8,1906 848.7,1903.4 853.7,1900.8 858.7,1898.3 863.6,1895.7 868.6,1893.1 873.5,1890.5 878.4,1887.9 883.4,1885.4 888.3,1882.8 893.2,1880.2 898.1,1877.7 903,1875.1 907.9,1872.6 912.8,1870 917.7,1867.4 922.6,1864.9 927.5,1862.3 932.4,1859.8 937.2,1857.3 942.1,1854.7 946.9,1852.2 951.8,1849.7 956.7,1847.1 961.5,1844.6 966.3,1842.1 971.2,1839.6 976,1837 980.8,1834.5 985.6,1832 990.5,1829.5 995.3,1827 1000.1,1824.5 1004.9,1822 1009.7,1819.5 1014.4,1817 1019.2,1814.5 983.7,1767.4 978.9,1769.8 974.1,1772.3 969.3,1774.7 964.5,1777.2 959.7,1779.7 954.9,1782.1 950.1,1784.6 945.2,1787.1 940.4,1789.6 935.6,1792.1 930.7,1794.6 925.9,1797 921,1799.5 916.1,1802 911.3,1804.5 906.4,1807 901.5,1809.5 896.7,1812 891.8,1814.5 886.9,1817.1 882,1819.6 877.1,1822.1 872.2,1824.6 867.3,1827.1 862.4,1829.7 857.4,1832.2 852.5,1834.7 847.6,1837.3 842.6,1839.8 837.7,1842.3 832.7,1844.9 827.8,1847.4 822.8,1850 817.9,1852.5 812.9,1855.1 807.9,1857.6 802.9,1860.2 797.9,1862.8 793,1865.3 788,1867.9 783,1870.5 777.9,1873 772.9,1875.6 767.9,1878.2 762.9,1880.8 757.9,1883.4 752.8,1886 747.8,1888.5 742.7,1891.1 737.7,1893.7 732.6,1896.3 727.6,1898.9 722.5,1901.5 717.4,1904.2 712.3,1906.8 707.2,1909.4 702.2,1912 697.1,1914.6 692,1917.3 686.8,1919.9 681.7,1922.5 676.6,1925.1 671.5,1927.8 666.4,1930.4 661.2,1933.1 656.1,1935.7 650.9,1938.4 645.8,1941 640.6,1943.7 635.4,1946.3 630.3,1949 625.1,1951.6 619.9,1954.3 614.7,1957 609.5,1959.7 604.3,1962.3 599.1,1965 593.9,1967.7 588.7,1970.4 583.5,1973.1 578.2,1975.8 573,1978.5 567.8,1981.2 562.5,1983.9 557.3,1986.6 552,1989.3 546.7,1992 541.5,1994.7 536.2,1997.4 530.9,2000.1 525.6,2002.9 520.3,2005.6 515,2008.3 509.7,2011 504.4,2013.8 499.1,2016.5 493.8,2019.3 488.4,2022 483.1,2024.8 477.8,2027.5 472.4,2030.3 467.1,2033 461.7,2035.8 456.3,2038.5 451,2041.3 445.6,2044.1 440.2,2046.9 434.8,2049.6 429.4,2052.4 424,2055.2 418.6,2058 413.2,2060.8 407.8,2063.6 402.3,2066.4 396.9,2069.2 391.5,2072 386,2074.8 380.6,2077.6 375.1,2080.4 369.6,2083.2" fill="#f00000" stroke="#f00000" stroke-width="0.8"/>
<polygon points="369.6,2083.2 375.1,2080.4 380.6,2077.6 386,2074.8 391.5,2072 396.9,2069.2 402.3,2066.4 407.8,2063.6 413.2,2060.8 418.6,2058 424,2055.2 429.4,2052.4 434.8,2049.6 440.2,2046.9 445.6,2044.1 451,2041.3 456.3,2038.5 461.7,2035.8 467.1,2033 472.4,2030.3 477.8,2027.5 483.1,2024.8 488.4,2022 493.8,2019.3 499.1,2016.5 504.4,2013.8 509.7,2011 515,2008.3 520.3,2005.6 525.6,2002.9 530.9,2000.1 536.2,1997.4 541.5,1994.7 546.7,1992 552,1989.3 557.3,1986.6 562.5,1983.9 567.8,1981.2 573,1978.5 578.2,1975.8 583.5,1973.1 588.7,1970.4 593.9,1967.7 599.1,1965 604.3,1962.3 609.5,1959.7 614.7,1957 619.9,1954.3 625.1,1951.6 630.3,1949 635.4,1946.3 640.6,1943.7 645.8,1941 650.9,1938.4 656.1,1935.7 661.2,1933.1 666.4,1930.4 671.5,1927.8 676.6,1925.1 681.7,1922.5 686.8,1919.9 692,1917.3 697.1,1914.6 702.2,1912 707.2,1909.4 712.3,1906.8 717.4,1904.2 722.5,1901.5 727.6,1898.9 732.6,1896.3 737.7,1893.7 742.7,1891.1 747.8,1888.5 752.8,1886 757.9,1883.4 762.9,1880.8 767.9,1878.2 772.9,1875.6 777.9,1873 783,1870.5 788,1867.9 793,1865.3 797.9,1862.8 802.9,1860.2 807.9,1857.6 812.9,1855.1 817.9,1852.5 822.8,1850 827.8,1847.4 832.7,1844.9 837.7,1842.3 842.6,1839.8 847.6,1837.3 852.5,1834.7 857.4,1832.2 862.4,1829.7 867.3,1827.1 872.2,1824.6 877.1,1822.1 882,1819.6 886.9,1817.1 891.8,1814.5 896.7,1812 901.5,1809.5 906.4,1807 911.3,1804.5 916.1,1802 921,1799.5 925.9,1797 930.7,1794.6 935.6,1792.1 940.4,1789.6 945.2,1787.1 950.1,1784.6 954.9,1782.1 959.7,1779.7 964.5,1777.2 969.3,1774.7 974.1,1772.3 978.9,1769.8 983.7,1767.4 948.4,1720.4 943.6,1722.9 938.8,1725.3 933.9,1727.7 929.1,1730.2 924.3,1732.6 919.5,1735 914.6,1737.5 909.8,1739.9 905,1742.4 900.1,1744.8 895.3,1747.3 890.4,1749.7 885.5,1752.2 880.7,1754.6 875.8,1757.1 870.9,1759.6 866,1762 861.2,1764.5 856.3,1767 851.4,1769.5 846.5,1771.9 841.5,1774.4 836.6,1776.9 831.7,1779.4 826.8,1781.9 821.8,1784.4 816.9,1786.9 812,1789.4 807,1791.9 802.1,1794.4 797.1,1796.9 792.1,1799.4 787.2,1801.9 782.2,1804.4 777.2,1807 772.2,1809.5 767.2,1812 762.3,1814.5 757.2,1817.1 752.2,1819.6 747.2,1822.1 742.2,1824.7 737.2,1827.2 732.2,1829.8 727.1,1832.3 722.1,1834.9 717,1837.4 712,1840 706.9,1842.5 701.9,1845.1 696.8,1847.7 691.7,1850.2 686.7,1852.8 681.6,1855.4 676.5,1857.9 671.4,1860.5 666.3,1863.1 661.2,1865.7 656.1,1868.3 650.9,1870.9 645.8,1873.5 640.7,1876.1 635.6,1878.7 630.4,1881.3 625.3,1883.9 620.1,1886.5 615,1889.1 609.8,1891.7 604.6,1894.3 599.5,1896.9 594.3,1899.6 589.1,1902.2 583.9,1904.8 578.7,1907.5 573.5,1910.1 568.3,1912.7 563.1,1915.4 557.9,1918 552.6,1920.7 547.4,1923.3 542.2,1926 536.9,1928.6 531.7,1931.3 526.4,1934 521.2,1936.6 515.9,1939.3 510.6,1942 505.3,1944.6 500,1947.3 494.8,1950 489.5,1952.7 484.2,1955.4 478.8,1958.1 473.5,1960.8 468.2,1963.5 462.9,1966.2 457.6,1968.9 452.2,1971.6 446.9,1974.3 441.5,1977 436.2,1979.7 430.8,1982.4 425.4,1985.2 420.1,1987.9 414.7,1990.6 409.3,1993.3 403.9,1996.1 398.5,1998.8 393.1,2001.6 387.7,2004.3 382.3,2007.1 376.8,2009.8 371.4,2012.6 366,2015.3 360.5,2018.1 355.1,2020.8 349.6,2023.6 344.2,2026.4 338.7,2029.2 333.2,2031.9" fill="#dc0000" stroke="#dc0000" stroke-width="0.8"/>
<polygon points="333.2,2031.9 338.7,2029.2 344.2,2026.4 349.6,2023.6 355.1,2020.8 360.5,2018.1 366,2015.3 371.4,2012.6 376.8,2009.8 382.3,2007.1 387.7,2004.3 393.1,2001.6 398.5,1998.8 403.9,1996.1 409.3,1993.3 414.7,1990.6 420.1,1987.9 425.4,1985.2 430.8,1982.4 436.2,1979.7 441.5,1977 446.9,1974.3 452.2,1971.6 457.6,1968.9 462.9,1966.2 468.2,1963.5 473.5,1960.8 478.8,1958.1 484.2,1955.4 489.5,1952.7 494.8,1950 500,1947.3 505.3,1944.6 510.6,1942 515.9,1939.3 521.2,1936.6 526.4,1934 531.7,1931.3 536.9,1928.6 542.2,1926 547.4,1923.3 552.6,1920.7 557.9,1918 563.1,1915.4 568.3,1912.7 573.5,1910.1 578.7,1907.5 583.9,1904.8 589.1,1902.2 594.3,1899.6 599.5,1896.9 604.6,1894.3 609.8,1891.7 615,1889.1 620.1,1886.5 625.3,1883.9 630.4,1881.3 635.6,1878.7 640.7,1876.1 645.8,1873.5 650.9,1870.9 656.1,1868.3 661.2,1865.7 666.3,1863.1 671.4,1860.5 676.5,1857.9 681.6,1855.4 686.7,1852.8 691.7,1850.2 696.8,1847.7 701.9,1845.1 706.9,1842.5 712,1840 717,1837.4 722.1,1834.9 727.1,1832.3 732.2,1829.8 737.2,1827.2 742.2,1824.7 747.2,1822.1 752.2,1819.6 757.2,1817.1 762.3,1814.5 767.2,1812 772.2,1809.5 777.2,1807 782.2,1804.4 787.2,1801.9 792.1,1799.4 797.1,1796.9 802.1,1794.4 807,1791.9 812,1789.4 816.9,1786.9 821.8,1784.4 826.8,1781.9 831.7,1779.4 836.6,1776.9 841.5,1774.4 846.5,1771.9 851.4,1769.5 856.3,1767 861.2,1764.5 866,1762 870.9,1759.6 875.8,1757.1 880.7,1754.6 885.5,1752.2 890.4,1749.7 895.3,1747.3 900.1,1744.8 905,1742.4 909.8,1739.9 914.6,1737.5 919.5,1735 924.3,1732.6 929.1,1730.2 933.9,1727.7 938.8,1725.3 943.6,1722.9 948.4,1720.4 929,1694.7 923.7,1696.5 918.4,1698.2 913.1,1700 907.7,1701.7 902.4,1703.4 897.1,1705.2 891.7,1706.9 886.4,1708.7 881,1710.4 875.7,1712.2 870.3,1713.9 864.9,1715.7 859.5,1717.5 854.2,1719.2 848.8,1721 843.4,1722.8 838,1724.5 832.6,1726.3 827.2,1728.1 821.8,1729.8 816.4,1731.6 810.9,1733.4 805.5,1735.2 800.1,1736.9 794.6,1738.7 789.2,1740.5 783.7,1742.3 778.3,1744.1 772.8,1745.9 767.3,1747.6 761.9,1749.4 756.7,1751.6 751.7,1754.1 746.7,1756.6 741.7,1759.1 736.7,1761.6 731.7,1764.1 726.7,1766.6 721.7,1769.1 716.7,1771.6 711.7,1774.1 706.7,1776.6 701.6,1779.1 696.6,1781.6 691.6,1784.1 686.5,1786.6 681.5,1789.1 676.4,1791.6 671.3,1794.2 666.3,1796.7 661.2,1799.2 656.1,1801.8 651,1804.3 645.9,1806.8 640.8,1809.4 635.7,1811.9 630.6,1814.5 625.5,1817 620.4,1819.6 615.2,1822.1 610.1,1824.7 605,1827.2 599.8,1829.8 594.7,1832.4 589.5,1834.9 584.4,1837.5 579.2,1840.1 574,1842.7 568.9,1845.2 563.7,1847.8 558.5,1850.4 553.3,1853 548.1,1855.6 542.9,1858.2 537.7,1860.8 532.4,1863.4 527.2,1866 522,1868.6 516.8,1871.2 511.5,1873.8 506.3,1876.5 501,1879.1 495.8,1881.7 490.5,1884.3 485.2,1887 480,1889.6 474.7,1892.2 469.4,1894.9 464.1,1897.5 458.8,1900.1 453.5,1902.8 448.2,1905.4 442.9,1908.1 437.5,1910.8 432.2,1913.4 426.9,1916.1 421.5,1918.7 416.2,1921.4 410.8,1924.1 405.5,1926.8 400.1,1929.4 394.7,1932.1 389.4,1934.8 384,1937.5 378.6,1940.2 373.2,1942.9 367.8,1945.6 362.4,1948.3 357,1951 351.5,1953.7 346.1,1956.4 340.7,1959.1 335.2,1961.8 329.8,1964.5 324.4,1967.3 318.9,1970 313.4,1972.7 308,1975.5 302.5,1978.2 297,1980.9" fill="#c80000" stroke="#c80000" stroke-width="0.8"/>
<polygon points="297,1980.9 302.5,1978.2 308,1975.5 313.4,1972.7 318.9,1970 324.4,1967.3 329.8,1964.5 335.2,1961.8 340.7,1959.1 346.1,1956.4 351.5,1953.7 357,1951 362.4,1948.3 367.8,1945.6 373.2,1942.9 378.6,1940.2 384,1937.5 389.4,1934.8 394.7,1932.1 400.1,1929.4 405.5,1926.8 410.8,1924.1 416.2,1921.4 421.5,1918.7 426.9,1916.1 432.2,1913.4 437.5,1910.8 442.9,1908.1 448.2,1905.4 453.5,1902.8 458.8,1900.1 464.1,1897.5 469.4,1894.9 474.7,1892.2 480,1889.6 485.2,1887 490.5,1884.3 495.8,1881.7 501,1879.1 506.3,1876.5 511.5,1873.8 516.8,1871.2 522,1868.6 527.2,1866 532.4,1863.4 537.7,1860.8 542.9,1858.2 548.1,1855.6 553.3,1853 558.5,1850.4 563.7,1847.8 568.9,1845.2 574,1842.7 579.2,1840.1 584.4,1837.5 589.5,1834.9 594.7,1832.4 599.8,1829.8 605,1827.2 610.1,1824.7 615.2,1822.1 620.4,1819.6 625.5,1817 630.6,1814.5 635.7,1811.9 640.8,1809.4 645.9,1806.8 651,1804.3 656.1,1801.8 661.2,1799.2 666.3,1796.7 671.3,1794.2 676.4,1791.6 681.5,1789.1 686.5,1786.6 691.6,1784.1 696.6,1781.6 701.6,1779.1 706.7,1776.6 711.7,1774.1 716.7,1771.6 721.7,1769.1 726.7,1766.6 731.7,1764.1 736.7,1761.6 741.7,1759.1 746.7,1756.6 751.7,1754.1 756.7,1751.6 761.9,1749.4 767.3,1747.6 772.8,1745.9 778.3,1744.1 783.7,1742.3 789.2,1740.5 794.6,1738.7 800.1,1736.9 805.5,1735.2 810.9,1733.4 816.4,1731.6 821.8,1729.8 827.2,1728.1 832.6,1726.3 838,1724.5 843.4,1722.8 848.8,1721 854.2,1719.2 859.5,1717.5 864.9,1715.7 870.3,1713.9 875.7,1712.2 881,1710.4 886.4,1708.7 891.7,1706.9 897.1,1705.2 902.4,1703.4 907.7,1701.7 913.1,1700 918.4,1698.2 923.7,1696.5 929,1694.7 923.7,1696.5 918.4,1698.2 913.1,1700 907.7,1701.7 902.4,1703.4 897.1,1705.2 891.7,1706.9 886.4,1708.7 881,1710.4 875.7,1712.2 870.3,1713.9 864.9,1715.7 859.5,1717.5 854.2,1719.2 848.8,1721 843.4,1722.8 838,1724.5 832.6,1726.3 827.2,1728.1 821.8,1729.8 816.4,1731.6 810.9,1733.4 805.5,1735.2 800.1,1736.9 794.6,1738.7 789.2,1740.5 783.7,1742.3 778.3,1744.1 772.8,1745.9 767.3,1747.6 761.9,1749.4 756.4,1751.2 750.9,1753 745.4,1754.8 739.9,1756.6 734.4,1758.4 728.9,1760.2 723.4,1762 717.9,1763.8 712.3,1765.6 706.8,1767.5 701.3,1769.3 695.7,1771.1 690.2,1772.9 684.6,1774.7 679.1,1776.5 673.5,1778.4 667.9,1780.2 662.4,1782 656.8,1783.8 651.2,1785.7 645.6,1787.5 640,1789.3 634.4,1791.2 628.8,1793 623.2,1794.8 617.6,1796.7 611.9,1798.5 606.3,1800.4 600.7,1802.2 595,1804 589.4,1805.9 583.7,1807.7 578,1809.6 572.4,1811.5 566.7,1813.3 561,1815.2 555.3,1817 549.6,1818.9 543.9,1820.8 538.2,1822.6 532.5,1824.5 526.8,1826.4 521.1,1828.2 515.4,1830.1 509.6,1832 503.9,1833.9 498.1,1835.8 492.4,1837.6 486.6,1839.5 480.9,1841.4 475.1,1843.3 469.3,1845.2 463.5,1847.1 457.8,1849 452,1850.9 446.2,1852.8 440.4,1854.7 434.5,1856.6 428.7,1858.5 422.9,1860.4 417.1,1862.3 411.2,1864.2 405.4,1866.1 399.5,1868 393.7,1869.9 387.8,1871.9 382,1873.8 376.1,1875.7 370.2,1877.6 364.3,1879.6 358.9,1882.1 353.5,1884.7 348.1,1887.4 342.7,1890 337.3,1892.7 331.9,1895.3 326.4,1898 321,1900.7 315.6,1903.3 310.2,1906 304.7,1908.7 299.3,1911.4 293.8,1914 288.4,1916.7 282.9,1919.4 277.4,1922.1 272,1924.8 266.5,1927.5 261,1930.2" fill="#b00000" stroke="#b00000" stroke-width="0.8"/>
<polygon points="261,1930.2 266.5,1927.5 272,1924.8 277.4,1922.1 282.9,1919.4 288.4,1916.7 293.8,1914 299.3,1911.4 304.7,1908.7 310.2,1906 315.6,1903.3 321,1900.7 326.4,1898 331.9,1895.3 337.3,1892.7 342.7,1890 348.1,1887.4 353.5,1884.7 358.9,1882.1 364.3,1879.6 370.2,1877.6 376.1,1875.7 382,1873.8 387.8,1871.9 393.7,1869.9 399.5,1868 405.4,1866.1 411.2,1864.2 417.1,1862.3 422.9,1860.4 428.7,1858.5 434.5,1856.6 440.4,1854.7 446.2,1852.8 452,1850.9 457.8,1849 463.5,1847.1 469.3,1845.2 475.1,1843.3 480.9,1841.4 486.6,1839.5 492.4,1837.6 498.1,1835.8 503.9,1833.9 509.6,1832 515.4,1830.1 521.1,1828.2 526.8,1826.4 532.5,1824.5 538.2,1822.6 543.9,1820.8 549.6,1818.9 555.3,1817 561,1815.2 566.7,1813.3 572.4,1811.5 578,1809.6 583.7,1807.7 589.4,1805.9 595,1804 600.7,1802.2 606.3,1800.4 611.9,1798.5 617.6,1796.7 623.2,1794.8 628.8,1793 634.4,1791.2 640,1789.3 645.6,1787.5 651.2,1785.7 656.8,1783.8 662.4,1782 667.9,1780.2 673.5,1778.4 679.1,1776.5 684.6,1774.7 690.2,1772.9 695.7,1771.1 701.3,1769.3 706.8,1767.5 712.3,1765.6 717.9,1763.8 723.4,1762 728.9,1760.2 734.4,1758.4 739.9,1756.6 745.4,1754.8 750.9,1753 756.4,1751.2 761.9,1749.4 767.3,1747.6 772.8,1745.9 778.3,1744.1 783.7,1742.3 789.2,1740.5 794.6,1738.7 800.1,1736.9 805.5,1735.2 810.9,1733.4 816.4,1731.6 821.8,1729.8 827.2,1728.1 832.6,1726.3 838,1724.5 843.4,1722.8 848.8,1721 854.2,1719.2 859.5,1717.5 864.9,1715.7 870.3,1713.9 875.7,1712.2 881,1710.4 886.4,1708.7 891.7,1706.9 897.1,1705.2 902.4,1703.4 907.7,1701.7 913.1,1700 918.4,1698.2 923.7,1696.5 929,1694.7 923.7,1696.5 918.4,1698.2 913.1,1700 907.7,1701.7 902.4,1703.4 897.1,1705.2 891.7,1706.9 886.4,1708.7 881,1710.4 875.7,1712.2 870.3,1713.9 864.9,1715.7 859.5,1717.5 854.2,1719.2 848.8,1721 843.4,1722.8 838,1724.5 832.6,1726.3 827.2,1728.1 821.8,1729.8 816.4,1731.6 810.9,1733.4 805.5,1735.2 800.1,1736.9 794.6,1738.7 789.2,1740.5 783.7,1742.3 778.3,1744.1 772.8,1745.9 767.3,1747.6 761.9,1749.4 756.4,1751.2 750.9,1753 745.4,1754.8 739.9,1756.6 734.4,1758.4 728.9,1760.2 723.4,1762 717.9,1763.8 712.3,1765.6 706.8,1767.5 701.3,1769.3 695.7,1771.1 690.2,1772.9 684.6,1774.7 679.1,1776.5 673.5,1778.4 667.9,1780.2 662.4,1782 656.8,1783.8 651.2,1785.7 645.6,1787.5 640,1789.3 634.4,1791.2 628.8,1793 623.2,1794.8 617.6,1796.7 611.9,1798.5 606.3,1800.4 600.7,1802.2 595,1804 589.4,1805.9 583.7,1807.7 578,1809.6 572.4,1811.5 566.7,1813.3 561,1815.2 555.3,1817 549.6,1818.9 543.9,1820.8 538.2,1822.6 532.5,1824.5 526.8,1826.4 521.1,1828.2 515.4,1830.1 509.6,1832 503.9,1833.9 498.1,1835.8 492.4,1837.6 486.6,1839.5 480.9,1841.4 475.1,1843.3 469.3,1845.2 463.5,1847.1 457.8,1849 452,1850.9 446.2,1852.8 440.4,1854.7 434.5,1856.6 428.7,1858.5 422.9,1860.4 417.1,1862.3 411.2,1864.2 405.4,1866.1 399.5,1868 393.7,1869.9 387.8,1871.9 382,1873.8 376.1,1875.7 370.2,1877.6 364.3,1879.6 358.4,1881.5 352.5,1883.4 346.6,1885.3 340.7,1887.3 334.8,1889.2 328.9,1891.2 322.9,1893.1 317,1895 311.1,1897 305.1,1898.9 299.2,1900.9 293.2,1902.8 287.2,1904.8 281.3,1906.7 275.3,1908.7 269.3,1910.7 263.3,1912.6 257.3,1914.6 251.3,1916.5" fill="#a00000" stroke="#a00000" stroke-width="0.8"/>
</g>
<g stroke="#768a92" stroke-width="2" stroke-dasharray="2.4 3.6" fill="none" opacity="0.9">
<path d="M854.7,2697.9 L823.7,2654.4 L792.9,2611.2 L762.2,2568.1 L731.7,2525.2 L701.2,2482.6 L671,2440.1 L640.8,2397.8 L610.8,2355.6 L580.9,2313.7 L551.2,2271.9 L521.5,2230.4 L492,2189 L462.7,2147.7 L433.4,2106.7 L404.3,2065.9 L375.3,2025.2 L346.5,1984.7 L317.7,1944.3 L289.1,1904.2"/>
<path d="M786.2,2669.9 L823.7,2654.4 L860.9,2639.1 L897.9,2623.9 L934.6,2608.8 L971,2593.8 L1007.2,2579 L1043.2,2564.2 L1078.9,2549.5 L1114.3,2534.9 L1149.5,2520.4 L1184.5,2506 L1219.2,2491.7 L1253.8,2477.5 L1288,2463.4 L1322.1,2449.4 L1355.9,2435.5 L1389.5,2421.7 L1422.9,2407.9 L1456,2394.3"/>
<path d="M891.9,2682.4 L860.9,2639.1 L830.1,2596.1 L799.5,2553.2 L768.9,2510.5 L738.5,2468 L708.3,2425.6 L678.2,2383.5 L648.2,2341.5 L618.3,2299.8 L588.6,2258.2 L559,2216.8 L529.5,2175.5 L500.1,2134.5 L470.9,2093.6 L441.8,2052.9 L412.9,2012.4 L384,1972.1 L355.3,1931.9 L326.7,1891.9"/>
<path d="M755.4,2626.4 L792.9,2611.2 L830.1,2596.1 L867.1,2581 L903.8,2566.1 L940.3,2551.3 L976.5,2536.6 L1012.5,2522 L1048.2,2507.4 L1083.7,2493 L1118.9,2478.7 L1154,2464.5 L1188.7,2450.4 L1223.3,2436.3 L1257.6,2422.4 L1291.6,2408.5 L1325.5,2394.8 L1359.1,2381.1 L1392.5,2367.5 L1425.7,2354.1"/>
<path d="M928.8,2667 L897.9,2623.9 L867.1,2581 L836.5,2538.3 L806,2495.8 L775.6,2453.5 L745.4,2411.3 L715.3,2369.3 L685.3,2327.6 L655.4,2286 L625.7,2244.5 L596.1,2203.3 L566.7,2162.2 L537.4,2121.3 L508.2,2080.6 L479.1,2040.1 L450.1,1999.7 L421.3,1959.5 L392.6,1919.5 L364,1879.7"/>
<path d="M724.7,2583.2 L762.2,2568.1 L799.5,2553.2 L836.5,2538.3 L873.2,2523.6 L909.7,2508.9 L946,2494.4 L982,2479.9 L1017.7,2465.6 L1053.2,2451.3 L1088.5,2437.2 L1123.5,2423.1 L1158.3,2409.2 L1192.9,2395.3 L1227.2,2381.5 L1261.3,2367.8 L1295.2,2354.2 L1328.9,2340.7 L1362.3,2327.3 L1395.5,2314"/>
<path d="M965.5,2651.7 L934.6,2608.8 L903.8,2566.1 L873.2,2523.6 L842.7,2481.2 L812.4,2439.1 L782.2,2397.1 L752.1,2355.3 L722.2,2313.7 L692.3,2272.2 L662.6,2231 L633.1,2189.9 L603.6,2149 L574.3,2108.3 L545.1,2067.7 L516.1,2027.3 L487.2,1987.1 L458.3,1947.1 L429.6,1907.2 L401.1,1867.5"/>
<path d="M694.1,2540.1 L731.7,2525.2 L768.9,2510.5 L806,2495.8 L842.7,2481.2 L879.3,2466.8 L915.5,2452.4 L951.6,2438.1 L987.3,2423.9 L1022.9,2409.8 L1058.2,2395.9 L1093.2,2382 L1128.1,2368.2 L1162.6,2354.4 L1197,2340.8 L1231.1,2327.3 L1265.1,2313.9 L1298.7,2300.5 L1332.2,2287.3 L1365.5,2274.1"/>
<path d="M1001.9,2636.6 L971,2593.8 L940.3,2551.3 L909.7,2508.9 L879.3,2466.8 L848.9,2424.8 L818.8,2382.9 L788.7,2341.3 L758.8,2299.9 L729,2258.6 L699.3,2217.5 L669.8,2176.6 L640.3,2135.8 L611,2095.3 L581.9,2054.9 L552.8,2014.7 L523.9,1974.6 L495.1,1934.7 L466.5,1895 L437.9,1855.5"/>
<path d="M663.7,2497.3 L701.2,2482.6 L738.5,2468 L775.6,2453.5 L812.4,2439.1 L848.9,2424.8 L885.2,2410.6 L921.3,2396.4 L957.1,2382.4 L992.7,2368.5 L1028,2354.7 L1063.1,2341 L1097.9,2327.3 L1132.5,2313.8 L1166.9,2300.3 L1201.1,2286.9 L1235,2273.7 L1268.7,2260.5 L1302.2,2247.4 L1335.5,2234.3"/>
<path d="M1038,2621.5 L1007.2,2579 L976.5,2536.6 L946,2494.4 L915.5,2452.4 L885.2,2410.6 L855.1,2368.9 L825,2327.4 L795.1,2286.2 L765.4,2245.1 L735.7,2204.1 L706.2,2163.4 L676.8,2122.8 L647.5,2082.4 L618.4,2042.1 L589.4,2002.1 L560.5,1962.2 L531.7,1922.4 L503,1882.9 L474.5,1843.5"/>
<path d="M633.4,2454.6 L671,2440.1 L708.3,2425.6 L745.4,2411.3 L782.2,2397.1 L818.8,2382.9 L855.1,2368.9 L891.1,2355 L927,2341.1 L962.6,2327.4 L997.9,2313.7 L1033,2300.1 L1067.9,2286.7 L1102.6,2273.3 L1137,2260 L1171.2,2246.8 L1205.1,2233.6 L1238.9,2220.6 L1272.4,2207.6 L1305.7,2194.8"/>
<path d="M1074,2606.6 L1043.2,2564.2 L1012.5,2522 L982,2479.9 L951.6,2438.1 L921.3,2396.4 L891.1,2355 L861.1,2313.7 L831.3,2272.5 L801.5,2231.6 L771.9,2190.8 L742.4,2150.2 L713,2109.8 L683.8,2069.6 L654.6,2029.5 L625.6,1989.6 L596.7,1949.8 L568,1910.3 L539.4,1870.8 L510.8,1831.6"/>
<path d="M603.2,2412.1 L640.8,2397.8 L678.2,2383.5 L715.3,2369.3 L752.1,2355.3 L788.7,2341.3 L825,2327.4 L861.1,2313.7 L897,2300 L932.6,2286.4 L968,2272.9 L1003.1,2259.5 L1038,2246.2 L1072.7,2232.9 L1107.1,2219.8 L1141.4,2206.7 L1175.4,2193.8 L1209.1,2180.9 L1242.7,2168.1 L1276,2155.3"/>
<path d="M1109.6,2591.7 L1078.9,2549.5 L1048.2,2507.4 L1017.7,2465.6 L987.3,2423.9 L957.1,2382.4 L927,2341.1 L897,2300 L867.1,2259 L837.4,2218.2 L807.8,2177.6 L778.3,2137.2 L749,2096.9 L719.7,2056.8 L690.6,2016.9 L661.7,1977.2 L632.8,1937.6 L604.1,1898.1 L575.4,1858.9 L546.9,1819.8"/>
<path d="M573.2,2369.8 L610.8,2355.6 L648.2,2341.5 L685.3,2327.6 L722.2,2313.7 L758.8,2299.9 L795.1,2286.2 L831.3,2272.5 L867.1,2259 L902.8,2245.6 L938.2,2232.3 L973.3,2219 L1008.3,2205.8 L1043,2192.8 L1077.4,2179.8 L1111.7,2166.9 L1145.7,2154.1 L1179.5,2141.3 L1213.1,2128.7 L1246.4,2116.1"/>
<path d="M1145.1,2576.9 L1114.3,2534.9 L1083.7,2493 L1053.2,2451.3 L1022.9,2409.8 L992.7,2368.5 L962.6,2327.4 L932.6,2286.4 L902.8,2245.6 L873.1,2205 L843.5,2164.5 L814,2124.2 L784.7,2084.1 L755.5,2044.2 L726.4,2004.4 L697.4,1964.8 L668.6,1925.4 L639.9,1886.1 L611.3,1847 L582.8,1808"/>
<path d="M543.3,2327.7 L580.9,2313.7 L618.3,2299.8 L655.4,2286 L692.3,2272.2 L729,2258.6 L765.4,2245.1 L801.5,2231.6 L837.4,2218.2 L873.1,2205 L908.5,2191.8 L943.7,2178.7 L978.6,2165.7 L1013.4,2152.8 L1047.9,2139.9 L1082.1,2127.2 L1116.2,2114.5 L1150,2101.9 L1183.6,2089.4 L1217,2077"/>
<path d="M1180.2,2562.3 L1149.5,2520.4 L1118.9,2478.7 L1088.5,2437.2 L1058.2,2395.9 L1028,2354.7 L997.9,2313.7 L968,2272.9 L938.2,2232.3 L908.5,2191.8 L878.9,2151.5 L849.5,2111.4 L820.2,2071.4 L791,2031.6 L761.9,1992 L733,1952.6 L704.2,1913.3 L675.5,1874.1 L646.9,1835.2 L618.4,1796.4"/>
<path d="M513.5,2285.8 L551.2,2271.9 L588.6,2258.2 L625.7,2244.5 L662.6,2231 L699.3,2217.5 L735.7,2204.1 L771.9,2190.8 L807.8,2177.6 L843.5,2164.5 L878.9,2151.5 L914.1,2138.6 L949.1,2125.7 L983.9,2112.9 L1018.4,2100.3 L1052.7,2087.7 L1086.8,2075.1 L1120.6,2062.7 L1154.2,2050.3 L1187.7,2038.1"/>
<path d="M1215.2,2547.7 L1184.5,2506 L1154,2464.5 L1123.5,2423.1 L1093.2,2382 L1063.1,2341 L1033,2300.1 L1003.1,2259.5 L973.3,2219 L943.7,2178.7 L914.1,2138.6 L884.7,2098.6 L855.5,2058.8 L826.3,2019.2 L797.2,1979.7 L768.3,1940.4 L739.5,1901.2 L710.9,1862.3 L682.3,1823.4 L653.8,1784.8"/>
<path d="M483.8,2244 L521.5,2230.4 L559,2216.8 L596.1,2203.3 L633.1,2189.9 L669.8,2176.6 L706.2,2163.4 L742.4,2150.2 L778.3,2137.2 L814,2124.2 L849.5,2111.4 L884.7,2098.6 L919.7,2085.9 L954.5,2073.3 L989.1,2060.7 L1023.4,2048.3 L1057.5,2035.9 L1091.3,2023.6 L1125,2011.4 L1158.4,1999.3"/>
<path d="M1249.9,2533.3 L1219.2,2491.7 L1188.7,2450.4 L1158.3,2409.2 L1128.1,2368.2 L1097.9,2327.3 L1067.9,2286.7 L1038,2246.2 L1008.3,2205.8 L978.6,2165.7 L949.1,2125.7 L919.7,2085.9 L890.5,2046.2 L861.3,2006.8 L832.3,1967.4 L803.4,1928.3 L774.6,1889.3 L746,1850.5 L717.4,1811.8 L689,1773.3"/>
<path d="M454.3,2202.5 L492,2189 L529.5,2175.5 L566.7,2162.2 L603.6,2149 L640.3,2135.8 L676.8,2122.8 L713,2109.8 L749,2096.9 L784.7,2084.1 L820.2,2071.4 L855.5,2058.8 L890.5,2046.2 L925.3,2033.8 L959.8,2021.4 L994.2,2009.1 L1028.3,1996.9 L1062.2,1984.7 L1095.9,1972.7 L1129.4,1960.7"/>
<path d="M1284.4,2518.9 L1253.8,2477.5 L1223.3,2436.3 L1192.9,2395.3 L1162.6,2354.4 L1132.5,2313.8 L1102.6,2273.3 L1072.7,2232.9 L1043,2192.8 L1013.4,2152.8 L983.9,2112.9 L954.5,2073.3 L925.3,2033.8 L896.2,1994.4 L867.2,1955.3 L838.3,1916.3 L809.5,1877.4 L780.9,1838.7 L752.4,1800.2 L724,1761.8"/>
<path d="M424.9,2161.1 L462.7,2147.7 L500.1,2134.5 L537.4,2121.3 L574.3,2108.3 L611,2095.3 L647.5,2082.4 L683.8,2069.6 L719.7,2056.8 L755.5,2044.2 L791,2031.6 L826.3,2019.2 L861.3,2006.8 L896.2,1994.4 L930.7,1982.2 L965.1,1970.1 L999.3,1958 L1033.2,1946 L1066.9,1934.1 L1100.4,1922.2"/>
<path d="M1318.6,2504.6 L1288,2463.4 L1257.6,2422.4 L1227.2,2381.5 L1197,2340.8 L1166.9,2300.3 L1137,2260 L1107.1,2219.8 L1077.4,2179.8 L1047.9,2139.9 L1018.4,2100.3 L989.1,2060.7 L959.8,2021.4 L930.7,1982.2 L901.8,1943.2 L872.9,1904.3 L844.2,1865.6 L815.6,1827.1 L787.1,1788.7 L758.7,1750.5"/>
<path d="M395.7,2119.9 L433.4,2106.7 L470.9,2093.6 L508.2,2080.6 L545.1,2067.7 L581.9,2054.9 L618.4,2042.1 L654.6,2029.5 L690.6,2016.9 L726.4,2004.4 L761.9,1992 L797.2,1979.7 L832.3,1967.4 L867.2,1955.3 L901.8,1943.2 L936.2,1931.2 L970.3,1919.3 L1004.3,1907.4 L1038,1895.6 L1071.5,1883.9"/>
<path d="M1352.6,2490.5 L1322.1,2449.4 L1291.6,2408.5 L1261.3,2367.8 L1231.1,2327.3 L1201.1,2286.9 L1171.2,2246.8 L1141.4,2206.7 L1111.7,2166.9 L1082.1,2127.2 L1052.7,2087.7 L1023.4,2048.3 L994.2,2009.1 L965.1,1970.1 L936.2,1931.2 L907.3,1892.5 L878.6,1853.9 L850,1815.5 L821.6,1777.3 L793.2,1739.2"/>
<path d="M366.6,2078.9 L404.3,2065.9 L441.8,2052.9 L479.1,2040.1 L516.1,2027.3 L552.8,2014.7 L589.4,2002.1 L625.6,1989.6 L661.7,1977.2 L697.4,1964.8 L733,1952.6 L768.3,1940.4 L803.4,1928.3 L838.3,1916.3 L872.9,1904.3 L907.3,1892.5 L941.5,1880.7 L975.5,1869 L1009.3,1857.3 L1042.8,1845.8"/>
<path d="M1386.4,2476.4 L1355.9,2435.5 L1325.5,2394.8 L1295.2,2354.2 L1265.1,2313.9 L1235,2273.7 L1205.1,2233.6 L1175.4,2193.8 L1145.7,2154.1 L1116.2,2114.5 L1086.8,2075.1 L1057.5,2035.9 L1028.3,1996.9 L999.3,1958 L970.3,1919.3 L941.5,1880.7 L912.8,1842.3 L884.3,1804 L855.8,1765.9 L827.5,1728"/>
<path d="M337.5,2038 L375.3,2025.2 L412.9,2012.4 L450.1,1999.7 L487.2,1987.1 L523.9,1974.6 L560.5,1962.2 L596.7,1949.8 L632.8,1937.6 L668.6,1925.4 L704.2,1913.3 L739.5,1901.2 L774.6,1889.3 L809.5,1877.4 L844.2,1865.6 L878.6,1853.9 L912.8,1842.3 L946.8,1830.7 L980.6,1819.2 L1014.2,1807.8"/>
<path d="M1420,2462.4 L1389.5,2421.7 L1359.1,2381.1 L1328.9,2340.7 L1298.7,2300.5 L1268.7,2260.5 L1238.9,2220.6 L1209.1,2180.9 L1179.5,2141.3 L1150,2101.9 L1120.6,2062.7 L1091.3,2023.6 L1062.2,1984.7 L1033.2,1946 L1004.3,1907.4 L975.5,1869 L946.8,1830.7 L918.3,1792.6 L889.8,1754.6 L861.5,1716.8"/>
<path d="M308.7,1997.4 L346.5,1984.7 L384,1972.1 L421.3,1959.5 L458.3,1947.1 L495.1,1934.7 L531.7,1922.4 L568,1910.3 L604.1,1898.1 L639.9,1886.1 L675.5,1874.1 L710.9,1862.3 L746,1850.5 L780.9,1838.7 L815.6,1827.1 L850,1815.5 L884.3,1804 L918.3,1792.6 L952.1,1781.2 L985.7,1770"/>
<path d="M1453.3,2448.5 L1422.9,2407.9 L1392.5,2367.5 L1362.3,2327.3 L1332.2,2287.3 L1302.2,2247.4 L1272.4,2207.6 L1242.7,2168.1 L1213.1,2128.7 L1183.6,2089.4 L1154.2,2050.3 L1125,2011.4 L1095.9,1972.7 L1066.9,1934.1 L1038,1895.6 L1009.3,1857.3 L980.6,1819.2 L952.1,1781.2 L923.7,1743.4 L895.4,1705.7"/>
<path d="M279.9,1956.9 L317.7,1944.3 L355.3,1931.9 L392.6,1919.5 L429.6,1907.2 L466.5,1895 L503,1882.9 L539.4,1870.8 L575.4,1858.9 L611.3,1847 L646.9,1835.2 L682.3,1823.4 L717.4,1811.8 L752.4,1800.2 L787.1,1788.7 L821.6,1777.3 L855.8,1765.9 L889.8,1754.6 L923.7,1743.4 L957.3,1732.3"/>
</g>
<g stroke="#000" stroke-linecap="square" fill="none">
<path d="M284.7,2606.8 L248.9,1866.5" stroke-width="4.1"/>
<path d="M284.7,2606.8 L818.9,3008.5" stroke-width="4.3"/>
<path d="M818.9,3008.5 L1475.2,2671.4" stroke-width="3.7"/>
</g>
<g stroke="#000" stroke-width="3" stroke-linecap="butt" fill="none">
<path d="M284.7,2606.8 L295.1,2602"/>
<path d="M283.5,2581.8 L289.4,2579.1"/>
<path d="M282.2,2556.7 L288.2,2554"/>
<path d="M281,2531.5 L286.9,2528.8"/>
<path d="M279.8,2506.2 L290.3,2501.5"/>
<path d="M278.6,2480.8 L284.5,2478.1"/>
<path d="M277.3,2455.2 L283.3,2452.6"/>
<path d="M276.1,2429.6 L282,2427"/>
<path d="M274.9,2403.9 L285.4,2399.3"/>
<path d="M273.6,2378.1 L279.6,2375.5"/>
<path d="M272.3,2352.2 L278.3,2349.6"/>
<path d="M271.1,2326.1 L277.1,2323.5"/>
<path d="M269.8,2300 L280.4,2295.4"/>
<path d="M268.6,2273.7 L274.5,2271.2"/>
<path d="M267.3,2247.4 L273.3,2244.8"/>
<path d="M266,2220.9 L272,2218.4"/>
<path d="M264.7,2194.3 L275.3,2189.8"/>
<path d="M263.4,2167.6 L269.4,2165.1"/>
<path d="M262.1,2140.8 L268.1,2138.3"/>
<path d="M260.8,2113.9 L266.8,2111.4"/>
<path d="M259.5,2086.9 L270.2,2082.5"/>
<path d="M258.2,2059.7 L264.2,2057.3"/>
<path d="M256.9,2032.5 L262.9,2030"/>
<path d="M255.6,2005.1 L261.6,2002.7"/>
<path d="M254.2,1977.6 L264.9,1973.3"/>
<path d="M252.9,1950 L258.9,1947.6"/>
<path d="M251.6,1922.3 L257.6,1919.9"/>
<path d="M250.2,1894.5 L256.3,1892.1"/>
<path d="M248.9,1866.5 L259.6,1862.3"/>
<path d="M818.9,3008.5 L828.2,3003.7"/>
<path d="M806.1,2999 L810.4,2996.8"/>
<path d="M793.4,2989.4 L797.7,2987.2"/>
<path d="M780.8,2979.9 L785.1,2977.7"/>
<path d="M768.2,2970.4 L772.5,2968.3"/>
<path d="M755.6,2961 L765,2956.2"/>
<path d="M743.1,2951.6 L747.4,2949.4"/>
<path d="M730.6,2942.2 L734.9,2940"/>
<path d="M718.2,2932.8 L722.5,2930.7"/>
<path d="M705.8,2923.5 L710.1,2921.3"/>
<path d="M693.4,2914.2 L702.8,2909.5"/>
<path d="M681.1,2904.9 L685.4,2902.8"/>
<path d="M668.8,2895.7 L673.1,2893.6"/>
<path d="M656.6,2886.5 L660.9,2884.4"/>
<path d="M644.4,2877.3 L648.7,2875.2"/>
<path d="M632.2,2868.2 L641.6,2863.5"/>
<path d="M620.1,2859 L624.4,2856.9"/>
<path d="M608,2850 L612.3,2847.8"/>
<path d="M596,2840.9 L600.3,2838.8"/>
<path d="M583.9,2831.9 L588.3,2829.8"/>
<path d="M572,2822.9 L581.4,2818.3"/>
<path d="M560,2813.9 L564.4,2811.8"/>
<path d="M548.1,2804.9 L552.5,2802.8"/>
<path d="M536.3,2796 L540.6,2793.9"/>
<path d="M524.5,2787.1 L528.8,2785.1"/>
<path d="M512.7,2778.3 L522.2,2773.7"/>
<path d="M500.9,2769.4 L505.3,2767.4"/>
<path d="M489.2,2760.6 L493.6,2758.6"/>
<path d="M477.6,2751.9 L481.9,2749.8"/>
<path d="M465.9,2743.1 L470.3,2741.1"/>
<path d="M454.3,2734.4 L463.8,2729.9"/>
<path d="M442.8,2725.7 L447.1,2723.6"/>
<path d="M431.3,2717 L435.6,2715"/>
<path d="M419.8,2708.4 L424.1,2706.3"/>
<path d="M408.3,2699.8 L412.7,2697.7"/>
<path d="M396.9,2691.2 L406.4,2686.7"/>
<path d="M385.5,2682.6 L389.9,2680.6"/>
<path d="M374.2,2674.1 L378.5,2672.1"/>
<path d="M362.9,2665.6 L367.2,2663.6"/>
<path d="M351.6,2657.1 L355.9,2655.1"/>
<path d="M340.3,2648.7 L349.9,2644.3"/>
<path d="M329.1,2640.2 L333.5,2638.2"/>
<path d="M318,2631.8 L322.3,2629.8"/>
<path d="M306.8,2623.5 L311.2,2621.4"/>
<path d="M295.7,2615.1 L300.1,2613.1"/>
<path d="M284.7,2606.8 L294.2,2602.4"/>
<path d="M818.9,3008.5 L810.5,3002.2"/>
<path d="M876.6,2978.9 L872.6,2975.9"/>
<path d="M933.8,2949.5 L925.3,2943.3"/>
<path d="M990.4,2920.4 L986.3,2917.5"/>
<path d="M1046.4,2891.6 L1037.9,2885.5"/>
<path d="M1101.9,2863.2 L1097.8,2860.3"/>
<path d="M1156.8,2834.9 L1148.2,2828.9"/>
<path d="M1211.2,2807 L1207.1,2804.2"/>
<path d="M1265,2779.3 L1256.3,2773.4"/>
<path d="M1318.3,2752 L1314.2,2749.2"/>
<path d="M1371.1,2724.8 L1362.4,2719"/>
<path d="M1423.4,2698 L1419.2,2695.2"/>
<path d="M1475.2,2671.4 L1466.4,2665.6"/>
</g>
<g fill="#000">
<text transform="matrix(0.8924 -0.3802 0.0531 1.0987 199.8 2562.6)" font-size="52" text-anchor="middle">0.01</text>
<text transform="matrix(0.8924 -0.3802 0.0531 1.0987 194.8 2460.4)" font-size="52" text-anchor="middle">0.02</text>
<text transform="matrix(0.8924 -0.3802 0.0531 1.0987 189.8 2356.4)" font-size="52" text-anchor="middle">0.03</text>
<text transform="matrix(0.8924 -0.3802 0.0531 1.0987 184.7 2250.8)" font-size="52" text-anchor="middle">0.04</text>
<text transform="matrix(0.8924 -0.3802 0.0531 1.0987 179.5 2143.3)" font-size="52" text-anchor="middle">0.05</text>
<text transform="matrix(0.8924 -0.3802 0.0531 1.0987 174.2 2034.1)" font-size="52" text-anchor="middle">0.06</text>
<text transform="matrix(0.8924 -0.3802 0.0531 1.0987 168.9 1923)" font-size="52" text-anchor="middle">0.07</text>
<text transform="matrix(0.0433 0.8960 -0.9660 0.4115 49.6 2340.3)" font-size="56" text-anchor="middle">AWC (cm<tspan dy="-22" font-size="40">3</tspan><tspan dy="22"> cm</tspan><tspan dy="-22" font-size="40">-3</tspan><tspan dy="22">)</tspan></text>
<text transform="matrix(0.7116 -0.3656 0.8232 0.6191 770.2 3052.6)" font-size="52" text-anchor="middle">0.0</text>
<text transform="matrix(0.7116 -0.3656 0.8232 0.6191 707 3005)" font-size="52" text-anchor="middle">0.5</text>
<text transform="matrix(0.7116 -0.3656 0.8232 0.6191 644.7 2958.2)" font-size="52" text-anchor="middle">1.0</text>
<text transform="matrix(0.7116 -0.3656 0.8232 0.6191 583.5 2912.2)" font-size="52" text-anchor="middle">1.5</text>
<text transform="matrix(0.7116 -0.3656 0.8232 0.6191 523.3 2866.9)" font-size="52" text-anchor="middle">2.0</text>
<text transform="matrix(0.7116 -0.3656 0.8232 0.6191 464 2822.3)" font-size="52" text-anchor="middle">2.5</text>
<text transform="matrix(0.7116 -0.3656 0.8232 0.6191 405.7 2778.4)" font-size="52" text-anchor="middle">3.0</text>
<text transform="matrix(0.7116 -0.3656 0.8232 0.6191 348.2 2735.2)" font-size="52" text-anchor="middle">3.5</text>
<text transform="matrix(0.7116 -0.3656 0.8232 0.6191 291.7 2692.7)" font-size="52" text-anchor="middle">4.0</text>
<text transform="matrix(0.7116 -0.3656 0.8232 0.6191 236 2650.8)" font-size="52" text-anchor="middle">4.5</text>
<text transform="matrix(0.5954 0.4478 -0.8183 0.4204 355.2 2883.4)" font-size="56" text-anchor="middle" letter-spacing="-1.3" word-spacing="8">diatomite rate (%)</text>
<text transform="matrix(0.6394 0.4808 -0.9340 0.4798 849.5 3056)" font-size="52" text-anchor="middle">0.0</text>
<text transform="matrix(0.6394 0.4808 -0.9340 0.4798 964.4 2996.9)" font-size="52" text-anchor="middle">0.2</text>
<text transform="matrix(0.6394 0.4808 -0.9340 0.4798 1077 2939.1)" font-size="52" text-anchor="middle">0.4</text>
<text transform="matrix(0.6394 0.4808 -0.9340 0.4798 1187.4 2882.4)" font-size="52" text-anchor="middle">0.6</text>
<text transform="matrix(0.6394 0.4808 -0.9340 0.4798 1295.6 2826.8)" font-size="52" text-anchor="middle">0.8</text>
<text transform="matrix(0.6394 0.4808 -0.9340 0.4798 1401.7 2772.3)" font-size="52" text-anchor="middle">1.0</text>
<text transform="matrix(0.6394 0.4808 -0.9340 0.4798 1505.8 2718.8)" font-size="52" text-anchor="middle">1.2</text>
<text transform="matrix(0.7401 -0.3802 0.7992 0.6011 1281 2962.1)" font-size="56" text-anchor="middle" word-spacing="-4">diatomite particle size (mm)</text>
</g>
<g stroke="#000" stroke-width="0.45">
<text x="1553" y="473" font-size="50" letter-spacing="0.15">PWC (cm<tspan dy="-20" font-size="38.5">3</tspan><tspan dy="20"> cm</tspan><tspan dy="-20" font-size="38.5">-3</tspan><tspan dy="20">)</tspan></text>
<rect x="1533" y="537" width="74" height="46.5" fill="#990000" stroke="#1a1a1a" stroke-width="2.4"/>
<text x="1655" y="604" font-size="50" letter-spacing="0.7">&gt; 0.05</text>
<rect x="1533" y="629.5" width="74" height="46.5" fill="#b40000" stroke="#1a1a1a" stroke-width="2.4"/>
<text x="1655" y="696.5" font-size="50" letter-spacing="0.7">&lt; 0.05</text>
<rect x="1533" y="722" width="74" height="46.5" fill="#ff4000" stroke="#1a1a1a" stroke-width="2.4"/>
<text x="1655" y="789" font-size="50" letter-spacing="0.7">&lt; 0.0425</text>
<rect x="1533" y="814.5" width="74" height="46.5" fill="#b4ff00" stroke="#1a1a1a" stroke-width="2.4"/>
<text x="1655" y="881.5" font-size="50" letter-spacing="0.7">&lt; 0.035</text>
<rect x="1533" y="907" width="74" height="46.5" fill="#00b400" stroke="#1a1a1a" stroke-width="2.4"/>
<text x="1655" y="974" font-size="50" letter-spacing="0.7">&lt; 0.0275</text>
</g>
<g stroke="#000" stroke-width="0.45">
<text x="1550" y="1999" font-size="50" letter-spacing="0.15">AWC (cm<tspan dy="-20" font-size="38.5">3</tspan><tspan dy="20"> cm</tspan><tspan dy="-20" font-size="38.5">-3</tspan><tspan dy="20">)</tspan></text>
<rect x="1573.5" y="2045.3" width="74" height="46.5" fill="#960000" stroke="#1a1a1a" stroke-width="2.4"/>
<text x="1697.5" y="2109.5" font-size="50" letter-spacing="0.7">&gt; 0.07</text>
<rect x="1573.5" y="2137" width="74" height="46.5" fill="#b40000" stroke="#1a1a1a" stroke-width="2.4"/>
<text x="1697.5" y="2201.2" font-size="50" letter-spacing="0.7">&lt; 0.07</text>
<rect x="1573.5" y="2228.7" width="74" height="46.5" fill="#ff2800" stroke="#1a1a1a" stroke-width="2.4"/>
<text x="1697.5" y="2292.9" font-size="50" letter-spacing="0.7">&lt; 0.06</text>
<rect x="1573.5" y="2320.4" width="74" height="46.5" fill="#dcff00" stroke="#1a1a1a" stroke-width="2.4"/>
<text x="1697.5" y="2384.6" font-size="50" letter-spacing="0.7">&lt; 0.05</text>
<rect x="1573.5" y="2412.1" width="74" height="46.5" fill="#00dc00" stroke="#1a1a1a" stroke-width="2.4"/>
<text x="1697.5" y="2476.3" font-size="50" letter-spacing="0.7">&lt; 0.04</text>
<rect x="1573.5" y="2503.8" width="74" height="46.5" fill="#00643c" stroke="#1a1a1a" stroke-width="2.4"/>
<text x="1697.5" y="2568" font-size="50" letter-spacing="0.7">&lt; 0.03</text>
</g>
</svg>
</body></html>
